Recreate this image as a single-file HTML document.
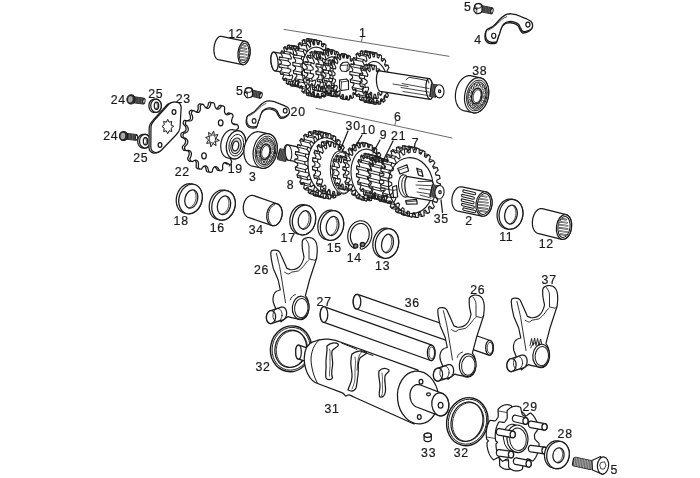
<!DOCTYPE html>
<html><head><meta charset="utf-8"><style>
html,body{margin:0;padding:0;background:#fff;width:700px;height:478px;overflow:hidden}
svg{display:block;filter:grayscale(1)}
text{font-family:"Liberation Sans",sans-serif;font-size:12.3px;letter-spacing:0.8px;fill:#1a1a1a;stroke:#1a1a1a;stroke-width:0.2px}
</style></head><body>
<svg width="700" height="478" viewBox="0 0 700 478" stroke-linejoin="round" stroke-linecap="round">
<rect width="700" height="478" fill="#fff"/>
<line x1="284" y1="29.4" x2="449" y2="56.3" stroke="#444" stroke-width="0.8"/>
<line x1="362.5" y1="36.5" x2="361.5" y2="41.5" stroke="#444" stroke-width="0.8"/>
<line x1="316" y1="108.4" x2="452" y2="138" stroke="#444" stroke-width="0.8"/>
<line x1="396" y1="120.5" x2="395" y2="125" stroke="#444" stroke-width="0.8"/>
<path d="M218.46 59.69 L218 59.55 L217.55 59.35 L217.12 59.07 L216.71 58.73 L216.32 58.32 L215.95 57.85 L215.6 57.32 L215.29 56.73 L215 56.08 L214.74 55.39 L214.52 54.65 L214.32 53.87 L214.17 53.05 L214.05 52.2 L213.96 51.33 L213.92 50.43 L213.91 49.52 L213.94 48.6 L214 47.68 L214.11 46.76 L214.24 45.85 L214.42 44.95 L214.63 44.07 L214.87 43.21 L215.15 42.38 L215.45 41.59 L215.78 40.84 L216.14 40.13 L216.52 39.47 L216.92 38.86 L217.35 38.31 L217.78 37.82 L218.24 37.39 L218.7 37.02 L219.17 36.73 L219.65 36.5 L220.13 36.35 L220.6 36.26 L221.08 36.25 L221.54 36.31 L245.54 41.31 L246 41.45 L246.45 41.65 L246.88 41.93 L247.29 42.27 L247.68 42.68 L248.05 43.15 L248.4 43.68 L248.71 44.27 L249 44.92 L249.26 45.61 L249.48 46.35 L249.68 47.13 L249.83 47.95 L249.95 48.8 L250.04 49.67 L250.08 50.57 L250.09 51.48 L250.06 52.4 L250 53.32 L249.89 54.24 L249.76 55.15 L249.58 56.05 L249.37 56.93 L249.13 57.79 L248.85 58.62 L248.55 59.41 L248.22 60.16 L247.86 60.87 L247.48 61.53 L247.08 62.14 L246.65 62.69 L246.22 63.18 L245.76 63.61 L245.3 63.98 L244.83 64.27 L244.35 64.5 L243.87 64.65 L243.4 64.74 L242.92 64.75 L242.46 64.69 Z" fill="#fff" stroke="#1a1a1a" stroke-width="1.25" />
<ellipse cx="244" cy="53" rx="6" ry="11.8" transform="rotate(6 244 53)" fill="#fff" stroke="#1a1a1a" stroke-width="1.25"/>
<ellipse cx="244" cy="53" rx="4.8" ry="9.91" transform="rotate(6 244 53)" fill="none" stroke="#1a1a1a" stroke-width="1"/>
<path d="M241.3 45.0 L245.8 46.0 M240.2 47.9 L246.5 48.9 M239.7 50.8 L246.8 51.8 M239.7 53.8 L246.8 54.8 M240.2 56.7 L246.5 57.7 M241.3 59.6 L245.8 60.6 " fill="none" stroke="#1a1a1a" stroke-width="1.6" />
<path d="M241.3 45.0 L245.8 46.0 M240.2 47.9 L246.5 48.9 M239.7 50.8 L246.8 51.8 M239.7 53.8 L246.8 54.8 M240.2 56.7 L246.5 57.7 M241.3 59.6 L245.8 60.6 " fill="none" stroke="#fff" stroke-width="0.6" />
<path d="M275.12 70.93 L274.84 70.86 L274.56 70.72 L274.27 70.53 L273.99 70.28 L273.71 69.98 L273.44 69.62 L273.17 69.22 L272.91 68.77 L272.66 68.27 L272.42 67.73 L272.19 67.15 L271.98 66.54 L271.79 65.9 L271.61 65.23 L271.44 64.53 L271.3 63.82 L271.18 63.1 L271.08 62.36 L270.99 61.62 L270.93 60.88 L270.9 60.14 L270.88 59.41 L270.89 58.69 L270.92 57.99 L270.97 57.31 L271.04 56.66 L271.13 56.04 L271.25 55.45 L271.38 54.9 L271.54 54.39 L271.71 53.92 L271.9 53.5 L272.11 53.13 L272.33 52.81 L272.56 52.55 L272.8 52.33 L273.06 52.18 L273.33 52.08 L273.6 52.05 L273.88 52.07 L291.38 55.07 L291.66 55.14 L291.94 55.28 L292.23 55.47 L292.51 55.72 L292.79 56.02 L293.06 56.38 L293.33 56.78 L293.59 57.23 L293.84 57.73 L294.08 58.27 L294.31 58.85 L294.52 59.46 L294.71 60.1 L294.89 60.77 L295.06 61.47 L295.2 62.18 L295.32 62.9 L295.42 63.64 L295.51 64.38 L295.57 65.12 L295.6 65.86 L295.62 66.59 L295.61 67.31 L295.58 68.01 L295.53 68.69 L295.46 69.34 L295.37 69.96 L295.25 70.55 L295.12 71.1 L294.96 71.61 L294.79 72.08 L294.6 72.5 L294.39 72.87 L294.17 73.19 L293.94 73.45 L293.7 73.67 L293.44 73.82 L293.17 73.92 L292.9 73.95 L292.62 73.93 Z" fill="#fff" stroke="#1a1a1a" stroke-width="1.25" />
<ellipse cx="274.5" cy="61.5" rx="3.5" ry="9.5" transform="rotate(-6 274.5 61.5)" fill="#fff" stroke="#1a1a1a" stroke-width="1.25"/>
<path d="M300.55 64.5 L300.68 66.31 L303.13 67.83 L303.03 70.42 L300.52 70.46 L300.26 72.15 L302.32 75 L301.66 77.25 L299.21 75.75 L298.59 77.09 L299.98 80.89 L298.85 82.49 L296.79 79.65 L295.89 80.47 L296.43 84.7 L294.98 85.44 L293.59 81.65 L292.54 81.83 L292.14 85.92 L290.58 85.69 L290.04 81.46 L288.97 80.98 L287.71 84.38 L286.23 83.22 L286.61 79.12 L285.68 78.04 L283.71 80.29 L282.52 78.35 L283.79 74.94 L283.11 73.41 L280.7 74.21 L279.96 71.75 L281.93 69.48 L281.61 67.71 L279.09 66.94 L278.89 64.3 L281.3 63.49 L281.37 61.71 L279.08 59.48 L279.46 57.02 L281.98 57.77 L282.43 56.22 L280.68 52.84 L281.58 50.88 L283.88 53.09 L284.65 51.99 L283.67 47.9 L284.98 46.71 L286.74 50.09 L287.73 49.58 L287.66 45.34 L289.19 45.09 L290.17 49.17 L291.25 49.32 L292.09 45.51 L293.64 46.22 L293.72 50.45 L294.73 51.25 L296.38 48.37 L297.74 49.95 L296.9 53.77 L297.72 55.1 L299.94 53.55 L300.92 55.78 L299.28 58.67 L299.79 60.36 L302.3 60.34 L302.77 62.93 Z" fill="#fff" stroke="#1a1a1a" stroke-width="1.1" />
<path d="M303.13 67.83 L312.13 69.33 M303.03 70.42 L312.03 71.92 M302.32 75 L311.32 76.5 M301.66 77.25 L310.66 78.75 M299.98 80.89 L308.98 82.39 M298.85 82.49 L307.85 83.99 M296.43 84.7 L305.43 86.2 M294.98 85.44 L303.98 86.94 M292.14 85.92 L301.14 87.42 M290.58 85.69 L299.58 87.19 M287.71 84.38 L296.71 85.88 M286.23 83.22 L295.23 84.72 M283.71 80.29 L292.71 81.79 M282.52 78.35 L291.52 79.85 M280.7 74.21 L289.7 75.71 M279.96 71.75 L288.96 73.25 M279.09 66.94 L288.09 68.44 M278.89 64.3 L287.89 65.8 M279.08 59.48 L288.08 60.98 M279.46 57.02 L288.46 58.52 M280.68 52.84 L289.68 54.34 M281.58 50.88 L290.58 52.38 M283.67 47.9 L292.67 49.4 M284.98 46.71 L293.98 48.21 M287.66 45.34 L296.66 46.84 M289.19 45.09 L298.19 46.59 M292.09 45.51 L301.09 47.01 M293.64 46.22 L302.64 47.72 M296.38 48.37 L305.38 49.87 M297.74 49.95 L306.74 51.45 M299.94 53.55 L308.94 55.05 M300.92 55.78 L309.92 57.28 M302.3 60.34 L311.3 61.84 M302.77 62.93 L311.77 64.43 " fill="none" stroke="#222" stroke-width="0.99" />
<path d="M309.55 66 L309.68 67.81 L312.13 69.33 L312.03 71.92 L309.52 71.96 L309.26 73.65 L311.32 76.5 L310.66 78.75 L308.21 77.25 L307.59 78.59 L308.98 82.39 L307.85 83.99 L305.79 81.15 L304.89 81.97 L305.43 86.2 L303.98 86.94 L302.59 83.15 L301.54 83.33 L301.14 87.42 L299.58 87.19 L299.04 82.96 L297.97 82.48 L296.71 85.88 L295.23 84.72 L295.61 80.62 L294.68 79.54 L292.71 81.79 L291.52 79.85 L292.79 76.44 L292.11 74.91 L289.7 75.71 L288.96 73.25 L290.93 70.98 L290.61 69.21 L288.09 68.44 L287.89 65.8 L290.3 64.99 L290.37 63.21 L288.08 60.98 L288.46 58.52 L290.98 59.27 L291.43 57.72 L289.68 54.34 L290.58 52.38 L292.88 54.59 L293.65 53.49 L292.67 49.4 L293.98 48.21 L295.74 51.59 L296.73 51.08 L296.66 46.84 L298.19 46.59 L299.17 50.67 L300.25 50.82 L301.09 47.01 L302.64 47.72 L302.72 51.95 L303.73 52.75 L305.38 49.87 L306.74 51.45 L305.9 55.27 L306.72 56.6 L308.94 55.05 L309.92 57.28 L308.28 60.17 L308.79 61.86 L311.3 61.84 L311.77 64.43 Z" fill="#fff" stroke="#1a1a1a" stroke-width="1.1" />
<path d="M324.37 65.99 L324.54 68.09 L327.16 69.64 L327.15 72.5 L324.51 72.96 L324.33 74.99 L326.67 77.67 L326.17 80.32 L323.48 79.48 L322.95 81.27 L324.82 84.88 L323.89 87.1 L321.36 85.04 L320.53 86.45 L321.78 90.68 L320.47 92.29 L318.31 89.17 L317.26 90.08 L317.78 94.6 L316.21 95.47 L314.6 91.55 L313.39 91.89 L313.15 96.33 L311.45 96.38 L310.51 91.98 L309.25 91.72 L308.27 95.72 L306.57 94.96 L306.37 90.43 L305.18 89.59 L303.52 92.82 L301.97 91.31 L302.54 87.02 L301.49 85.67 L299.3 87.88 L298.02 85.73 L299.3 82.02 L298.49 80.28 L295.95 81.28 L295.03 78.68 L296.94 75.86 L296.43 73.85 L293.74 73.57 L293.27 70.72 L295.63 69.01 L295.46 66.91 L292.84 65.36 L292.85 62.5 L295.49 62.04 L295.67 60.01 L293.33 57.33 L293.83 54.68 L296.52 55.52 L297.05 53.73 L295.18 50.12 L296.11 47.9 L298.64 49.96 L299.47 48.55 L298.22 44.32 L299.53 42.71 L301.69 45.83 L302.74 44.92 L302.22 40.4 L303.79 39.53 L305.4 43.45 L306.61 43.11 L306.85 38.67 L308.55 38.62 L309.49 43.02 L310.75 43.28 L311.73 39.28 L313.43 40.04 L313.63 44.57 L314.82 45.41 L316.48 42.18 L318.03 43.69 L317.46 47.98 L318.51 49.33 L320.7 47.12 L321.98 49.27 L320.7 52.98 L321.51 54.72 L324.05 53.72 L324.97 56.32 L323.06 59.14 L323.57 61.15 L326.26 61.43 L326.73 64.28 Z" fill="#fff" stroke="#1a1a1a" stroke-width="1.1" />
<path d="M327.16 69.64 L335.16 71.14 M327.15 72.5 L335.15 74 M326.67 77.67 L334.67 79.17 M326.17 80.32 L334.17 81.82 M324.82 84.88 L332.82 86.38 M323.89 87.1 L331.89 88.6 M321.78 90.68 L329.78 92.18 M320.47 92.29 L328.47 93.79 M317.78 94.6 L325.78 96.1 M316.21 95.47 L324.21 96.97 M313.15 96.33 L321.15 97.83 M311.45 96.38 L319.45 97.88 M308.27 95.72 L316.27 97.22 M306.57 94.96 L314.57 96.46 M303.52 92.82 L311.52 94.32 M301.97 91.31 L309.97 92.81 M299.3 87.88 L307.3 89.38 M298.02 85.73 L306.02 87.23 M295.95 81.28 L303.95 82.78 M295.03 78.68 L303.03 80.18 M293.74 73.57 L301.74 75.07 M293.27 70.72 L301.27 72.22 M292.84 65.36 L300.84 66.86 M292.85 62.5 L300.85 64 M293.33 57.33 L301.33 58.83 M293.83 54.68 L301.83 56.18 M295.18 50.12 L303.18 51.62 M296.11 47.9 L304.11 49.4 M298.22 44.32 L306.22 45.82 M299.53 42.71 L307.53 44.21 M302.22 40.4 L310.22 41.9 M303.79 39.53 L311.79 41.03 M306.85 38.67 L314.85 40.17 M308.55 38.62 L316.55 40.12 M311.73 39.28 L319.73 40.78 M313.43 40.04 L321.43 41.54 M316.48 42.18 L324.48 43.68 M318.03 43.69 L326.03 45.19 M320.7 47.12 L328.7 48.62 M321.98 49.27 L329.98 50.77 M324.05 53.72 L332.05 55.22 M324.97 56.32 L332.97 57.82 M326.26 61.43 L334.26 62.93 M326.73 64.28 L334.73 65.78 " fill="none" stroke="#222" stroke-width="0.99" />
<path d="M332.37 67.49 L332.54 69.59 L335.16 71.14 L335.15 74 L332.51 74.46 L332.33 76.49 L334.67 79.17 L334.17 81.82 L331.48 80.98 L330.95 82.77 L332.82 86.38 L331.89 88.6 L329.36 86.54 L328.53 87.95 L329.78 92.18 L328.47 93.79 L326.31 90.67 L325.26 91.58 L325.78 96.1 L324.21 96.97 L322.6 93.05 L321.39 93.39 L321.15 97.83 L319.45 97.88 L318.51 93.48 L317.25 93.22 L316.27 97.22 L314.57 96.46 L314.37 91.93 L313.18 91.09 L311.52 94.32 L309.97 92.81 L310.54 88.52 L309.49 87.17 L307.3 89.38 L306.02 87.23 L307.3 83.52 L306.49 81.78 L303.95 82.78 L303.03 80.18 L304.94 77.36 L304.43 75.35 L301.74 75.07 L301.27 72.22 L303.63 70.51 L303.46 68.41 L300.84 66.86 L300.85 64 L303.49 63.54 L303.67 61.51 L301.33 58.83 L301.83 56.18 L304.52 57.02 L305.05 55.23 L303.18 51.62 L304.11 49.4 L306.64 51.46 L307.47 50.05 L306.22 45.82 L307.53 44.21 L309.69 47.33 L310.74 46.42 L310.22 41.9 L311.79 41.03 L313.4 44.95 L314.61 44.61 L314.85 40.17 L316.55 40.12 L317.49 44.52 L318.75 44.78 L319.73 40.78 L321.43 41.54 L321.63 46.07 L322.82 46.91 L324.48 43.68 L326.03 45.19 L325.46 49.48 L326.51 50.83 L328.7 48.62 L329.98 50.77 L328.7 54.48 L329.51 56.22 L332.05 55.22 L332.97 57.82 L331.06 60.64 L331.57 62.65 L334.26 62.93 L334.73 65.78 Z" fill="#fff" stroke="#1a1a1a" stroke-width="1.1" />
<ellipse cx="317.5" cy="72" rx="15.3" ry="24.94" transform="rotate(-6 317.5 72)" fill="none" stroke="#1a1a1a" stroke-width="1.1"/>
<path d="M323.7 70.14 L323.84 72.01 L326.64 73.8 L326.5 76.66 L323.63 76.28 L323.33 77.99 L325.63 81.58 L324.84 83.94 L322.16 81.51 L321.47 82.76 L322.87 87.54 L321.57 88.98 L319.53 84.92 L318.58 85.49 L318.83 90.63 L317.25 90.92 L316.2 85.93 L315.15 85.72 L314.22 90.32 L312.62 89.41 L312.76 84.35 L311.79 83.4 L309.83 86.68 L308.49 84.72 L309.78 80.47 L309.07 78.94 L306.42 80.33 L305.58 77.65 L307.8 74.95 L307.46 73.11 L304.58 72.36 L304.38 69.44 L307.15 68.74 L307.24 66.91 L304.63 64.16 L305.1 61.5 L307.94 62.93 L308.45 61.42 L306.56 57.14 L307.62 55.2 L310.04 58.51 L310.88 57.58 L310.03 52.52 L311.51 51.63 L313.08 56.25 L314.1 56.07 L314.45 51.09 L316.08 51.41 L316.54 56.55 L317.57 57.13 L319.05 53.11 L320.55 54.58 L319.82 59.34 L320.69 60.6 L323.04 58.22 L324.15 60.59 L322.36 64.14 L322.9 65.86 L325.72 65.54 L326.26 68.4 Z" fill="#fff" stroke="#1a1a1a" stroke-width="1.1" />
<path d="M326.64 73.8 L332.64 74.8 M326.5 76.66 L332.5 77.66 M325.63 81.58 L331.63 82.58 M324.84 83.94 L330.84 84.94 M322.87 87.54 L328.87 88.54 M321.57 88.98 L327.57 89.98 M318.83 90.63 L324.83 91.63 M317.25 90.92 L323.25 91.92 M314.22 90.32 L320.22 91.32 M312.62 89.41 L318.62 90.41 M309.83 86.68 L315.83 87.68 M308.49 84.72 L314.49 85.72 M306.42 80.33 L312.42 81.33 M305.58 77.65 L311.58 78.65 M304.58 72.36 L310.58 73.36 M304.38 69.44 L310.38 70.44 M304.63 64.16 L310.63 65.16 M305.1 61.5 L311.1 62.5 M306.56 57.14 L312.56 58.14 M307.62 55.2 L313.62 56.2 M310.03 52.52 L316.03 53.52 M311.51 51.63 L317.51 52.63 M314.45 51.09 L320.45 52.09 M316.08 51.41 L322.08 52.41 M319.05 53.11 L325.05 54.11 M320.55 54.58 L326.55 55.58 M323.04 58.22 L329.04 59.22 M324.15 60.59 L330.15 61.59 M325.72 65.54 L331.72 66.54 M326.26 68.4 L332.26 69.4 " fill="none" stroke="#222" stroke-width="0.99" />
<path d="M329.7 71.14 L329.84 73.01 L332.64 74.8 L332.5 77.66 L329.63 77.28 L329.33 78.99 L331.63 82.58 L330.84 84.94 L328.16 82.51 L327.47 83.76 L328.87 88.54 L327.57 89.98 L325.53 85.92 L324.58 86.49 L324.83 91.63 L323.25 91.92 L322.2 86.93 L321.15 86.72 L320.22 91.32 L318.62 90.41 L318.76 85.35 L317.79 84.4 L315.83 87.68 L314.49 85.72 L315.78 81.47 L315.07 79.94 L312.42 81.33 L311.58 78.65 L313.8 75.95 L313.46 74.11 L310.58 73.36 L310.38 70.44 L313.15 69.74 L313.24 67.91 L310.63 65.16 L311.1 62.5 L313.94 63.93 L314.45 62.42 L312.56 58.14 L313.62 56.2 L316.04 59.51 L316.88 58.58 L316.03 53.52 L317.51 52.63 L319.08 57.25 L320.1 57.07 L320.45 52.09 L322.08 52.41 L322.54 57.55 L323.57 58.13 L325.05 54.11 L326.55 55.58 L325.82 60.34 L326.69 61.6 L329.04 59.22 L330.15 61.59 L328.36 65.14 L328.9 66.86 L331.72 66.54 L332.26 69.4 Z" fill="#fff" stroke="#1a1a1a" stroke-width="1.1" />
<path d="M339.67 71.38 L339.81 73.29 L342.15 74.81 L342.11 77.49 L339.75 77.7 L339.54 79.52 L341.57 82.25 L341.04 84.65 L338.66 83.46 L338.12 84.98 L339.63 88.63 L338.66 90.49 L336.53 88.03 L335.72 89.09 L336.53 93.27 L335.24 94.38 L333.58 90.92 L332.59 91.4 L332.62 95.65 L331.14 95.9 L330.14 91.81 L329.06 91.67 L328.32 95.53 L326.8 94.88 L326.57 90.61 L325.54 89.85 L324.09 92.9 L322.71 91.44 L323.27 87.44 L322.38 86.16 L320.39 88.07 L319.3 85.95 L320.58 82.66 L319.95 80.99 L317.62 81.55 L316.94 79 L318.81 76.78 L318.49 74.89 L316.09 74.05 L315.88 71.34 L318.15 70.43 L318.17 68.54 L315.96 66.38 L316.25 63.81 L318.65 64.31 L319.03 62.62 L317.24 59.38 L318 57.23 L320.28 59.07 L320.97 57.76 L319.79 53.79 L320.94 52.29 L322.86 55.29 L323.78 54.51 L323.35 50.24 L324.76 49.55 L326.1 53.38 L327.15 53.2 L327.51 49.09 L329.03 49.29 L329.65 53.53 L330.72 53.99 L331.84 50.48 L333.3 51.55 L333.14 55.75 L334.11 56.78 L335.86 54.26 L337.11 56.08 L336.17 59.77 L336.94 61.27 L339.13 60.02 L340.03 62.39 L338.43 65.18 L338.92 66.99 L341.31 67.12 L341.77 69.79 Z" fill="#fff" stroke="#1a1a1a" stroke-width="1.1" />
<path d="M342.15 74.81 L347.15 75.81 M342.11 77.49 L347.11 78.49 M341.57 82.25 L346.57 83.25 M341.04 84.65 L346.04 85.65 M339.63 88.63 L344.63 89.63 M338.66 90.49 L343.66 91.49 M336.53 93.27 L341.53 94.27 M335.24 94.38 L340.24 95.38 M332.62 95.65 L337.62 96.65 M331.14 95.9 L336.14 96.9 M328.32 95.53 L333.32 96.53 M326.8 94.88 L331.8 95.88 M324.09 92.9 L329.09 93.9 M322.71 91.44 L327.71 92.44 M320.39 88.07 L325.39 89.07 M319.3 85.95 L324.3 86.95 M317.62 81.55 L322.62 82.55 M316.94 79 L321.94 80 M316.09 74.05 L321.09 75.05 M315.88 71.34 L320.88 72.34 M315.96 66.38 L320.96 67.38 M316.25 63.81 L321.25 64.81 M317.24 59.38 L322.24 60.38 M318 57.23 L323 58.23 M319.79 53.79 L324.79 54.79 M320.94 52.29 L325.94 53.29 M323.35 50.24 L328.35 51.24 M324.76 49.55 L329.76 50.55 M327.51 49.09 L332.51 50.09 M329.03 49.29 L334.03 50.29 M331.84 50.48 L336.84 51.48 M333.3 51.55 L338.3 52.55 M335.86 54.26 L340.86 55.26 M337.11 56.08 L342.11 57.08 M339.13 60.02 L344.13 61.02 M340.03 62.39 L345.03 63.39 M341.31 67.12 L346.31 68.12 M341.77 69.79 L346.77 70.79 " fill="none" stroke="#222" stroke-width="0.99" />
<path d="M344.67 72.38 L344.81 74.29 L347.15 75.81 L347.11 78.49 L344.75 78.7 L344.54 80.52 L346.57 83.25 L346.04 85.65 L343.66 84.46 L343.12 85.98 L344.63 89.63 L343.66 91.49 L341.53 89.03 L340.72 90.09 L341.53 94.27 L340.24 95.38 L338.58 91.92 L337.59 92.4 L337.62 96.65 L336.14 96.9 L335.14 92.81 L334.06 92.67 L333.32 96.53 L331.8 95.88 L331.57 91.61 L330.54 90.85 L329.09 93.9 L327.71 92.44 L328.27 88.44 L327.38 87.16 L325.39 89.07 L324.3 86.95 L325.58 83.66 L324.95 81.99 L322.62 82.55 L321.94 80 L323.81 77.78 L323.49 75.89 L321.09 75.05 L320.88 72.34 L323.15 71.43 L323.17 69.54 L320.96 67.38 L321.25 64.81 L323.65 65.31 L324.03 63.62 L322.24 60.38 L323 58.23 L325.28 60.07 L325.97 58.76 L324.79 54.79 L325.94 53.29 L327.86 56.29 L328.78 55.51 L328.35 51.24 L329.76 50.55 L331.1 54.38 L332.15 54.2 L332.51 50.09 L334.03 50.29 L334.65 54.53 L335.72 54.99 L336.84 51.48 L338.3 52.55 L338.14 56.75 L339.11 57.78 L340.86 55.26 L342.11 57.08 L341.17 60.77 L341.94 62.27 L344.13 61.02 L345.03 63.39 L343.43 66.18 L343.92 67.99 L346.31 68.12 L346.77 70.79 Z" fill="#fff" stroke="#1a1a1a" stroke-width="1.1" />
<ellipse cx="333.5" cy="76.5" rx="11.44" ry="19.74" transform="rotate(-6 333.5 76.5)" fill="none" stroke="#1a1a1a" stroke-width="1.1"/>
<path d="M338.13 74.86 L338.24 76.67 L340.61 78.56 L340.38 81.35 L337.91 80.71 L337.53 82.26 L339.22 85.97 L338.24 87.98 L336.11 85.17 L335.33 86.04 L335.9 90.57 L334.44 91.26 L333.21 87.04 L332.24 87 L331.54 91.14 L329.98 90.32 L329.99 85.81 L329.09 84.87 L327.3 87.52 L326.06 85.41 L327.3 81.83 L326.71 80.24 L324.32 80.67 L323.74 77.84 L325.87 76.14 L325.76 74.33 L323.39 72.44 L323.62 69.65 L326.09 70.29 L326.47 68.74 L324.78 65.03 L325.76 63.02 L327.89 65.83 L328.67 64.96 L328.1 60.43 L329.56 59.74 L330.79 63.96 L331.76 64 L332.46 59.86 L334.02 60.68 L334.01 65.19 L334.91 66.13 L336.7 63.48 L337.94 65.59 L336.7 69.17 L337.29 70.76 L339.68 70.33 L340.26 73.16 Z" fill="#fff" stroke="#1a1a1a" stroke-width="1.1" />
<path d="M340.61 78.56 L345.61 79.56 M340.38 81.35 L345.38 82.35 M339.22 85.97 L344.22 86.97 M338.24 87.98 L343.24 88.98 M335.9 90.57 L340.9 91.57 M334.44 91.26 L339.44 92.26 M331.54 91.14 L336.54 92.14 M329.98 90.32 L334.98 91.32 M327.3 87.52 L332.3 88.52 M326.06 85.41 L331.06 86.41 M324.32 80.67 L329.32 81.67 M323.74 77.84 L328.74 78.84 M323.39 72.44 L328.39 73.44 M323.62 69.65 L328.62 70.65 M324.78 65.03 L329.78 66.03 M325.76 63.02 L330.76 64.02 M328.1 60.43 L333.1 61.43 M329.56 59.74 L334.56 60.74 M332.46 59.86 L337.46 60.86 M334.02 60.68 L339.02 61.68 M336.7 63.48 L341.7 64.48 M337.94 65.59 L342.94 66.59 M339.68 70.33 L344.68 71.33 M340.26 73.16 L345.26 74.16 " fill="none" stroke="#222" stroke-width="0.99" />
<path d="M343.13 75.86 L343.24 77.67 L345.61 79.56 L345.38 82.35 L342.91 81.71 L342.53 83.26 L344.22 86.97 L343.24 88.98 L341.11 86.17 L340.33 87.04 L340.9 91.57 L339.44 92.26 L338.21 88.04 L337.24 88 L336.54 92.14 L334.98 91.32 L334.99 86.81 L334.09 85.87 L332.3 88.52 L331.06 86.41 L332.3 82.83 L331.71 81.24 L329.32 81.67 L328.74 78.84 L330.87 77.14 L330.76 75.33 L328.39 73.44 L328.62 70.65 L331.09 71.29 L331.47 69.74 L329.78 66.03 L330.76 64.02 L332.89 66.83 L333.67 65.96 L333.1 61.43 L334.56 60.74 L335.79 64.96 L336.76 65 L337.46 60.86 L339.02 61.68 L339.01 66.19 L339.91 67.13 L341.7 64.48 L342.94 66.59 L341.7 70.17 L342.29 71.76 L344.68 71.33 L345.26 74.16 Z" fill="#fff" stroke="#1a1a1a" stroke-width="1.1" />
<path d="M353.82 75.36 L353.97 77.26 L356.15 78.74 L356.1 81.35 L353.89 81.64 L353.68 83.45 L355.55 86.02 L355.01 88.36 L352.78 87.36 L352.23 88.87 L353.59 92.27 L352.62 94.09 L350.6 91.91 L349.78 92.96 L350.48 96.81 L349.19 97.9 L347.61 94.78 L346.59 95.27 L346.57 99.16 L345.08 99.4 L344.11 95.67 L343.02 95.54 L342.27 99.04 L340.75 98.42 L340.5 94.49 L339.45 93.74 L338.04 96.49 L336.67 95.06 L337.15 91.36 L336.26 90.08 L334.36 91.76 L333.27 89.69 L334.44 86.61 L333.8 84.95 L331.61 85.39 L330.92 82.89 L332.66 80.77 L332.34 78.9 L330.09 78.05 L329.89 75.4 L331.99 74.47 L332.03 72.59 L329.98 70.54 L330.27 68.03 L332.53 68.39 L332.91 66.71 L331.27 63.68 L332.04 61.57 L334.19 63.18 L334.89 61.88 L333.84 58.21 L334.99 56.74 L336.81 59.42 L337.74 58.64 L337.4 54.72 L338.81 54.04 L340.1 57.51 L341.17 57.34 L341.56 53.59 L343.08 53.78 L343.71 57.66 L344.79 58.11 L345.89 54.94 L347.35 55.98 L347.23 59.85 L348.22 60.87 L349.9 58.63 L351.14 60.41 L350.3 63.84 L351.08 65.33 L353.16 64.26 L354.05 66.58 L352.58 69.21 L353.07 71 L355.32 71.21 L355.77 73.82 Z" fill="#fff" stroke="#1a1a1a" stroke-width="1.1" />
<path d="M356.15 78.74 L359.15 79.24 M356.1 81.35 L359.1 81.85 M355.55 86.02 L358.55 86.52 M355.01 88.36 L358.01 88.86 M353.59 92.27 L356.59 92.77 M352.62 94.09 L355.62 94.59 M350.48 96.81 L353.48 97.31 M349.19 97.9 L352.19 98.4 M346.57 99.16 L349.57 99.66 M345.08 99.4 L348.08 99.9 M342.27 99.04 L345.27 99.54 M340.75 98.42 L343.75 98.92 M338.04 96.49 L341.04 96.99 M336.67 95.06 L339.67 95.56 M334.36 91.76 L337.36 92.26 M333.27 89.69 L336.27 90.19 M331.61 85.39 L334.61 85.89 M330.92 82.89 L333.92 83.39 M330.09 78.05 L333.09 78.55 M329.89 75.4 L332.89 75.9 M329.98 70.54 L332.98 71.04 M330.27 68.03 L333.27 68.53 M331.27 63.68 L334.27 64.18 M332.04 61.57 L335.04 62.07 M333.84 58.21 L336.84 58.71 M334.99 56.74 L337.99 57.24 M337.4 54.72 L340.4 55.22 M338.81 54.04 L341.81 54.54 M341.56 53.59 L344.56 54.09 M343.08 53.78 L346.08 54.28 M345.89 54.94 L348.89 55.44 M347.35 55.98 L350.35 56.48 M349.9 58.63 L352.9 59.13 M351.14 60.41 L354.14 60.91 M353.16 64.26 L356.16 64.76 M354.05 66.58 L357.05 67.08 M355.32 71.21 L358.32 71.71 M355.77 73.82 L358.77 74.32 " fill="none" stroke="#222" stroke-width="0.99" />
<path d="M356.82 75.86 L356.97 77.76 L359.15 79.24 L359.1 81.85 L356.89 82.14 L356.68 83.95 L358.55 86.52 L358.01 88.86 L355.78 87.86 L355.23 89.37 L356.59 92.77 L355.62 94.59 L353.6 92.41 L352.78 93.46 L353.48 97.31 L352.19 98.4 L350.61 95.28 L349.59 95.77 L349.57 99.66 L348.08 99.9 L347.11 96.17 L346.02 96.04 L345.27 99.54 L343.75 98.92 L343.5 94.99 L342.45 94.24 L341.04 96.99 L339.67 95.56 L340.15 91.86 L339.26 90.58 L337.36 92.26 L336.27 90.19 L337.44 87.11 L336.8 85.45 L334.61 85.89 L333.92 83.39 L335.66 81.27 L335.34 79.4 L333.09 78.55 L332.89 75.9 L334.99 74.97 L335.03 73.09 L332.98 71.04 L333.27 68.53 L335.53 68.89 L335.91 67.21 L334.27 64.18 L335.04 62.07 L337.19 63.68 L337.89 62.38 L336.84 58.71 L337.99 57.24 L339.81 59.92 L340.74 59.14 L340.4 55.22 L341.81 54.54 L343.1 58.01 L344.17 57.84 L344.56 54.09 L346.08 54.28 L346.71 58.16 L347.79 58.61 L348.89 55.44 L350.35 56.48 L350.23 60.35 L351.22 61.37 L352.9 59.13 L354.14 60.91 L353.3 64.34 L354.08 65.83 L356.16 64.76 L357.05 67.08 L355.58 69.71 L356.07 71.5 L358.32 71.71 L358.77 74.32 Z" fill="#fff" stroke="#1a1a1a" stroke-width="1.1" />
<path d="M340.5 65 L343 62.5 L347.5 62 L349.5 64.5 L349 69.5 L346 71.5 L341.5 71 L340 68 Z" fill="#fff" stroke="#1a1a1a" stroke-width="1.1" />
<path d="M341 65.5 L347.5 65 L349.5 64.5 M347.5 65 L347 71" fill="none" stroke="#1a1a1a" stroke-width="0.8" />
<path d="M339.5 80 L346.5 79 L348.5 81 L348.5 89.5 L341 90.5 L339.5 88.5 Z" fill="#fff" stroke="#1a1a1a" stroke-width="1.1" />
<path d="M339.5 80 L341.5 82 L348.5 81 M341.5 82 L341 90.5" fill="none" stroke="#1a1a1a" stroke-width="0.8" />
<path d="M378.4 75.24 L378.56 77.29 L381.15 78.84 L381.1 81.66 L378.47 82 L378.24 83.95 L380.5 86.71 L379.92 89.27 L377.28 88.22 L376.68 89.9 L378.39 93.59 L377.34 95.63 L374.92 93.31 L374.03 94.54 L375.02 98.8 L373.6 100.13 L371.65 96.76 L370.53 97.43 L370.71 101.84 L369.06 102.33 L367.77 98.24 L366.55 98.27 L365.9 102.41 L364.18 102.01 L363.68 97.6 L362.46 97 L361.04 100.45 L359.42 99.2 L359.76 94.91 L358.67 93.73 L356.62 96.16 L355.26 94.18 L356.4 90.42 L355.55 88.78 L353.07 89.96 L352.1 87.44 L353.93 84.58 L353.4 82.64 L350.74 82.44 L350.26 79.64 L352.6 77.96 L352.44 75.91 L349.85 74.36 L349.9 71.54 L352.53 71.2 L352.76 69.25 L350.5 66.49 L351.08 63.93 L353.72 64.98 L354.32 63.3 L352.61 59.61 L353.66 57.57 L356.08 59.89 L356.97 58.66 L355.98 54.4 L357.4 53.07 L359.35 56.44 L360.47 55.77 L360.29 51.36 L361.94 50.87 L363.23 54.96 L364.45 54.93 L365.1 50.79 L366.82 51.19 L367.32 55.6 L368.54 56.2 L369.96 52.75 L371.58 54 L371.24 58.29 L372.33 59.47 L374.38 57.04 L375.74 59.02 L374.6 62.78 L375.45 64.42 L377.93 63.24 L378.9 65.76 L377.07 68.62 L377.6 70.56 L380.26 70.76 L380.74 73.56 Z" fill="#fff" stroke="#1a1a1a" stroke-width="1.1" />
<path d="M381.15 78.84 L391.15 80.74 M381.1 81.66 L391.1 83.56 M380.5 86.71 L390.5 88.61 M379.92 89.27 L389.92 91.17 M378.39 93.59 L388.39 95.49 M377.34 95.63 L387.34 97.53 M375.02 98.8 L385.02 100.7 M373.6 100.13 L383.6 102.03 M370.71 101.84 L380.71 103.74 M369.06 102.33 L379.06 104.23 M365.9 102.41 L375.9 104.31 M364.18 102.01 L374.18 103.91 M361.04 100.45 L371.04 102.35 M359.42 99.2 L369.42 101.1 M356.62 96.16 L366.62 98.06 M355.26 94.18 L365.26 96.08 M353.07 89.96 L363.07 91.86 M352.1 87.44 L362.1 89.34 M350.74 82.44 L360.74 84.34 M350.26 79.64 L360.26 81.54 M349.85 74.36 L359.85 76.26 M349.9 71.54 L359.9 73.44 M350.5 66.49 L360.5 68.39 M351.08 63.93 L361.08 65.83 M352.61 59.61 L362.61 61.51 M353.66 57.57 L363.66 59.47 M355.98 54.4 L365.98 56.3 M357.4 53.07 L367.4 54.97 M360.29 51.36 L370.29 53.26 M361.94 50.87 L371.94 52.77 M365.1 50.79 L375.1 52.69 M366.82 51.19 L376.82 53.09 M369.96 52.75 L379.96 54.65 M371.58 54 L381.58 55.9 M374.38 57.04 L384.38 58.94 M375.74 59.02 L385.74 60.92 M377.93 63.24 L387.93 65.14 M378.9 65.76 L388.9 67.66 M380.26 70.76 L390.26 72.66 M380.74 73.56 L390.74 75.46 " fill="none" stroke="#222" stroke-width="0.99" />
<path d="M388.4 77.14 L388.56 79.19 L391.15 80.74 L391.1 83.56 L388.47 83.9 L388.24 85.85 L390.5 88.61 L389.92 91.17 L387.28 90.12 L386.68 91.8 L388.39 95.49 L387.34 97.53 L384.92 95.21 L384.03 96.44 L385.02 100.7 L383.6 102.03 L381.65 98.66 L380.53 99.33 L380.71 103.74 L379.06 104.23 L377.77 100.14 L376.55 100.17 L375.9 104.31 L374.18 103.91 L373.68 99.5 L372.46 98.9 L371.04 102.35 L369.42 101.1 L369.76 96.81 L368.67 95.63 L366.62 98.06 L365.26 96.08 L366.4 92.32 L365.55 90.68 L363.07 91.86 L362.1 89.34 L363.93 86.48 L363.4 84.54 L360.74 84.34 L360.26 81.54 L362.6 79.86 L362.44 77.81 L359.85 76.26 L359.9 73.44 L362.53 73.1 L362.76 71.15 L360.5 68.39 L361.08 65.83 L363.72 66.88 L364.32 65.2 L362.61 61.51 L363.66 59.47 L366.08 61.79 L366.97 60.56 L365.98 56.3 L367.4 54.97 L369.35 58.34 L370.47 57.67 L370.29 53.26 L371.94 52.77 L373.23 56.86 L374.45 56.83 L375.1 52.69 L376.82 53.09 L377.32 57.5 L378.54 58.1 L379.96 54.65 L381.58 55.9 L381.24 60.19 L382.33 61.37 L384.38 58.94 L385.74 60.92 L384.6 64.68 L385.45 66.32 L387.93 65.14 L388.9 67.66 L387.07 70.52 L387.6 72.46 L390.26 72.66 L390.74 75.46 Z" fill="#fff" stroke="#1a1a1a" stroke-width="1.1" />
<ellipse cx="375.5" cy="82" rx="12.09" ry="20.54" transform="rotate(-6 375.5 82)" fill="none" stroke="#1a1a1a" stroke-width="1.1"/>
<path d="M375.85 80.28 L375.97 82.21 L378.59 84.2 L378.32 87.18 L375.58 86.51 L375.13 88.15 L377.01 92.09 L375.9 94.23 L373.54 91.26 L372.66 92.19 L373.27 97 L371.63 97.75 L370.29 93.26 L369.2 93.22 L368.4 97.63 L366.66 96.77 L366.69 91.98 L365.69 90.98 L363.68 93.8 L362.31 91.57 L363.71 87.75 L363.07 86.06 L360.39 86.54 L359.75 83.54 L362.15 81.72 L362.03 79.79 L359.41 77.8 L359.68 74.82 L362.42 75.49 L362.87 73.85 L360.99 69.91 L362.1 67.77 L364.46 70.74 L365.34 69.81 L364.73 65 L366.37 64.25 L367.71 68.74 L368.8 68.78 L369.6 64.37 L371.34 65.23 L371.31 70.02 L372.31 71.02 L374.32 68.2 L375.69 70.43 L374.29 74.25 L374.93 75.94 L377.61 75.46 L378.25 78.46 Z" fill="#fff" stroke="#1a1a1a" stroke-width="1.1" />
<path d="M378.59 84.2 L383.59 85.2 M378.32 87.18 L383.32 88.18 M377.01 92.09 L382.01 93.09 M375.9 94.23 L380.9 95.23 M373.27 97 L378.27 98 M371.63 97.75 L376.63 98.75 M368.4 97.63 L373.4 98.63 M366.66 96.77 L371.66 97.77 M363.68 93.8 L368.68 94.8 M362.31 91.57 L367.31 92.57 M360.39 86.54 L365.39 87.54 M359.75 83.54 L364.75 84.54 M359.41 77.8 L364.41 78.8 M359.68 74.82 L364.68 75.82 M360.99 69.91 L365.99 70.91 M362.1 67.77 L367.1 68.77 M364.73 65 L369.73 66 M366.37 64.25 L371.37 65.25 M369.6 64.37 L374.6 65.37 M371.34 65.23 L376.34 66.23 M374.32 68.2 L379.32 69.2 M375.69 70.43 L380.69 71.43 M377.61 75.46 L382.61 76.46 M378.25 78.46 L383.25 79.46 " fill="none" stroke="#222" stroke-width="0.99" />
<path d="M380.85 81.28 L380.97 83.21 L383.59 85.2 L383.32 88.18 L380.58 87.51 L380.13 89.15 L382.01 93.09 L380.9 95.23 L378.54 92.26 L377.66 93.19 L378.27 98 L376.63 98.75 L375.29 94.26 L374.2 94.22 L373.4 98.63 L371.66 97.77 L371.69 92.98 L370.69 91.98 L368.68 94.8 L367.31 92.57 L368.71 88.75 L368.07 87.06 L365.39 87.54 L364.75 84.54 L367.15 82.72 L367.03 80.79 L364.41 78.8 L364.68 75.82 L367.42 76.49 L367.87 74.85 L365.99 70.91 L367.1 68.77 L369.46 71.74 L370.34 70.81 L369.73 66 L371.37 65.25 L372.71 69.74 L373.8 69.78 L374.6 65.37 L376.34 66.23 L376.31 71.02 L377.31 72.02 L379.32 69.2 L380.69 71.43 L379.29 75.25 L379.93 76.94 L382.61 76.46 L383.25 79.46 Z" fill="#fff" stroke="#1a1a1a" stroke-width="1.1" />
<path d="M380.47 91.47 L380.19 91.4 L379.91 91.27 L379.64 91.07 L379.36 90.82 L379.09 90.5 L378.82 90.13 L378.56 89.71 L378.31 89.23 L378.07 88.7 L377.84 88.13 L377.62 87.51 L377.42 86.85 L377.23 86.16 L377.07 85.44 L376.92 84.69 L376.79 83.92 L376.67 83.14 L376.58 82.34 L376.51 81.53 L376.47 80.73 L376.44 79.92 L376.44 79.13 L376.45 78.34 L376.49 77.58 L376.55 76.83 L376.64 76.12 L376.74 75.43 L376.86 74.78 L377.01 74.17 L377.17 73.61 L377.35 73.09 L377.54 72.62 L377.75 72.2 L377.97 71.84 L378.21 71.53 L378.46 71.29 L378.72 71.11 L378.98 70.99 L379.25 70.93 L379.53 70.93 L429.03 78.73 L429.31 78.8 L429.59 78.93 L429.86 79.13 L430.14 79.38 L430.41 79.7 L430.68 80.07 L430.94 80.49 L431.19 80.97 L431.43 81.5 L431.66 82.07 L431.88 82.69 L432.08 83.35 L432.27 84.04 L432.43 84.76 L432.58 85.51 L432.71 86.28 L432.83 87.06 L432.92 87.86 L432.99 88.67 L433.03 89.47 L433.06 90.28 L433.06 91.07 L433.05 91.86 L433.01 92.62 L432.95 93.37 L432.86 94.08 L432.76 94.77 L432.64 95.42 L432.49 96.03 L432.33 96.59 L432.15 97.11 L431.96 97.58 L431.75 98 L431.53 98.36 L431.29 98.67 L431.04 98.91 L430.78 99.09 L430.52 99.21 L430.25 99.27 L429.97 99.27 Z" fill="#fff" stroke="#1a1a1a" stroke-width="1.25" />
<ellipse cx="429.5" cy="89" rx="3.5" ry="10.3" transform="rotate(-4 429.5 89)" fill="#fff" stroke="#1a1a1a" stroke-width="1.25"/>
<path d="M402 83.5 L429 88.5 M401 87.5 L428.5 92 M403 91.5 L428 95.5 M393 84 L408 86.5" fill="none" stroke="#1a1a1a" stroke-width="0.8" />
<path d="M406 79.8 L409 77.3 L418 78.8 L428.5 80.8 L428.8 83" fill="none" stroke="#1a1a1a" stroke-width="0.9" />
<g transform="translate(430.5 90.2) rotate(8)">
<rect x="0" y="-6.2" width="6" height="12.4" fill="#2a2a2a" stroke="#1a1a1a" stroke-width="1"/>
<path d="M1.5 -6 L1.5 6 M3 -6 L3 6 M4.5 -6 L4.5 6" fill="none" stroke="#999" stroke-width="0.5" />
</g>
<ellipse cx="439.3" cy="91.3" rx="4.7" ry="6.6" transform="rotate(-3 439.3 91.3)" fill="#fff" stroke="#1a1a1a" stroke-width="1.1"/>
<ellipse cx="439.6" cy="91.3" rx="1.1" ry="1.4" transform="rotate(0 439.6 91.3)" fill="none" stroke="#1a1a1a" stroke-width="1.25"/>
<path d="M463.6 110.57 L462.71 110.3 L461.85 109.92 L461.03 109.44 L460.24 108.86 L459.5 108.19 L458.81 107.42 L458.18 106.57 L457.6 105.63 L457.08 104.61 L456.63 103.53 L456.24 102.38 L455.92 101.18 L455.68 99.92 L455.5 98.63 L455.4 97.3 L455.38 95.94 L455.43 94.57 L455.56 93.19 L455.75 91.81 L456.02 90.44 L456.37 89.09 L456.78 87.76 L457.25 86.47 L457.79 85.21 L458.39 84.01 L459.05 82.86 L459.75 81.78 L460.51 80.76 L461.31 79.83 L462.14 78.97 L463.01 78.2 L463.91 77.53 L464.83 76.95 L465.77 76.48 L466.71 76.1 L467.66 75.83 L468.61 75.67 L469.56 75.62 L470.49 75.67 L471.4 75.83 L480.5 77.93 L481.39 78.2 L482.25 78.58 L483.07 79.06 L483.86 79.64 L484.6 80.31 L485.29 81.08 L485.92 81.93 L486.5 82.87 L487.02 83.89 L487.47 84.97 L487.86 86.12 L488.18 87.32 L488.42 88.58 L488.6 89.87 L488.7 91.2 L488.72 92.56 L488.67 93.93 L488.54 95.31 L488.35 96.69 L488.08 98.06 L487.73 99.41 L487.32 100.74 L486.85 102.03 L486.31 103.29 L485.71 104.49 L485.05 105.64 L484.35 106.72 L483.59 107.74 L482.79 108.67 L481.96 109.53 L481.09 110.3 L480.19 110.97 L479.27 111.55 L478.33 112.02 L477.39 112.4 L476.44 112.67 L475.49 112.83 L474.54 112.88 L473.61 112.83 L472.7 112.67 Z" fill="#fff" stroke="#1a1a1a" stroke-width="1.2" />
<ellipse cx="476.6" cy="95.3" rx="11.8" ry="17.8" transform="rotate(12 476.6 95.3)" fill="#fff" stroke="#1a1a1a" stroke-width="1.2"/>
<ellipse cx="476.9" cy="95.5" rx="10.15" ry="15.66" transform="rotate(12 476.9 95.5)" fill="none" stroke="#1a1a1a" stroke-width="0.9"/>
<ellipse cx="477" cy="95.6" rx="8.97" ry="13.88" transform="rotate(12 477 95.6)" fill="#d8d8d8" stroke="#1a1a1a" stroke-width="0.9"/>
<ellipse cx="484.16" cy="97.12" rx="1.18" ry="1.33" transform="rotate(0 484.16 97.12)" fill="#fff" stroke="#1a1a1a" stroke-width="0.8"/>
<ellipse cx="482.59" cy="101.45" rx="1.18" ry="1.33" transform="rotate(0 482.59 101.45)" fill="#fff" stroke="#1a1a1a" stroke-width="0.8"/>
<ellipse cx="480.06" cy="104.77" rx="1.18" ry="1.33" transform="rotate(0 480.06 104.77)" fill="#fff" stroke="#1a1a1a" stroke-width="0.8"/>
<ellipse cx="476.99" cy="106.5" rx="1.18" ry="1.33" transform="rotate(0 476.99 106.5)" fill="#fff" stroke="#1a1a1a" stroke-width="0.8"/>
<ellipse cx="473.93" cy="106.35" rx="1.18" ry="1.33" transform="rotate(0 473.93 106.35)" fill="#fff" stroke="#1a1a1a" stroke-width="0.8"/>
<ellipse cx="471.4" cy="104.34" rx="1.18" ry="1.33" transform="rotate(0 471.4 104.34)" fill="#fff" stroke="#1a1a1a" stroke-width="0.8"/>
<ellipse cx="469.84" cy="100.82" rx="1.18" ry="1.33" transform="rotate(0 469.84 100.82)" fill="#fff" stroke="#1a1a1a" stroke-width="0.8"/>
<ellipse cx="469.52" cy="96.39" rx="1.18" ry="1.33" transform="rotate(0 469.52 96.39)" fill="#fff" stroke="#1a1a1a" stroke-width="0.8"/>
<ellipse cx="470.49" cy="91.83" rx="1.18" ry="1.33" transform="rotate(0 470.49 91.83)" fill="#fff" stroke="#1a1a1a" stroke-width="0.8"/>
<ellipse cx="472.58" cy="87.92" rx="1.18" ry="1.33" transform="rotate(0 472.58 87.92)" fill="#fff" stroke="#1a1a1a" stroke-width="0.8"/>
<ellipse cx="475.44" cy="85.34" rx="1.18" ry="1.33" transform="rotate(0 475.44 85.34)" fill="#fff" stroke="#1a1a1a" stroke-width="0.8"/>
<ellipse cx="478.57" cy="84.53" rx="1.18" ry="1.33" transform="rotate(0 478.57 84.53)" fill="#fff" stroke="#1a1a1a" stroke-width="0.8"/>
<ellipse cx="481.43" cy="85.64" rx="1.18" ry="1.33" transform="rotate(0 481.43 85.64)" fill="#fff" stroke="#1a1a1a" stroke-width="0.8"/>
<ellipse cx="483.52" cy="88.47" rx="1.18" ry="1.33" transform="rotate(0 483.52 88.47)" fill="#fff" stroke="#1a1a1a" stroke-width="0.8"/>
<ellipse cx="484.49" cy="92.53" rx="1.18" ry="1.33" transform="rotate(0 484.49 92.53)" fill="#fff" stroke="#1a1a1a" stroke-width="0.8"/>
<ellipse cx="476.8" cy="96.1" rx="5.07" ry="8.01" transform="rotate(12 476.8 96.1)" fill="#fff" stroke="#1a1a1a" stroke-width="1.4"/>
<ellipse cx="477.1" cy="96.2" rx="3.89" ry="6.59" transform="rotate(12 477.1 96.2)" fill="none" stroke="#1a1a1a" stroke-width="0.8"/>
<g transform="translate(478.00 8.10) rotate(11.31)">
<rect x="0" y="-3.10" width="14.79" height="6.21" rx="1" fill="#2a2a2a" stroke="#1a1a1a" stroke-width="1"/>
<path d="M1.2 -2.8 L1.8 2.8 M2.7 -2.8 L3.3 2.8 M4.2 -2.8 L4.8 2.8 M5.7 -2.8 L6.3 2.8 M7.2 -2.8 L7.8 2.8 M8.7 -2.8 L9.3 2.8 M10.2 -2.8 L10.8 2.8 M11.7 -2.8 L12.3 2.8 " fill="none" stroke="#888" stroke-width="0.5" />
<ellipse cx="14.29" cy="0" rx="1.15" ry="2.42" fill="#fff" stroke="#1a1a1a" stroke-width="1"/>
</g>
<path d="M474.5 6.5 C474.5 2.8 482.0 2.3 482.0 6.0 L482.0 10.8 C482.0 13.7 476.4 13.9 476.0 13.4 L474.0 10.8 C473.7 9.2 474.0 7.6 474.5 6.5 Z" fill="#fff" stroke="#1a1a1a" stroke-width="1.2" />
<ellipse cx="478.3" cy="5.98" rx="3.36" ry="2.33" transform="rotate(0 478.3 5.98)" fill="none" stroke="#1a1a1a" stroke-width="1"/>
<path d="M474.5 8.1 L476.8 9.2" fill="none" stroke="#1a1a1a" stroke-width="1.3" />
<path d="M476.8 9.2 L476.8 13.2" fill="none" stroke="#1a1a1a" stroke-width="0.8" />
<g transform="translate(214.2 -97.2) scale(1.1)">
<g transform="translate(-0.6 1.2)">
<path d="M246.7 120.1 C246.5 124 249 126.8 251.8 126.8 C254 127 255.8 126.8 256.9 126.4 C258 123 258.5 121 259.6 118.6 C260.5 115 261.3 112.5 262.8 110.7 C264.5 109 266 108.2 267.5 108 C270 107.6 271.5 107.8 273 108.4 C275 109 276.2 110 276.9 110.7 C277.8 112 278 113 278.5 113.9 C279.3 115.5 280 116.5 280.8 117 C282.5 117.5 284 117 285.6 116.2 C288 115 289.5 113.5 289.5 111.9 C289.5 110 289 108.5 287.9 107.6 C285 105.5 282 104.5 279.3 103.6 C276 102 273 101 269.9 100.9 C267.5 100.8 266 101.2 264.4 102.1 C262 103.5 260.5 105 258.9 106.8 C257 109 255.5 110.8 253.4 112.3 C251.5 113.5 249.5 114.2 247.9 115.4 C247 116.5 246.7 118 246.7 120.1 Z" fill="#fff" stroke="#1a1a1a" stroke-width="1.2" />
</g>
<path d="M246.7 120.1 C246.5 124 249 126.8 251.8 126.8 C254 127 255.8 126.8 256.9 126.4 C258 123 258.5 121 259.6 118.6 C260.5 115 261.3 112.5 262.8 110.7 C264.5 109 266 108.2 267.5 108 C270 107.6 271.5 107.8 273 108.4 C275 109 276.2 110 276.9 110.7 C277.8 112 278 113 278.5 113.9 C279.3 115.5 280 116.5 280.8 117 C282.5 117.5 284 117 285.6 116.2 C288 115 289.5 113.5 289.5 111.9 C289.5 110 289 108.5 287.9 107.6 C285 105.5 282 104.5 279.3 103.6 C276 102 273 101 269.9 100.9 C267.5 100.8 266 101.2 264.4 102.1 C262 103.5 260.5 105 258.9 106.8 C257 109 255.5 110.8 253.4 112.3 C251.5 113.5 249.5 114.2 247.9 115.4 C247 116.5 246.7 118 246.7 120.1 Z" fill="#fff" stroke="#1a1a1a" stroke-width="1.2" />
<path d="M249 116 C252 114.5 255 112.5 257.5 110 C260 107.5 262.5 104.5 266 103.5" fill="none" stroke="#1a1a1a" stroke-width="0.7" />
<ellipse cx="254.1" cy="120.9" rx="1.9" ry="2.3" transform="rotate(0 254.1 120.9)" fill="none" stroke="#1a1a1a" stroke-width="1.1"/>
<ellipse cx="285.2" cy="110.7" rx="1.9" ry="2.3" transform="rotate(0 285.2 110.7)" fill="none" stroke="#1a1a1a" stroke-width="1.1"/>
</g>
<g transform="translate(131.00 99.40) rotate(7.59)">
<rect x="0" y="-2.97" width="13.62" height="5.94" rx="1" fill="#2a2a2a" stroke="#1a1a1a" stroke-width="1"/>
<path d="M1.2 -2.6 L1.8 2.6 M2.7 -2.6 L3.3 2.6 M4.2 -2.6 L4.8 2.6 M5.7 -2.6 L6.3 2.6 M7.2 -2.6 L7.8 2.6 M8.7 -2.6 L9.3 2.6 M10.2 -2.6 L10.8 2.6 M11.7 -2.6 L12.3 2.6 " fill="none" stroke="#888" stroke-width="0.5" />
<ellipse cx="13.12" cy="0" rx="1.10" ry="2.31" fill="#fff" stroke="#1a1a1a" stroke-width="1"/>
<ellipse cx="0" cy="0" rx="4.14" ry="4.60" fill="#2a2a2a" stroke="#1a1a1a" stroke-width="1"/>
<ellipse cx="-0.6" cy="0" rx="2.34" ry="3.22" fill="#a8a8a8" stroke="none"/>
</g>
<g transform="translate(123.50 136.00) rotate(6.34)">
<rect x="0" y="-2.97" width="13.58" height="5.94" rx="1" fill="#2a2a2a" stroke="#1a1a1a" stroke-width="1"/>
<path d="M1.2 -2.6 L1.8 2.6 M2.7 -2.6 L3.3 2.6 M4.2 -2.6 L4.8 2.6 M5.7 -2.6 L6.3 2.6 M7.2 -2.6 L7.8 2.6 M8.7 -2.6 L9.3 2.6 M10.2 -2.6 L10.8 2.6 M11.7 -2.6 L12.3 2.6 " fill="none" stroke="#888" stroke-width="0.5" />
<ellipse cx="13.08" cy="0" rx="1.10" ry="2.31" fill="#fff" stroke="#1a1a1a" stroke-width="1"/>
<ellipse cx="0" cy="0" rx="4.14" ry="4.60" fill="#2a2a2a" stroke="#1a1a1a" stroke-width="1"/>
<ellipse cx="-0.6" cy="0" rx="2.34" ry="3.22" fill="#a8a8a8" stroke="none"/>
</g>
<path d="M154.2 112.4 L153.78 112.38 L153.37 112.32 L152.96 112.22 L152.56 112.08 L152.17 111.9 L151.79 111.68 L151.43 111.43 L151.08 111.14 L150.76 110.82 L150.45 110.47 L150.17 110.09 L149.91 109.68 L149.68 109.25 L149.48 108.8 L149.3 108.33 L149.16 107.84 L149.05 107.34 L148.97 106.83 L148.92 106.32 L148.9 105.8 L148.92 105.28 L148.97 104.77 L149.05 104.26 L149.16 103.76 L149.3 103.27 L149.48 102.8 L149.68 102.35 L149.91 101.92 L150.17 101.51 L150.45 101.13 L150.76 100.78 L151.08 100.46 L151.43 100.17 L151.79 99.92 L152.17 99.7 L152.56 99.52 L152.96 99.38 L153.37 99.28 L153.78 99.22 L154.2 99.2 L156 99.2 L156.42 99.22 L156.83 99.28 L157.24 99.38 L157.64 99.52 L158.03 99.7 L158.41 99.92 L158.77 100.17 L159.12 100.46 L159.44 100.78 L159.75 101.13 L160.03 101.51 L160.29 101.92 L160.52 102.35 L160.72 102.8 L160.9 103.27 L161.04 103.76 L161.15 104.26 L161.23 104.77 L161.28 105.28 L161.3 105.8 L161.28 106.32 L161.23 106.83 L161.15 107.34 L161.04 107.84 L160.9 108.33 L160.72 108.8 L160.52 109.25 L160.29 109.68 L160.03 110.09 L159.75 110.47 L159.44 110.82 L159.12 111.14 L158.77 111.43 L158.41 111.68 L158.03 111.9 L157.64 112.08 L157.24 112.22 L156.83 112.32 L156.42 112.38 L156 112.4 Z" fill="#fff" stroke="#1a1a1a" stroke-width="1.25" />
<ellipse cx="156" cy="105.8" rx="5.3" ry="6.6" transform="rotate(0 156 105.8)" fill="#fff" stroke="#1a1a1a" stroke-width="1.25"/>
<ellipse cx="156.5" cy="105.8" rx="2.2" ry="3.6" transform="rotate(0 156.5 105.8)" fill="none" stroke="#1a1a1a" stroke-width="1.25"/>
<path d="M155.99 102.42 L156.34 102.68 L156.65 103.04 L156.93 103.49 L157.15 104 L157.31 104.57 L157.41 105.17 L157.44 105.8 L157.41 106.43 L157.31 107.03 L157.15 107.6 L156.93 108.11 L156.65 108.56 L156.34 108.92 L155.99 109.18" fill="none" stroke="#1a1a1a" stroke-width="0.8" />
<path d="M143.2 148 L142.77 147.98 L142.34 147.92 L141.92 147.81 L141.5 147.67 L141.1 147.48 L140.7 147.26 L140.33 147 L139.97 146.7 L139.63 146.37 L139.31 146.01 L139.02 145.62 L138.75 145.2 L138.51 144.75 L138.3 144.29 L138.12 143.8 L137.97 143.3 L137.85 142.79 L137.77 142.26 L137.72 141.73 L137.7 141.2 L137.72 140.67 L137.77 140.14 L137.85 139.61 L137.97 139.1 L138.12 138.6 L138.3 138.11 L138.51 137.65 L138.75 137.2 L139.02 136.78 L139.31 136.39 L139.63 136.03 L139.97 135.7 L140.33 135.4 L140.7 135.14 L141.1 134.92 L141.5 134.73 L141.92 134.59 L142.34 134.48 L142.77 134.42 L143.2 134.4 L145 134.4 L145.43 134.42 L145.86 134.48 L146.28 134.59 L146.7 134.73 L147.1 134.92 L147.5 135.14 L147.87 135.4 L148.23 135.7 L148.57 136.03 L148.89 136.39 L149.18 136.78 L149.45 137.2 L149.69 137.65 L149.9 138.11 L150.08 138.6 L150.23 139.1 L150.35 139.61 L150.43 140.14 L150.48 140.67 L150.5 141.2 L150.48 141.73 L150.43 142.26 L150.35 142.79 L150.23 143.3 L150.08 143.8 L149.9 144.29 L149.69 144.75 L149.45 145.2 L149.18 145.62 L148.89 146.01 L148.57 146.37 L148.23 146.7 L147.87 147 L147.5 147.26 L147.1 147.48 L146.7 147.67 L146.28 147.81 L145.86 147.92 L145.43 147.98 L145 148 Z" fill="#fff" stroke="#1a1a1a" stroke-width="1.25" />
<ellipse cx="145" cy="141.2" rx="5.5" ry="6.8" transform="rotate(0 145 141.2)" fill="#fff" stroke="#1a1a1a" stroke-width="1.25"/>
<ellipse cx="145.5" cy="141.2" rx="2.2" ry="3.6" transform="rotate(0 145.5 141.2)" fill="none" stroke="#1a1a1a" stroke-width="1.25"/>
<path d="M144.99 137.82 L145.34 138.08 L145.65 138.44 L145.93 138.89 L146.15 139.4 L146.31 139.97 L146.41 140.57 L146.44 141.2 L146.41 141.83 L146.31 142.43 L146.15 143 L145.93 143.51 L145.65 143.96 L145.34 144.32 L144.99 144.58" fill="none" stroke="#1a1a1a" stroke-width="0.8" />
<g transform="translate(-1.8 0.6)">
<path d="M169 104 C172 102 176 101.5 179 103 C181 104.5 181.5 107 181 110 L180 128 C179.5 131 178 133 176 135 L163 148.5 C161 151 158 152.8 155.5 152.5 C152.5 152 150.8 149.5 150.8 146.5 L151 127 C151.3 124 152.5 122 154.5 120 Z" fill="#fff" stroke="#1a1a1a" stroke-width="1.25" />
</g>
<path d="M169 104 C172 102 176 101.5 179 103 C181 104.5 181.5 107 181 110 L180 128 C179.5 131 178 133 176 135 L163 148.5 C161 151 158 152.8 155.5 152.5 C152.5 152 150.8 149.5 150.8 146.5 L151 127 C151.3 124 152.5 122 154.5 120 Z" fill="#fff" stroke="#1a1a1a" stroke-width="1.25" />
<ellipse cx="174" cy="112" rx="1.9" ry="2.4" transform="rotate(0 174 112)" fill="none" stroke="#1a1a1a" stroke-width="1.25"/>
<ellipse cx="160" cy="145" rx="1.9" ry="2.4" transform="rotate(0 160 145)" fill="none" stroke="#1a1a1a" stroke-width="1.25"/>
<path d="M173.46 126.5 L171.1 128.26 L171.77 131.59 L169.11 130.75 L167.7 133.7 L166.29 130.75 L163.63 131.59 L164.3 128.26 L161.94 126.5 L164.3 124.74 L163.63 121.41 L166.29 122.25 L167.7 119.3 L169.11 122.25 L171.77 121.41 L171.1 124.74 Z" fill="#fff" stroke="#1a1a1a" stroke-width="1" />
<path d="M237.1 136.98 L237.53 137.83 L237.76 138.7 L237.78 139.56 L237.59 140.39 L237.19 141.19 L235.58 141.76 L234.31 142.3 L233.55 142.89 L233.04 143.51 L232.72 144.16 L232.55 144.84 L232.52 145.58 L232.66 146.39 L232.99 147.31 L233.64 148.41 L235.25 150.05 L235.39 151.03 L235.33 151.92 L235.08 152.72 L234.64 153.4 L234.02 153.94 L232.34 153.7 L230.99 153.6 L230.1 153.79 L229.43 154.11 L228.93 154.56 L228.55 155.11 L228.3 155.77 L228.17 156.58 L228.2 157.57 L228.46 158.88 L229.45 161.14 L229.27 162.1 L228.94 162.9 L228.46 163.51 L227.84 163.92 L227.08 164.12 L225.6 163.12 L224.37 162.39 L223.48 162.14 L222.76 162.13 L222.15 162.3 L221.63 162.63 L221.18 163.12 L220.81 163.79 L220.53 164.72 L220.36 166.04 L220.58 168.57 L220.12 169.37 L219.56 169.94 L218.92 170.27 L218.21 170.36 L217.45 170.19 L216.37 168.58 L215.45 167.33 L214.7 166.69 L214.03 166.34 L213.41 166.21 L212.83 166.26 L212.26 166.5 L211.7 166.95 L211.15 167.66 L210.58 168.79 L210 171.21 L209.31 171.73 L208.61 171.99 L207.91 171.99 L207.23 171.73 L206.57 171.22 L206.07 169.24 L205.6 167.67 L205.1 166.73 L204.59 166.09 L204.05 165.68 L203.49 165.46 L202.88 165.41 L202.23 165.56 L201.49 165.94 L200.6 166.72 L199.3 168.66 L198.51 168.81 L197.77 168.72 L197.12 168.39 L196.56 167.84 L196.1 167.06 L196.26 165.01 L196.31 163.36 L196.14 162.26 L195.86 161.43 L195.49 160.8 L195.03 160.33 L194.49 160.01 L193.83 159.83 L193.02 159.84 L191.95 160.14 L190.14 161.3 L189.34 161.07 L188.69 160.64 L188.18 160.03 L187.83 159.26 L187.65 158.34 L188.44 156.53 L189 155.04 L189.19 153.96 L189.18 153.07 L189.03 152.32 L188.75 151.67 L188.34 151.12 L187.78 150.65 L187.02 150.28 L185.94 150.05 L183.88 150.26 L183.22 149.67 L182.74 148.98 L182.46 148.18 L182.37 147.31 L182.49 146.38 L183.79 145.1 L184.78 144 L185.29 143.09 L185.56 142.27 L185.66 141.52 L185.6 140.8 L185.39 140.1 L185.01 139.4 L184.42 138.7 L183.48 137.99 L181.5 137.22 L181.07 136.37 L180.84 135.5 L180.82 134.64 L181.01 133.81 L181.41 133.01 L183.02 132.44 L184.29 131.9 L185.05 131.31 L185.56 130.69 L185.88 130.04 L186.05 129.36 L186.08 128.62 L185.94 127.81 L185.61 126.89 L184.96 125.79 L183.35 124.15 L183.21 123.17 L183.27 122.28 L183.52 121.48 L183.96 120.8 L184.58 120.26 L186.26 120.5 L187.61 120.6 L188.5 120.41 L189.17 120.09 L189.67 119.64 L190.05 119.09 L190.3 118.43 L190.43 117.62 L190.4 116.63 L190.14 115.32 L189.15 113.06 L189.33 112.1 L189.66 111.3 L190.14 110.69 L190.76 110.28 L191.52 110.08 L193 111.08 L194.23 111.81 L195.12 112.06 L195.84 112.07 L196.45 111.9 L196.97 111.57 L197.42 111.08 L197.79 110.41 L198.07 109.48 L198.24 108.16 L198.02 105.63 L198.48 104.83 L199.04 104.26 L199.68 103.93 L200.39 103.84 L201.15 104.01 L202.23 105.62 L203.15 106.87 L203.9 107.51 L204.57 107.86 L205.19 107.99 L205.77 107.94 L206.34 107.7 L206.9 107.25 L207.45 106.54 L208.02 105.41 L208.6 102.99 L209.29 102.47 L209.99 102.21 L210.69 102.21 L211.37 102.47 L212.03 102.98 L212.53 104.96 L213 106.53 L213.5 107.47 L214.01 108.11 L214.55 108.52 L215.11 108.74 L215.72 108.79 L216.37 108.64 L217.11 108.26 L218 107.48 L219.3 105.54 L220.09 105.39 L220.83 105.48 L221.48 105.81 L222.04 106.36 L222.5 107.14 L222.34 109.19 L222.29 110.84 L222.46 111.94 L222.74 112.77 L223.11 113.4 L223.57 113.87 L224.11 114.19 L224.77 114.37 L225.58 114.36 L226.65 114.06 L228.46 112.9 L229.26 113.13 L229.91 113.56 L230.42 114.17 L230.77 114.94 L230.95 115.86 L230.16 117.67 L229.6 119.16 L229.41 120.24 L229.42 121.13 L229.57 121.88 L229.85 122.53 L230.26 123.08 L230.82 123.55 L231.58 123.92 L232.66 124.15 L234.72 123.94 L235.38 124.53 L235.86 125.22 L236.14 126.02 L236.23 126.89 L236.11 127.82 L234.81 129.1 L233.82 130.2 L233.31 131.11 L233.04 131.93 L232.94 132.68 L233 133.4 L233.21 134.1 L233.59 134.8 L234.18 135.5 L235.12 136.21 Z" fill="#fff" stroke="#1a1a1a" stroke-width="1.25" />
<path d="M239.3 137.38 L239.73 138.23 L239.96 139.1 L239.98 139.96 L239.79 140.79 L239.39 141.59 L237.78 142.16 L236.51 142.7 L235.75 143.29 L235.24 143.91 L234.92 144.56 L234.75 145.24 L234.72 145.98 L234.86 146.79 L235.19 147.71 L235.84 148.81 L237.45 150.45 L237.59 151.43 L237.53 152.32 L237.28 153.12 L236.84 153.8 L236.22 154.34 L234.54 154.1 L233.19 154 L232.3 154.19 L231.63 154.51 L231.13 154.96 L230.75 155.51 L230.5 156.17 L230.37 156.98 L230.4 157.97 L230.66 159.28 L231.65 161.54 L231.47 162.5 L231.14 163.3 L230.66 163.91 L230.04 164.32 L229.28 164.52 L227.8 163.52 L226.57 162.79 L225.68 162.54 L224.96 162.53 L224.35 162.7 L223.83 163.03 L223.38 163.52 L223.01 164.19 L222.73 165.12 L222.56 166.44 L222.78 168.97 L222.32 169.77 L221.76 170.34 L221.12 170.67 L220.41 170.76 L219.65 170.59 L218.57 168.98 L217.65 167.73 L216.9 167.09 L216.23 166.74 L215.61 166.61 L215.03 166.66 L214.46 166.9 L213.9 167.35 L213.35 168.06 L212.78 169.19 L212.2 171.61 L211.51 172.13 L210.81 172.39 L210.11 172.39 L209.43 172.13 L208.77 171.62 L208.27 169.64 L207.8 168.07 L207.3 167.13 L206.79 166.49 L206.25 166.08 L205.69 165.86 L205.08 165.81 L204.43 165.96 L203.69 166.34 L202.8 167.12 L201.5 169.06 L200.71 169.21 L199.97 169.12 L199.32 168.79 L198.76 168.24 L198.3 167.46 L198.46 165.41 L198.51 163.76 L198.34 162.66 L198.06 161.83 L197.69 161.2 L197.23 160.73 L196.69 160.41 L196.03 160.23 L195.22 160.24 L194.15 160.54 L192.34 161.7 L191.54 161.47 L190.89 161.04 L190.38 160.43 L190.03 159.66 L189.85 158.74 L190.64 156.93 L191.2 155.44 L191.39 154.36 L191.38 153.47 L191.23 152.72 L190.95 152.07 L190.54 151.52 L189.98 151.05 L189.22 150.68 L188.14 150.45 L186.08 150.66 L185.42 150.07 L184.94 149.38 L184.66 148.58 L184.57 147.71 L184.69 146.78 L185.99 145.5 L186.98 144.4 L187.49 143.49 L187.76 142.67 L187.86 141.92 L187.8 141.2 L187.59 140.5 L187.21 139.8 L186.62 139.1 L185.68 138.39 L183.7 137.62 L183.27 136.77 L183.04 135.9 L183.02 135.04 L183.21 134.21 L183.61 133.41 L185.22 132.84 L186.49 132.3 L187.25 131.71 L187.76 131.09 L188.08 130.44 L188.25 129.76 L188.28 129.02 L188.14 128.21 L187.81 127.29 L187.16 126.19 L185.55 124.55 L185.41 123.57 L185.47 122.68 L185.72 121.88 L186.16 121.2 L186.78 120.66 L188.46 120.9 L189.81 121 L190.7 120.81 L191.37 120.49 L191.87 120.04 L192.25 119.49 L192.5 118.83 L192.63 118.02 L192.6 117.03 L192.34 115.72 L191.35 113.46 L191.53 112.5 L191.86 111.7 L192.34 111.09 L192.96 110.68 L193.72 110.48 L195.2 111.48 L196.43 112.21 L197.32 112.46 L198.04 112.47 L198.65 112.3 L199.17 111.97 L199.62 111.48 L199.99 110.81 L200.27 109.88 L200.44 108.56 L200.22 106.03 L200.68 105.23 L201.24 104.66 L201.88 104.33 L202.59 104.24 L203.35 104.41 L204.43 106.02 L205.35 107.27 L206.1 107.91 L206.77 108.26 L207.39 108.39 L207.97 108.34 L208.54 108.1 L209.1 107.65 L209.65 106.94 L210.22 105.81 L210.8 103.39 L211.49 102.87 L212.19 102.61 L212.89 102.61 L213.57 102.87 L214.23 103.38 L214.73 105.36 L215.2 106.93 L215.7 107.87 L216.21 108.51 L216.75 108.92 L217.31 109.14 L217.92 109.19 L218.57 109.04 L219.31 108.66 L220.2 107.88 L221.5 105.94 L222.29 105.79 L223.03 105.88 L223.68 106.21 L224.24 106.76 L224.7 107.54 L224.54 109.59 L224.49 111.24 L224.66 112.34 L224.94 113.17 L225.31 113.8 L225.77 114.27 L226.31 114.59 L226.97 114.77 L227.78 114.76 L228.85 114.46 L230.66 113.3 L231.46 113.53 L232.11 113.96 L232.62 114.57 L232.97 115.34 L233.15 116.26 L232.36 118.07 L231.8 119.56 L231.61 120.64 L231.62 121.53 L231.77 122.28 L232.05 122.93 L232.46 123.48 L233.02 123.95 L233.78 124.32 L234.86 124.55 L236.92 124.34 L237.58 124.93 L238.06 125.62 L238.34 126.42 L238.43 127.29 L238.31 128.22 L237.01 129.5 L236.02 130.6 L235.51 131.51 L235.24 132.33 L235.14 133.08 L235.2 133.8 L235.41 134.5 L235.79 135.2 L236.38 135.9 L237.32 136.61 Z" fill="#fff" stroke="#1a1a1a" stroke-width="1.25" />
<ellipse cx="220.7" cy="122.8" rx="2.3" ry="3" transform="rotate(0 220.7 122.8)" fill="none" stroke="#1a1a1a" stroke-width="1.25"/>
<ellipse cx="204" cy="155.8" rx="2.3" ry="3" transform="rotate(0 204 155.8)" fill="none" stroke="#1a1a1a" stroke-width="1.25"/>
<path d="M218.96 140.59 L215.47 141.51 L216.06 145.67 L213.03 143.42 L210.95 146.84 L210.16 142.73 L206.63 143.42 L208.55 139.86 L205.64 137.41 L209.13 136.49 L208.54 132.33 L211.57 134.58 L213.65 131.16 L214.44 135.27 L217.97 134.58 L216.05 138.14 Z" fill="#fff" stroke="#1a1a1a" stroke-width="1" />
<ellipse cx="212.3" cy="139" rx="3.2" ry="4" transform="rotate(0 212.3 139)" fill="none" stroke="#1a1a1a" stroke-width="0.8"/>
<g transform="translate(248.50 92.20) rotate(14.24)">
<rect x="0" y="-3.10" width="13.41" height="6.21" rx="1" fill="#2a2a2a" stroke="#1a1a1a" stroke-width="1"/>
<path d="M1.2 -2.8 L1.8 2.8 M2.7 -2.8 L3.3 2.8 M4.2 -2.8 L4.8 2.8 M5.7 -2.8 L6.3 2.8 M7.2 -2.8 L7.8 2.8 M8.7 -2.8 L9.3 2.8 M10.2 -2.8 L10.8 2.8 " fill="none" stroke="#888" stroke-width="0.5" />
<ellipse cx="12.91" cy="0" rx="1.15" ry="2.42" fill="#fff" stroke="#1a1a1a" stroke-width="1"/>
</g>
<path d="M245.0 90.6 C245.0 86.9 252.5 86.4 252.5 90.1 L252.5 94.9 C252.5 97.8 246.9 98.0 246.5 97.5 L244.5 94.9 C244.2 93.3 244.5 91.7 245.0 90.6 Z" fill="#fff" stroke="#1a1a1a" stroke-width="1.2" />
<ellipse cx="248.8" cy="90.08" rx="3.36" ry="2.33" transform="rotate(0 248.8 90.08)" fill="none" stroke="#1a1a1a" stroke-width="1"/>
<path d="M245.0 92.2 L247.3 93.3" fill="none" stroke="#1a1a1a" stroke-width="1.3" />
<path d="M247.3 93.3 L247.3 97.3" fill="none" stroke="#1a1a1a" stroke-width="0.8" />
<g transform="translate(-0.6 1.2)">
<path d="M246.7 120.1 C246.5 124 249 126.8 251.8 126.8 C254 127 255.8 126.8 256.9 126.4 C258 123 258.5 121 259.6 118.6 C260.5 115 261.3 112.5 262.8 110.7 C264.5 109 266 108.2 267.5 108 C270 107.6 271.5 107.8 273 108.4 C275 109 276.2 110 276.9 110.7 C277.8 112 278 113 278.5 113.9 C279.3 115.5 280 116.5 280.8 117 C282.5 117.5 284 117 285.6 116.2 C288 115 289.5 113.5 289.5 111.9 C289.5 110 289 108.5 287.9 107.6 C285 105.5 282 104.5 279.3 103.6 C276 102 273 101 269.9 100.9 C267.5 100.8 266 101.2 264.4 102.1 C262 103.5 260.5 105 258.9 106.8 C257 109 255.5 110.8 253.4 112.3 C251.5 113.5 249.5 114.2 247.9 115.4 C247 116.5 246.7 118 246.7 120.1 Z" fill="#fff" stroke="#1a1a1a" stroke-width="1.2" />
</g>
<path d="M246.7 120.1 C246.5 124 249 126.8 251.8 126.8 C254 127 255.8 126.8 256.9 126.4 C258 123 258.5 121 259.6 118.6 C260.5 115 261.3 112.5 262.8 110.7 C264.5 109 266 108.2 267.5 108 C270 107.6 271.5 107.8 273 108.4 C275 109 276.2 110 276.9 110.7 C277.8 112 278 113 278.5 113.9 C279.3 115.5 280 116.5 280.8 117 C282.5 117.5 284 117 285.6 116.2 C288 115 289.5 113.5 289.5 111.9 C289.5 110 289 108.5 287.9 107.6 C285 105.5 282 104.5 279.3 103.6 C276 102 273 101 269.9 100.9 C267.5 100.8 266 101.2 264.4 102.1 C262 103.5 260.5 105 258.9 106.8 C257 109 255.5 110.8 253.4 112.3 C251.5 113.5 249.5 114.2 247.9 115.4 C247 116.5 246.7 118 246.7 120.1 Z" fill="#fff" stroke="#1a1a1a" stroke-width="1.2" />
<path d="M249 116 C252 114.5 255 112.5 257.5 110 C260 107.5 262.5 104.5 266 103.5" fill="none" stroke="#1a1a1a" stroke-width="0.7" />
<ellipse cx="254.1" cy="120.9" rx="1.9" ry="2.3" transform="rotate(0 254.1 120.9)" fill="none" stroke="#1a1a1a" stroke-width="1.1"/>
<ellipse cx="285.2" cy="110.7" rx="1.9" ry="2.3" transform="rotate(0 285.2 110.7)" fill="none" stroke="#1a1a1a" stroke-width="1.1"/>
<path d="M227.69 157.82 L226.97 157.64 L226.26 157.38 L225.59 157.03 L224.94 156.6 L224.33 156.09 L223.75 155.51 L223.22 154.85 L222.73 154.12 L222.3 153.34 L221.91 152.49 L221.57 151.59 L221.29 150.64 L221.07 149.65 L220.9 148.62 L220.79 147.57 L220.75 146.49 L220.76 145.39 L220.83 144.28 L220.97 143.17 L221.16 142.07 L221.41 140.97 L221.71 139.9 L222.07 138.84 L222.48 137.82 L222.94 136.84 L223.45 135.89 L224 135 L224.59 134.16 L225.22 133.38 L225.88 132.66 L226.57 132.02 L227.28 131.44 L228.01 130.94 L228.76 130.52 L229.52 130.19 L230.29 129.93 L231.05 129.76 L231.81 129.68 L232.57 129.69 L233.31 129.78 L238.81 130.78 L239.53 130.96 L240.24 131.22 L240.91 131.57 L241.56 132 L242.17 132.51 L242.75 133.09 L243.28 133.75 L243.77 134.48 L244.2 135.26 L244.59 136.11 L244.93 137.01 L245.21 137.96 L245.43 138.95 L245.6 139.98 L245.71 141.03 L245.75 142.11 L245.74 143.21 L245.67 144.32 L245.53 145.43 L245.34 146.53 L245.09 147.63 L244.79 148.7 L244.43 149.76 L244.02 150.78 L243.56 151.76 L243.05 152.71 L242.5 153.6 L241.91 154.44 L241.28 155.22 L240.62 155.94 L239.93 156.58 L239.22 157.16 L238.49 157.66 L237.74 158.08 L236.98 158.41 L236.21 158.67 L235.45 158.84 L234.69 158.92 L233.93 158.91 L233.19 158.82 Z" fill="#fff" stroke="#1a1a1a" stroke-width="1.2" />
<ellipse cx="236" cy="144.8" rx="9.5" ry="14.3" transform="rotate(12 236 144.8)" fill="#fff" stroke="#1a1a1a" stroke-width="1.2"/>
<ellipse cx="236.3" cy="145.2" rx="7.2" ry="11" transform="rotate(12 236.3 145.2)" fill="none" stroke="#1a1a1a" stroke-width="0.9"/>
<ellipse cx="236" cy="145.8" rx="5" ry="8" transform="rotate(12 236 145.8)" fill="#e0e0e0" stroke="#1a1a1a" stroke-width="1"/>
<ellipse cx="235.6" cy="146" rx="3" ry="5" transform="rotate(12 235.6 146)" fill="#fff" stroke="#1a1a1a" stroke-width="1.3"/>
<path d="M252.36 166.12 L251.47 165.87 L250.6 165.52 L249.77 165.07 L248.97 164.52 L248.22 163.88 L247.52 163.14 L246.87 162.31 L246.27 161.41 L245.74 160.42 L245.27 159.37 L244.86 158.25 L244.52 157.08 L244.26 155.85 L244.06 154.59 L243.94 153.28 L243.9 151.96 L243.93 150.61 L244.03 149.25 L244.21 147.9 L244.46 146.55 L244.78 145.21 L245.17 143.9 L245.63 142.62 L246.15 141.38 L246.73 140.18 L247.37 139.04 L248.06 137.96 L248.8 136.95 L249.59 136.02 L250.41 135.16 L251.27 134.39 L252.16 133.71 L253.07 133.12 L254 132.63 L254.94 132.25 L255.89 131.96 L256.84 131.78 L257.79 131.71 L258.72 131.74 L259.64 131.88 L268.84 133.88 L269.73 134.13 L270.6 134.48 L271.43 134.93 L272.23 135.48 L272.98 136.12 L273.68 136.86 L274.33 137.69 L274.93 138.59 L275.46 139.58 L275.93 140.63 L276.34 141.75 L276.68 142.92 L276.94 144.15 L277.14 145.41 L277.26 146.72 L277.3 148.04 L277.27 149.39 L277.17 150.75 L276.99 152.1 L276.74 153.45 L276.42 154.79 L276.03 156.1 L275.57 157.38 L275.05 158.62 L274.47 159.82 L273.83 160.96 L273.14 162.04 L272.4 163.05 L271.61 163.98 L270.79 164.84 L269.93 165.61 L269.04 166.29 L268.13 166.88 L267.2 167.37 L266.26 167.75 L265.31 168.04 L264.36 168.22 L263.41 168.29 L262.48 168.26 L261.56 168.12 Z" fill="#fff" stroke="#1a1a1a" stroke-width="1.2" />
<ellipse cx="265.2" cy="151" rx="11.8" ry="17.5" transform="rotate(12 265.2 151)" fill="#fff" stroke="#1a1a1a" stroke-width="1.2"/>
<ellipse cx="265.5" cy="151.2" rx="10.15" ry="15.4" transform="rotate(12 265.5 151.2)" fill="none" stroke="#1a1a1a" stroke-width="0.9"/>
<ellipse cx="265.6" cy="151.3" rx="8.97" ry="13.65" transform="rotate(12 265.6 151.3)" fill="#d8d8d8" stroke="#1a1a1a" stroke-width="0.9"/>
<ellipse cx="272.76" cy="152.82" rx="1.18" ry="1.31" transform="rotate(0 272.76 152.82)" fill="#fff" stroke="#1a1a1a" stroke-width="0.8"/>
<ellipse cx="271.21" cy="157.08" rx="1.18" ry="1.31" transform="rotate(0 271.21 157.08)" fill="#fff" stroke="#1a1a1a" stroke-width="0.8"/>
<ellipse cx="268.68" cy="160.33" rx="1.18" ry="1.31" transform="rotate(0 268.68 160.33)" fill="#fff" stroke="#1a1a1a" stroke-width="0.8"/>
<ellipse cx="265.63" cy="162.03" rx="1.18" ry="1.31" transform="rotate(0 265.63 162.03)" fill="#fff" stroke="#1a1a1a" stroke-width="0.8"/>
<ellipse cx="262.57" cy="161.87" rx="1.18" ry="1.31" transform="rotate(0 262.57 161.87)" fill="#fff" stroke="#1a1a1a" stroke-width="0.8"/>
<ellipse cx="260.04" cy="159.88" rx="1.18" ry="1.31" transform="rotate(0 260.04 159.88)" fill="#fff" stroke="#1a1a1a" stroke-width="0.8"/>
<ellipse cx="258.46" cy="156.41" rx="1.18" ry="1.31" transform="rotate(0 258.46 156.41)" fill="#fff" stroke="#1a1a1a" stroke-width="0.8"/>
<ellipse cx="258.12" cy="152.05" rx="1.18" ry="1.31" transform="rotate(0 258.12 152.05)" fill="#fff" stroke="#1a1a1a" stroke-width="0.8"/>
<ellipse cx="259.08" cy="147.57" rx="1.18" ry="1.31" transform="rotate(0 259.08 147.57)" fill="#fff" stroke="#1a1a1a" stroke-width="0.8"/>
<ellipse cx="261.16" cy="143.73" rx="1.18" ry="1.31" transform="rotate(0 261.16 143.73)" fill="#fff" stroke="#1a1a1a" stroke-width="0.8"/>
<ellipse cx="264.01" cy="141.2" rx="1.18" ry="1.31" transform="rotate(0 264.01 141.2)" fill="#fff" stroke="#1a1a1a" stroke-width="0.8"/>
<ellipse cx="267.13" cy="140.42" rx="1.18" ry="1.31" transform="rotate(0 267.13 140.42)" fill="#fff" stroke="#1a1a1a" stroke-width="0.8"/>
<ellipse cx="269.99" cy="141.51" rx="1.18" ry="1.31" transform="rotate(0 269.99 141.51)" fill="#fff" stroke="#1a1a1a" stroke-width="0.8"/>
<ellipse cx="272.09" cy="144.3" rx="1.18" ry="1.31" transform="rotate(0 272.09 144.3)" fill="#fff" stroke="#1a1a1a" stroke-width="0.8"/>
<ellipse cx="273.07" cy="148.3" rx="1.18" ry="1.31" transform="rotate(0 273.07 148.3)" fill="#fff" stroke="#1a1a1a" stroke-width="0.8"/>
<ellipse cx="265.4" cy="151.8" rx="5.07" ry="7.88" transform="rotate(12 265.4 151.8)" fill="#fff" stroke="#1a1a1a" stroke-width="1.4"/>
<ellipse cx="265.7" cy="151.9" rx="3.89" ry="6.47" transform="rotate(12 265.7 151.9)" fill="none" stroke="#1a1a1a" stroke-width="0.8"/>
<path d="M288.18 160.23 L287.86 160.14 L287.55 160.01 L287.23 159.83 L286.92 159.6 L286.62 159.33 L286.32 159.02 L286.04 158.67 L285.76 158.28 L285.5 157.86 L285.26 157.4 L285.03 156.91 L284.83 156.39 L284.64 155.85 L284.47 155.29 L284.32 154.72 L284.2 154.13 L284.1 153.53 L284.02 152.92 L283.97 152.31 L283.94 151.7 L283.94 151.1 L283.96 150.5 L284.01 149.92 L284.09 149.35 L284.18 148.8 L284.3 148.28 L284.45 147.78 L284.61 147.31 L284.8 146.87 L285 146.47 L285.23 146.1 L285.47 145.78 L285.72 145.49 L286 145.25 L286.28 145.05 L286.57 144.9 L286.88 144.8 L287.18 144.74 L287.5 144.73 L287.82 144.77 L302.82 147.77 L303.14 147.86 L303.45 147.99 L303.77 148.17 L304.08 148.4 L304.38 148.67 L304.68 148.98 L304.96 149.33 L305.24 149.72 L305.5 150.14 L305.74 150.6 L305.97 151.09 L306.17 151.61 L306.36 152.15 L306.53 152.71 L306.68 153.28 L306.8 153.87 L306.9 154.47 L306.98 155.08 L307.03 155.69 L307.06 156.3 L307.06 156.9 L307.04 157.5 L306.99 158.08 L306.91 158.65 L306.82 159.2 L306.7 159.72 L306.55 160.22 L306.39 160.69 L306.2 161.13 L306 161.53 L305.77 161.9 L305.53 162.22 L305.28 162.51 L305 162.75 L304.72 162.95 L304.43 163.1 L304.12 163.2 L303.82 163.26 L303.5 163.27 L303.18 163.23 Z" fill="#fff" stroke="#1a1a1a" stroke-width="1.25" />
<g transform="translate(278.5 154) rotate(14)">
<rect x="0" y="-5.6" width="9" height="11.2" rx="1.5" fill="#2a2a2a" stroke="#1a1a1a" stroke-width="1"/>
<path d="M1.5 -5.5 L1.5 5.5 M3 -5.5 L3 5.5 M4.5 -5.5 L4.5 5.5 M6 -5.5 L6 5.5 M7.5 -5.5 L7.5 5.5" fill="none" stroke="#999" stroke-width="0.5" />
</g>
<ellipse cx="288.5" cy="152.8" rx="3.2" ry="7.8" transform="rotate(-6 288.5 152.8)" fill="#fff" stroke="#1a1a1a" stroke-width="1"/>
<path d="M336.14 161.49 L336.31 163.57 L339.13 164.97 L339.13 167.75 L336.31 168.42 L336.14 170.46 L338.71 172.8 L338.26 175.43 L335.35 175.06 L334.86 176.94 L337.02 180.08 L336.15 182.42 L333.33 181.04 L332.53 182.64 L334.18 186.4 L332.93 188.31 L330.36 185.99 L329.31 187.23 L330.33 191.39 L328.79 192.76 L326.61 189.64 L325.37 190.44 L325.71 194.75 L323.96 195.51 L322.3 191.76 L320.94 192.09 L320.58 196.3 L318.72 196.4 L317.69 192.25 L316.28 192.07 L315.25 195.95 L313.39 195.37 L313.03 191.06 L311.67 190.39 L310.01 193.71 L308.26 192.5 L308.61 188.28 L307.37 187.15 L305.19 189.71 L303.65 187.94 L304.67 184.05 L303.62 182.53 L301.05 184.19 L299.8 181.96 L301.45 178.63 L300.65 176.81 L297.83 177.47 L296.96 174.9 L299.13 172.33 L298.64 170.32 L295.73 169.93 L295.29 167.19 L297.86 165.51 L297.69 163.43 L294.87 162.03 L294.87 159.25 L297.69 158.58 L297.86 156.54 L295.29 154.2 L295.74 151.57 L298.65 151.94 L299.14 150.06 L296.98 146.92 L297.85 144.58 L300.67 145.96 L301.47 144.36 L299.82 140.6 L301.07 138.69 L303.64 141.01 L304.69 139.77 L303.67 135.61 L305.21 134.24 L307.39 137.36 L308.63 136.56 L308.29 132.25 L310.04 131.49 L311.7 135.24 L313.06 134.91 L313.42 130.7 L315.28 130.6 L316.31 134.75 L317.72 134.93 L318.75 131.05 L320.61 131.63 L320.97 135.94 L322.33 136.61 L323.99 133.29 L325.74 134.5 L325.39 138.72 L326.63 139.85 L328.81 137.29 L330.35 139.06 L329.33 142.95 L330.38 144.47 L332.95 142.81 L334.2 145.04 L332.55 148.37 L333.35 150.19 L336.17 149.53 L337.04 152.1 L334.87 154.67 L335.36 156.68 L338.27 157.07 L338.71 159.81 Z" fill="#fff" stroke="#1a1a1a" stroke-width="1.1" />
<path d="M339.13 164.97 L349.13 167.47 M339.13 167.75 L349.13 170.25 M338.71 172.8 L348.71 175.3 M338.26 175.43 L348.26 177.93 M337.02 180.08 L347.02 182.58 M336.15 182.42 L346.15 184.92 M334.18 186.4 L344.18 188.9 M332.93 188.31 L342.93 190.81 M330.33 191.39 L340.33 193.89 M328.79 192.76 L338.79 195.26 M325.71 194.75 L335.71 197.25 M323.96 195.51 L333.96 198.01 M320.58 196.3 L330.58 198.8 M318.72 196.4 L328.72 198.9 M315.25 195.95 L325.25 198.45 M313.39 195.37 L323.39 197.87 M310.01 193.71 L320.01 196.21 M308.26 192.5 L318.26 195 M305.19 189.71 L315.19 192.21 M303.65 187.94 L313.65 190.44 M301.05 184.19 L311.05 186.69 M299.8 181.96 L309.8 184.46 M297.83 177.47 L307.83 179.97 M296.96 174.9 L306.96 177.4 M295.73 169.93 L305.73 172.43 M295.29 167.19 L305.29 169.69 M294.87 162.03 L304.87 164.53 M294.87 159.25 L304.87 161.75 M295.29 154.2 L305.29 156.7 M295.74 151.57 L305.74 154.07 M296.98 146.92 L306.98 149.42 M297.85 144.58 L307.85 147.08 M299.82 140.6 L309.82 143.1 M301.07 138.69 L311.07 141.19 M303.67 135.61 L313.67 138.11 M305.21 134.24 L315.21 136.74 M308.29 132.25 L318.29 134.75 M310.04 131.49 L320.04 133.99 M313.42 130.7 L323.42 133.2 M315.28 130.6 L325.28 133.1 M318.75 131.05 L328.75 133.55 M320.61 131.63 L330.61 134.13 M323.99 133.29 L333.99 135.79 M325.74 134.5 L335.74 137 M328.81 137.29 L338.81 139.79 M330.35 139.06 L340.35 141.56 M332.95 142.81 L342.95 145.31 M334.2 145.04 L344.2 147.54 M336.17 149.53 L346.17 152.03 M337.04 152.1 L347.04 154.6 M338.27 157.07 L348.27 159.57 M338.71 159.81 L348.71 162.31 " fill="none" stroke="#222" stroke-width="0.99" />
<path d="M346.14 163.99 L346.31 166.07 L349.13 167.47 L349.13 170.25 L346.31 170.92 L346.14 172.96 L348.71 175.3 L348.26 177.93 L345.35 177.56 L344.86 179.44 L347.02 182.58 L346.15 184.92 L343.33 183.54 L342.53 185.14 L344.18 188.9 L342.93 190.81 L340.36 188.49 L339.31 189.73 L340.33 193.89 L338.79 195.26 L336.61 192.14 L335.37 192.94 L335.71 197.25 L333.96 198.01 L332.3 194.26 L330.94 194.59 L330.58 198.8 L328.72 198.9 L327.69 194.75 L326.28 194.57 L325.25 198.45 L323.39 197.87 L323.03 193.56 L321.67 192.89 L320.01 196.21 L318.26 195 L318.61 190.78 L317.37 189.65 L315.19 192.21 L313.65 190.44 L314.67 186.55 L313.62 185.03 L311.05 186.69 L309.8 184.46 L311.45 181.13 L310.65 179.31 L307.83 179.97 L306.96 177.4 L309.13 174.83 L308.64 172.82 L305.73 172.43 L305.29 169.69 L307.86 168.01 L307.69 165.93 L304.87 164.53 L304.87 161.75 L307.69 161.08 L307.86 159.04 L305.29 156.7 L305.74 154.07 L308.65 154.44 L309.14 152.56 L306.98 149.42 L307.85 147.08 L310.67 148.46 L311.47 146.86 L309.82 143.1 L311.07 141.19 L313.64 143.51 L314.69 142.27 L313.67 138.11 L315.21 136.74 L317.39 139.86 L318.63 139.06 L318.29 134.75 L320.04 133.99 L321.7 137.74 L323.06 137.41 L323.42 133.2 L325.28 133.1 L326.31 137.25 L327.72 137.43 L328.75 133.55 L330.61 134.13 L330.97 138.44 L332.33 139.11 L333.99 135.79 L335.74 137 L335.39 141.22 L336.63 142.35 L338.81 139.79 L340.35 141.56 L339.33 145.45 L340.38 146.97 L342.95 145.31 L344.2 147.54 L342.55 150.87 L343.35 152.69 L346.17 152.03 L347.04 154.6 L344.87 157.17 L345.36 159.18 L348.27 159.57 L348.71 162.31 Z" fill="#fff" stroke="#1a1a1a" stroke-width="1.1" />
<ellipse cx="327" cy="166" rx="18.92" ry="28.38" transform="rotate(-6 327 166)" fill="none" stroke="#1a1a1a" stroke-width="1.1"/>
<path d="M340.9 166.44 L341.07 168.68 L343.67 170.4 L343.61 173.48 L340.97 173.82 L340.71 175.93 L342.94 178.95 L342.29 181.71 L339.63 180.53 L338.98 182.31 L340.59 186.3 L339.43 188.43 L337.03 185.87 L336.05 187.11 L336.88 191.64 L335.33 192.92 L333.46 189.25 L332.25 189.83 L332.21 194.39 L330.44 194.68 L329.29 190.31 L327.99 190.15 L327.08 194.27 L325.28 193.54 L324.98 188.93 L323.73 188.05 L322.05 191.28 L320.42 189.6 L321 185.25 L319.94 183.76 L317.67 185.74 L316.37 183.3 L317.78 179.69 L317.01 177.74 L314.4 178.26 L313.59 175.32 L315.66 172.84 L315.28 170.64 L312.61 169.64 L312.37 166.53 L314.88 165.44 L314.93 163.23 L312.48 160.83 L312.84 157.87 L315.53 158.3 L315.99 156.32 L314.04 152.77 L314.96 150.29 L317.52 152.18 L318.36 150.65 L317.11 146.34 L318.49 144.61 L320.65 147.76 L321.77 146.84 L321.36 142.24 L323.05 141.44 L324.58 145.51 L325.85 145.31 L326.33 140.9 L328.14 141.13 L328.88 145.68 L330.17 146.2 L331.48 142.48 L333.22 143.7 L333.08 148.24 L334.25 149.44 L336.25 146.81 L337.74 148.89 L336.73 152.93 L337.66 154.67 L340.13 153.41 L341.2 156.13 L339.44 159.22 L340.02 161.32 L342.7 161.57 L343.23 164.63 Z" fill="#fff" stroke="#1a1a1a" stroke-width="1.1" />
<path d="M343.67 170.4 L348.67 171.6 M343.61 173.48 L348.61 174.68 M342.94 178.95 L347.94 180.15 M342.29 181.71 L347.29 182.91 M340.59 186.3 L345.59 187.5 M339.43 188.43 L344.43 189.63 M336.88 191.64 L341.88 192.84 M335.33 192.92 L340.33 194.12 M332.21 194.39 L337.21 195.59 M330.44 194.68 L335.44 195.88 M327.08 194.27 L332.08 195.47 M325.28 193.54 L330.28 194.74 M322.05 191.28 L327.05 192.48 M320.42 189.6 L325.42 190.8 M317.67 185.74 L322.67 186.94 M316.37 183.3 L321.37 184.5 M314.4 178.26 L319.4 179.46 M313.59 175.32 L318.59 176.52 M312.61 169.64 L317.61 170.84 M312.37 166.53 L317.37 167.73 M312.48 160.83 L317.48 162.03 M312.84 157.87 L317.84 159.07 M314.04 152.77 L319.04 153.97 M314.96 150.29 L319.96 151.49 M317.11 146.34 L322.11 147.54 M318.49 144.61 L323.49 145.81 M321.36 142.24 L326.36 143.44 M323.05 141.44 L328.05 142.64 M326.33 140.9 L331.33 142.1 M328.14 141.13 L333.14 142.33 M331.48 142.48 L336.48 143.68 M333.22 143.7 L338.22 144.9 M336.25 146.81 L341.25 148.01 M337.74 148.89 L342.74 150.09 M340.13 153.41 L345.13 154.61 M341.2 156.13 L346.2 157.33 M342.7 161.57 L347.7 162.77 M343.23 164.63 L348.23 165.83 " fill="none" stroke="#222" stroke-width="0.99" />
<path d="M345.9 167.64 L346.07 169.88 L348.67 171.6 L348.61 174.68 L345.97 175.02 L345.71 177.13 L347.94 180.15 L347.29 182.91 L344.63 181.73 L343.98 183.51 L345.59 187.5 L344.43 189.63 L342.03 187.07 L341.05 188.31 L341.88 192.84 L340.33 194.12 L338.46 190.45 L337.25 191.03 L337.21 195.59 L335.44 195.88 L334.29 191.51 L332.99 191.35 L332.08 195.47 L330.28 194.74 L329.98 190.13 L328.73 189.25 L327.05 192.48 L325.42 190.8 L326 186.45 L324.94 184.96 L322.67 186.94 L321.37 184.5 L322.78 180.89 L322.01 178.94 L319.4 179.46 L318.59 176.52 L320.66 174.04 L320.28 171.84 L317.61 170.84 L317.37 167.73 L319.88 166.64 L319.93 164.43 L317.48 162.03 L317.84 159.07 L320.53 159.5 L320.99 157.52 L319.04 153.97 L319.96 151.49 L322.52 153.38 L323.36 151.85 L322.11 147.54 L323.49 145.81 L325.65 148.96 L326.77 148.04 L326.36 143.44 L328.05 142.64 L329.58 146.71 L330.85 146.51 L331.33 142.1 L333.14 142.33 L333.88 146.88 L335.17 147.4 L336.48 143.68 L338.22 144.9 L338.08 149.44 L339.25 150.64 L341.25 148.01 L342.74 150.09 L341.73 154.13 L342.66 155.87 L345.13 154.61 L346.2 157.33 L344.44 160.42 L345.02 162.52 L347.7 162.77 L348.23 165.83 Z" fill="#fff" stroke="#1a1a1a" stroke-width="1.1" />
<ellipse cx="341.5" cy="172.5" rx="11" ry="21.5" transform="rotate(-6 341.5 172.5)" fill="#fff" stroke="#1a1a1a" stroke-width="1"/>
<ellipse cx="342.5" cy="172.8" rx="10" ry="20.5" transform="rotate(-6 342.5 172.8)" fill="none" stroke="#1a1a1a" stroke-width="0.8"/>
<path d="M345.97 171.67 L346.1 173.66 L348.15 175.65 L347.97 178.62 L345.83 178.1 L345.48 179.79 L346.94 183.5 L346.04 185.62 L344.14 182.97 L343.38 183.91 L343.87 188.35 L342.5 189.06 L341.33 184.98 L340.38 184.92 L339.76 188.89 L338.28 188 L338.17 183.59 L337.28 182.55 L335.72 184.99 L334.53 182.74 L335.5 179.18 L334.91 177.43 L332.82 177.69 L332.24 174.68 L334.03 172.93 L333.9 170.94 L331.85 168.95 L332.03 165.98 L334.17 166.5 L334.52 164.81 L333.06 161.1 L333.96 158.98 L335.86 161.63 L336.62 160.69 L336.13 156.25 L337.5 155.54 L338.67 159.62 L339.62 159.68 L340.24 155.71 L341.72 156.6 L341.83 161.01 L342.72 162.05 L344.28 159.61 L345.47 161.86 L344.5 165.42 L345.09 167.17 L347.18 166.91 L347.76 169.92 Z" fill="#fff" stroke="#1a1a1a" stroke-width="1.1" />
<path d="M348.15 175.65 L353.15 176.85 M347.97 178.62 L352.97 179.82 M346.94 183.5 L351.94 184.7 M346.04 185.62 L351.04 186.82 M343.87 188.35 L348.87 189.55 M342.5 189.06 L347.5 190.26 M339.76 188.89 L344.76 190.09 M338.28 188 L343.28 189.2 M335.72 184.99 L340.72 186.19 M334.53 182.74 L339.53 183.94 M332.82 177.69 L337.82 178.89 M332.24 174.68 L337.24 175.88 M331.85 168.95 L336.85 170.15 M332.03 165.98 L337.03 167.18 M333.06 161.1 L338.06 162.3 M333.96 158.98 L338.96 160.18 M336.13 156.25 L341.13 157.45 M337.5 155.54 L342.5 156.74 M340.24 155.71 L345.24 156.91 M341.72 156.6 L346.72 157.8 M344.28 159.61 L349.28 160.81 M345.47 161.86 L350.47 163.06 M347.18 166.91 L352.18 168.11 M347.76 169.92 L352.76 171.12 " fill="none" stroke="#222" stroke-width="0.99" />
<path d="M350.97 172.87 L351.1 174.86 L353.15 176.85 L352.97 179.82 L350.83 179.3 L350.48 180.99 L351.94 184.7 L351.04 186.82 L349.14 184.17 L348.38 185.11 L348.87 189.55 L347.5 190.26 L346.33 186.18 L345.38 186.12 L344.76 190.09 L343.28 189.2 L343.17 184.79 L342.28 183.75 L340.72 186.19 L339.53 183.94 L340.5 180.38 L339.91 178.63 L337.82 178.89 L337.24 175.88 L339.03 174.13 L338.9 172.14 L336.85 170.15 L337.03 167.18 L339.17 167.7 L339.52 166.01 L338.06 162.3 L338.96 160.18 L340.86 162.83 L341.62 161.89 L341.13 157.45 L342.5 156.74 L343.67 160.82 L344.62 160.88 L345.24 156.91 L346.72 157.8 L346.83 162.21 L347.72 163.25 L349.28 160.81 L350.47 163.06 L349.5 166.62 L350.09 168.37 L352.18 168.11 L352.76 171.12 Z" fill="#fff" stroke="#1a1a1a" stroke-width="1.1" />
<path d="M379.47 169.42 L379.62 171.4 L382.12 172.75 L382.09 175.39 L379.58 176.01 L379.38 177.94 L381.61 180.17 L381.12 182.65 L378.52 182.27 L377.99 184.02 L379.79 186.98 L378.87 189.13 L376.37 187.78 L375.54 189.23 L376.8 192.71 L375.51 194.39 L373.28 192.16 L372.2 193.21 L372.83 196.98 L371.26 198.07 L369.45 195.11 L368.2 195.69 L368.16 199.49 L366.42 199.92 L365.15 196.44 L363.81 196.5 L363.1 200.07 L361.3 199.81 L360.67 196.04 L359.34 195.58 L358 198.69 L356.27 197.75 L356.31 193.95 L355.07 193.01 L353.21 195.43 L351.67 193.88 L352.38 190.31 L351.32 188.95 L349.05 190.52 L347.8 188.47 L349.13 185.36 L348.33 183.67 L345.81 184.29 L344.94 181.88 L346.8 179.45 L346.3 177.55 L343.71 177.17 L343.27 174.56 L345.53 172.98 L345.38 171 L342.88 169.65 L342.91 167.01 L345.42 166.39 L345.62 164.46 L343.39 162.23 L343.88 159.75 L346.48 160.13 L347.01 158.38 L345.21 155.42 L346.13 153.27 L348.63 154.62 L349.46 153.17 L348.2 149.69 L349.49 148.01 L351.72 150.24 L352.8 149.19 L352.17 145.42 L353.74 144.33 L355.55 147.29 L356.8 146.71 L356.84 142.91 L358.58 142.48 L359.85 145.96 L361.19 145.9 L361.9 142.33 L363.7 142.59 L364.33 146.36 L365.66 146.82 L367 143.71 L368.73 144.65 L368.69 148.45 L369.93 149.39 L371.79 146.97 L373.33 148.52 L372.62 152.09 L373.68 153.45 L375.95 151.88 L377.2 153.93 L375.87 157.04 L376.67 158.73 L379.19 158.11 L380.06 160.52 L378.2 162.95 L378.7 164.85 L381.29 165.23 L381.73 167.84 Z" fill="#fff" stroke="#1a1a1a" stroke-width="1.1" />
<path d="M382.12 172.75 L385.62 173.55 M382.09 175.39 L385.59 176.19 M381.61 180.17 L385.11 180.97 M381.12 182.65 L384.62 183.45 M379.79 186.98 L383.29 187.78 M378.87 189.13 L382.37 189.93 M376.8 192.71 L380.3 193.51 M375.51 194.39 L379.01 195.19 M372.83 196.98 L376.33 197.78 M371.26 198.07 L374.76 198.87 M368.16 199.49 L371.66 200.29 M366.42 199.92 L369.92 200.72 M363.1 200.07 L366.6 200.87 M361.3 199.81 L364.8 200.61 M358 198.69 L361.5 199.49 M356.27 197.75 L359.77 198.55 M353.21 195.43 L356.71 196.23 M351.67 193.88 L355.17 194.68 M349.05 190.52 L352.55 191.32 M347.8 188.47 L351.3 189.27 M345.81 184.29 L349.31 185.09 M344.94 181.88 L348.44 182.68 M343.71 177.17 L347.21 177.97 M343.27 174.56 L346.77 175.36 M342.88 169.65 L346.38 170.45 M342.91 167.01 L346.41 167.81 M343.39 162.23 L346.89 163.03 M343.88 159.75 L347.38 160.55 M345.21 155.42 L348.71 156.22 M346.13 153.27 L349.63 154.07 M348.2 149.69 L351.7 150.49 M349.49 148.01 L352.99 148.81 M352.17 145.42 L355.67 146.22 M353.74 144.33 L357.24 145.13 M356.84 142.91 L360.34 143.71 M358.58 142.48 L362.08 143.28 M361.9 142.33 L365.4 143.13 M363.7 142.59 L367.2 143.39 M367 143.71 L370.5 144.51 M368.73 144.65 L372.23 145.45 M371.79 146.97 L375.29 147.77 M373.33 148.52 L376.83 149.32 M375.95 151.88 L379.45 152.68 M377.2 153.93 L380.7 154.73 M379.19 158.11 L382.69 158.91 M380.06 160.52 L383.56 161.32 M381.29 165.23 L384.79 166.03 M381.73 167.84 L385.23 168.64 " fill="none" stroke="#222" stroke-width="0.99" />
<path d="M382.97 170.22 L383.12 172.2 L385.62 173.55 L385.59 176.19 L383.08 176.81 L382.88 178.74 L385.11 180.97 L384.62 183.45 L382.02 183.07 L381.49 184.82 L383.29 187.78 L382.37 189.93 L379.87 188.58 L379.04 190.03 L380.3 193.51 L379.01 195.19 L376.78 192.96 L375.7 194.01 L376.33 197.78 L374.76 198.87 L372.95 195.91 L371.7 196.49 L371.66 200.29 L369.92 200.72 L368.65 197.24 L367.31 197.3 L366.6 200.87 L364.8 200.61 L364.17 196.84 L362.84 196.38 L361.5 199.49 L359.77 198.55 L359.81 194.75 L358.57 193.81 L356.71 196.23 L355.17 194.68 L355.88 191.11 L354.82 189.75 L352.55 191.32 L351.3 189.27 L352.63 186.16 L351.83 184.47 L349.31 185.09 L348.44 182.68 L350.3 180.25 L349.8 178.35 L347.21 177.97 L346.77 175.36 L349.03 173.78 L348.88 171.8 L346.38 170.45 L346.41 167.81 L348.92 167.19 L349.12 165.26 L346.89 163.03 L347.38 160.55 L349.98 160.93 L350.51 159.18 L348.71 156.22 L349.63 154.07 L352.13 155.42 L352.96 153.97 L351.7 150.49 L352.99 148.81 L355.22 151.04 L356.3 149.99 L355.67 146.22 L357.24 145.13 L359.05 148.09 L360.3 147.51 L360.34 143.71 L362.08 143.28 L363.35 146.76 L364.69 146.7 L365.4 143.13 L367.2 143.39 L367.83 147.16 L369.16 147.62 L370.5 144.51 L372.23 145.45 L372.19 149.25 L373.43 150.19 L375.29 147.77 L376.83 149.32 L376.12 152.89 L377.18 154.25 L379.45 152.68 L380.7 154.73 L379.37 157.84 L380.17 159.53 L382.69 158.91 L383.56 161.32 L381.7 163.75 L382.2 165.65 L384.79 166.03 L385.23 168.64 Z" fill="#fff" stroke="#1a1a1a" stroke-width="1.1" />
<ellipse cx="367.5" cy="174" rx="16.38" ry="24.94" transform="rotate(-6 367.5 174)" fill="none" stroke="#1a1a1a" stroke-width="1.1"/>
<path d="M376.11 174.4 L376.26 176.31 L378.67 177.99 L378.63 180.77 L376.18 180.68 L375.97 182.46 L378.05 185.66 L377.48 188.07 L375.08 186.23 L374.54 187.64 L376 191.94 L374.99 193.64 L372.96 190.31 L372.16 191.16 L372.8 195.96 L371.48 196.73 L370.1 192.36 L369.15 192.53 L368.88 197.2 L367.44 196.93 L366.88 192.11 L365.92 191.58 L364.78 195.48 L363.41 194.21 L363.76 189.59 L362.9 188.43 L361.05 191.03 L359.92 188.93 L361.13 185.13 L360.5 183.51 L358.19 184.46 L357.47 181.82 L359.37 179.35 L359.05 177.47 L356.58 176.65 L356.36 173.82 L358.7 173.03 L358.74 171.15 L356.45 168.66 L356.76 166.02 L359.23 167 L359.61 165.38 L357.81 161.57 L358.62 159.48 L360.87 162.1 L361.55 160.96 L360.48 156.33 L361.67 155.07 L363.4 158.99 L364.29 158.47 L364.1 153.65 L365.5 153.4 L366.49 158.07 L367.47 158.25 L368.18 153.9 L369.61 154.68 L369.72 159.48 L370.65 160.34 L372.16 157.03 L373.44 158.75 L372.64 163.03 L373.4 164.45 L375.52 162.64 L376.46 165.05 L374.87 168.24 L375.36 170.02 L377.79 169.95 L378.27 172.74 Z" fill="#fff" stroke="#1a1a1a" stroke-width="1.1" />
<path d="M378.67 177.99 L389.67 180.69 M378.63 180.77 L389.63 183.47 M378.05 185.66 L389.05 188.36 M377.48 188.07 L388.48 190.77 M376 191.94 L387 194.64 M374.99 193.64 L385.99 196.34 M372.8 195.96 L383.8 198.66 M371.48 196.73 L382.48 199.43 M368.88 197.2 L379.88 199.9 M367.44 196.93 L378.44 199.63 M364.78 195.48 L375.78 198.18 M363.41 194.21 L374.41 196.91 M361.05 191.03 L372.05 193.73 M359.92 188.93 L370.92 191.63 M358.19 184.46 L369.19 187.16 M357.47 181.82 L368.47 184.52 M356.58 176.65 L367.58 179.35 M356.36 173.82 L367.36 176.52 M356.45 168.66 L367.45 171.36 M356.76 166.02 L367.76 168.72 M357.81 161.57 L368.81 164.27 M358.62 159.48 L369.62 162.18 M360.48 156.33 L371.48 159.03 M361.67 155.07 L372.67 157.77 M364.1 153.65 L375.1 156.35 M365.5 153.4 L376.5 156.1 M368.18 153.9 L379.18 156.6 M369.61 154.68 L380.61 157.38 M372.16 157.03 L383.16 159.73 M373.44 158.75 L384.44 161.45 M375.52 162.64 L386.52 165.34 M376.46 165.05 L387.46 167.75 M377.79 169.95 L388.79 172.65 M378.27 172.74 L389.27 175.44 " fill="none" stroke="#222" stroke-width="0.99" />
<path d="M387.11 177.1 L387.26 179.01 L389.67 180.69 L389.63 183.47 L387.18 183.38 L386.97 185.16 L389.05 188.36 L388.48 190.77 L386.08 188.93 L385.54 190.34 L387 194.64 L385.99 196.34 L383.96 193.01 L383.16 193.86 L383.8 198.66 L382.48 199.43 L381.1 195.06 L380.15 195.23 L379.88 199.9 L378.44 199.63 L377.88 194.81 L376.92 194.28 L375.78 198.18 L374.41 196.91 L374.76 192.29 L373.9 191.13 L372.05 193.73 L370.92 191.63 L372.13 187.83 L371.5 186.21 L369.19 187.16 L368.47 184.52 L370.37 182.05 L370.05 180.17 L367.58 179.35 L367.36 176.52 L369.7 175.73 L369.74 173.85 L367.45 171.36 L367.76 168.72 L370.23 169.7 L370.61 168.08 L368.81 164.27 L369.62 162.18 L371.87 164.8 L372.55 163.66 L371.48 159.03 L372.67 157.77 L374.4 161.69 L375.29 161.17 L375.1 156.35 L376.5 156.1 L377.49 160.77 L378.47 160.95 L379.18 156.6 L380.61 157.38 L380.72 162.18 L381.65 163.04 L383.16 159.73 L384.44 161.45 L383.64 165.73 L384.4 167.15 L386.52 165.34 L387.46 167.75 L385.87 170.94 L386.36 172.72 L388.79 172.65 L389.27 175.44 Z" fill="#fff" stroke="#1a1a1a" stroke-width="1.1" />
<path d="M388.11 178.4 L388.26 180.31 L390.67 181.99 L390.63 184.77 L388.18 184.68 L387.97 186.46 L390.05 189.66 L389.48 192.07 L387.08 190.23 L386.54 191.64 L388 195.94 L386.99 197.64 L384.96 194.31 L384.16 195.16 L384.8 199.96 L383.48 200.73 L382.1 196.36 L381.15 196.53 L380.88 201.2 L379.44 200.93 L378.88 196.11 L377.92 195.58 L376.78 199.48 L375.41 198.21 L375.76 193.59 L374.9 192.43 L373.05 195.03 L371.92 192.93 L373.13 189.13 L372.5 187.51 L370.19 188.46 L369.47 185.82 L371.37 183.35 L371.05 181.47 L368.58 180.65 L368.36 177.82 L370.7 177.03 L370.74 175.15 L368.45 172.66 L368.76 170.02 L371.23 171 L371.61 169.38 L369.81 165.57 L370.62 163.48 L372.87 166.1 L373.55 164.96 L372.48 160.33 L373.67 159.07 L375.4 162.99 L376.29 162.47 L376.1 157.65 L377.5 157.4 L378.49 162.07 L379.47 162.25 L380.18 157.9 L381.61 158.68 L381.72 163.48 L382.65 164.34 L384.16 161.03 L385.44 162.75 L384.64 167.03 L385.4 168.45 L387.52 166.64 L388.46 169.05 L386.87 172.24 L387.36 174.02 L389.79 173.95 L390.27 176.74 Z" fill="#fff" stroke="#1a1a1a" stroke-width="1.1" />
<path d="M390.67 181.99 L401.67 184.69 M390.63 184.77 L401.63 187.47 M390.05 189.66 L401.05 192.36 M389.48 192.07 L400.48 194.77 M388 195.94 L399 198.64 M386.99 197.64 L397.99 200.34 M384.8 199.96 L395.8 202.66 M383.48 200.73 L394.48 203.43 M380.88 201.2 L391.88 203.9 M379.44 200.93 L390.44 203.63 M376.78 199.48 L387.78 202.18 M375.41 198.21 L386.41 200.91 M373.05 195.03 L384.05 197.73 M371.92 192.93 L382.92 195.63 M370.19 188.46 L381.19 191.16 M369.47 185.82 L380.47 188.52 M368.58 180.65 L379.58 183.35 M368.36 177.82 L379.36 180.52 M368.45 172.66 L379.45 175.36 M368.76 170.02 L379.76 172.72 M369.81 165.57 L380.81 168.27 M370.62 163.48 L381.62 166.18 M372.48 160.33 L383.48 163.03 M373.67 159.07 L384.67 161.77 M376.1 157.65 L387.1 160.35 M377.5 157.4 L388.5 160.1 M380.18 157.9 L391.18 160.6 M381.61 158.68 L392.61 161.38 M384.16 161.03 L395.16 163.73 M385.44 162.75 L396.44 165.45 M387.52 166.64 L398.52 169.34 M388.46 169.05 L399.46 171.75 M389.79 173.95 L400.79 176.65 M390.27 176.74 L401.27 179.44 " fill="none" stroke="#222" stroke-width="0.99" />
<path d="M399.11 181.1 L399.26 183.01 L401.67 184.69 L401.63 187.47 L399.18 187.38 L398.97 189.16 L401.05 192.36 L400.48 194.77 L398.08 192.93 L397.54 194.34 L399 198.64 L397.99 200.34 L395.96 197.01 L395.16 197.86 L395.8 202.66 L394.48 203.43 L393.1 199.06 L392.15 199.23 L391.88 203.9 L390.44 203.63 L389.88 198.81 L388.92 198.28 L387.78 202.18 L386.41 200.91 L386.76 196.29 L385.9 195.13 L384.05 197.73 L382.92 195.63 L384.13 191.83 L383.5 190.21 L381.19 191.16 L380.47 188.52 L382.37 186.05 L382.05 184.17 L379.58 183.35 L379.36 180.52 L381.7 179.73 L381.74 177.85 L379.45 175.36 L379.76 172.72 L382.23 173.7 L382.61 172.08 L380.81 168.27 L381.62 166.18 L383.87 168.8 L384.55 167.66 L383.48 163.03 L384.67 161.77 L386.4 165.69 L387.29 165.17 L387.1 160.35 L388.5 160.1 L389.49 164.77 L390.47 164.95 L391.18 160.6 L392.61 161.38 L392.72 166.18 L393.65 167.04 L395.16 163.73 L396.44 165.45 L395.64 169.73 L396.4 171.15 L398.52 169.34 L399.46 171.75 L397.87 174.94 L398.36 176.72 L400.79 176.65 L401.27 179.44 Z" fill="#fff" stroke="#1a1a1a" stroke-width="1.1" />
<path d="M428.77 178.24 L428.94 180.44 L432.41 181.89 L432.37 184.83 L428.88 185.55 L428.65 187.7 L431.81 190.2 L431.25 193 L427.67 192.57 L427.07 194.55 L429.73 197.95 L428.67 200.45 L425.23 198.89 L424.27 200.6 L426.29 204.7 L424.8 206.75 L421.68 204.15 L420.43 205.48 L421.68 210.05 L419.85 211.53 L417.24 208.05 L415.77 208.91 L416.19 213.68 L414.11 214.5 L412.16 210.34 L410.56 210.7 L410.11 215.39 L407.92 215.51 L406.75 210.91 L405.1 210.74 L403.82 215.08 L401.63 214.49 L401.3 209.72 L399.71 209.03 L397.67 212.77 L395.62 211.5 L396.15 206.84 L394.71 205.66 L392.02 208.58 L390.23 206.72 L391.59 202.43 L390.38 200.84 L387.21 202.77 L385.77 200.42 L387.88 196.75 L386.97 194.85 L383.5 195.67 L382.5 192.96 L385.24 190.13 L384.69 188.02 L381.11 187.7 L380.62 184.79 L383.83 182.96 L383.66 180.76 L380.19 179.31 L380.23 176.37 L383.72 175.65 L383.95 173.5 L380.79 171 L381.35 168.2 L384.93 168.63 L385.53 166.65 L382.87 163.25 L383.93 160.75 L387.37 162.31 L388.33 160.6 L386.31 156.5 L387.8 154.45 L390.92 157.05 L392.17 155.72 L390.92 151.15 L392.75 149.67 L395.36 153.15 L396.83 152.29 L396.41 147.52 L398.49 146.7 L400.44 150.86 L402.04 150.5 L402.49 145.81 L404.68 145.69 L405.85 150.29 L407.5 150.46 L408.78 146.12 L410.97 146.71 L411.3 151.48 L412.89 152.17 L414.93 148.43 L416.98 149.7 L416.45 154.36 L417.89 155.54 L420.58 152.62 L422.37 154.48 L421.01 158.77 L422.22 160.36 L425.39 158.43 L426.83 160.78 L424.72 164.45 L425.63 166.35 L429.1 165.53 L430.1 168.24 L427.36 171.07 L427.91 173.18 L431.49 173.5 L431.98 176.41 Z" fill="#fff" stroke="#1a1a1a" stroke-width="1.1" />
<path d="M432.41 181.89 L440.41 183.89 M432.37 184.83 L440.37 186.83 M431.81 190.2 L439.81 192.2 M431.25 193 L439.25 195 M429.73 197.95 L437.73 199.95 M428.67 200.45 L436.67 202.45 M426.29 204.7 L434.29 206.7 M424.8 206.75 L432.8 208.75 M421.68 210.05 L429.68 212.05 M419.85 211.53 L427.85 213.53 M416.19 213.68 L424.19 215.68 M414.11 214.5 L422.11 216.5 M410.11 215.39 L418.11 217.39 M407.92 215.51 L415.92 217.51 M403.82 215.08 L411.82 217.08 M401.63 214.49 L409.63 216.49 M397.67 212.77 L405.67 214.77 M395.62 211.5 L403.62 213.5 M392.02 208.58 L400.02 210.58 M390.23 206.72 L398.23 208.72 M387.21 202.77 L395.21 204.77 M385.77 200.42 L393.77 202.42 M383.5 195.67 L391.5 197.67 M382.5 192.96 L390.5 194.96 M381.11 187.7 L389.11 189.7 M380.62 184.79 L388.62 186.79 M380.19 179.31 L388.19 181.31 M380.23 176.37 L388.23 178.37 M380.79 171 L388.79 173 M381.35 168.2 L389.35 170.2 M382.87 163.25 L390.87 165.25 M383.93 160.75 L391.93 162.75 M386.31 156.5 L394.31 158.5 M387.8 154.45 L395.8 156.45 M390.92 151.15 L398.92 153.15 M392.75 149.67 L400.75 151.67 M396.41 147.52 L404.41 149.52 M398.49 146.7 L406.49 148.7 M402.49 145.81 L410.49 147.81 M404.68 145.69 L412.68 147.69 M408.78 146.12 L416.78 148.12 M410.97 146.71 L418.97 148.71 M414.93 148.43 L422.93 150.43 M416.98 149.7 L424.98 151.7 M420.58 152.62 L428.58 154.62 M422.37 154.48 L430.37 156.48 M425.39 158.43 L433.39 160.43 M426.83 160.78 L434.83 162.78 M429.1 165.53 L437.1 167.53 M430.1 168.24 L438.1 170.24 M431.49 173.5 L439.49 175.5 M431.98 176.41 L439.98 178.41 " fill="none" stroke="#222" stroke-width="0.99" />
<path d="M436.77 180.24 L436.94 182.44 L440.41 183.89 L440.37 186.83 L436.88 187.55 L436.65 189.7 L439.81 192.2 L439.25 195 L435.67 194.57 L435.07 196.55 L437.73 199.95 L436.67 202.45 L433.23 200.89 L432.27 202.6 L434.29 206.7 L432.8 208.75 L429.68 206.15 L428.43 207.48 L429.68 212.05 L427.85 213.53 L425.24 210.05 L423.77 210.91 L424.19 215.68 L422.11 216.5 L420.16 212.34 L418.56 212.7 L418.11 217.39 L415.92 217.51 L414.75 212.91 L413.1 212.74 L411.82 217.08 L409.63 216.49 L409.3 211.72 L407.71 211.03 L405.67 214.77 L403.62 213.5 L404.15 208.84 L402.71 207.66 L400.02 210.58 L398.23 208.72 L399.59 204.43 L398.38 202.84 L395.21 204.77 L393.77 202.42 L395.88 198.75 L394.97 196.85 L391.5 197.67 L390.5 194.96 L393.24 192.13 L392.69 190.02 L389.11 189.7 L388.62 186.79 L391.83 184.96 L391.66 182.76 L388.19 181.31 L388.23 178.37 L391.72 177.65 L391.95 175.5 L388.79 173 L389.35 170.2 L392.93 170.63 L393.53 168.65 L390.87 165.25 L391.93 162.75 L395.37 164.31 L396.33 162.6 L394.31 158.5 L395.8 156.45 L398.92 159.05 L400.17 157.72 L398.92 153.15 L400.75 151.67 L403.36 155.15 L404.83 154.29 L404.41 149.52 L406.49 148.7 L408.44 152.86 L410.04 152.5 L410.49 147.81 L412.68 147.69 L413.85 152.29 L415.5 152.46 L416.78 148.12 L418.97 148.71 L419.3 153.48 L420.89 154.17 L422.93 150.43 L424.98 151.7 L424.45 156.36 L425.89 157.54 L428.58 154.62 L430.37 156.48 L429.01 160.77 L430.22 162.36 L433.39 160.43 L434.83 162.78 L432.72 166.45 L433.63 168.35 L437.1 167.53 L438.1 170.24 L435.36 173.07 L435.91 175.18 L439.49 175.5 L439.98 178.41 Z" fill="#fff" stroke="#1a1a1a" stroke-width="1.1" />
<ellipse cx="410.8" cy="185.6" rx="22.36" ry="28" transform="rotate(-6 410.8 185.6)" fill="none" stroke="#1a1a1a" stroke-width="1.1"/>
<path d="M397.7 168.5 L407 164.8 L408.6 171 L400 174 Z" fill="#fff" stroke="#1a1a1a" stroke-width="1.2" />
<path d="M398.5 170.4 L407.6 167.0" fill="none" stroke="#1a1a1a" stroke-width="0.8" />
<path d="M416.7 168.2 L421.5 170 L423 176.3 L418.5 175 Z" fill="#fff" stroke="#1a1a1a" stroke-width="1.2" />
<path d="M417.3 170.6 L422.0 172.2" fill="none" stroke="#1a1a1a" stroke-width="0.8" />
<path d="M392.5 187 L396.5 185.5 L397.7 197 L393.5 197.6 Z" fill="#fff" stroke="#1a1a1a" stroke-width="1.2" />
<path d="M392.9 190.7 L396.9 189.5" fill="none" stroke="#1a1a1a" stroke-width="0.8" />
<path d="M405.7 200.5 L416.5 199.4 L417.3 204 L406.5 204.2 Z" fill="#fff" stroke="#1a1a1a" stroke-width="1.2" />
<path d="M406.0 201.8 L416.8 201.0" fill="none" stroke="#1a1a1a" stroke-width="0.8" />
<ellipse cx="404.5" cy="186" rx="6" ry="11.2" transform="rotate(-6 404.5 186)" fill="#fff" stroke="#1a1a1a" stroke-width="1"/>
<ellipse cx="406.8" cy="186.4" rx="5" ry="10.5" transform="rotate(-6 406.8 186.4)" fill="#fff" stroke="#1a1a1a" stroke-width="0.9"/>
<path d="M408.9 196.96 L408.61 196.88 L408.32 196.73 L408.04 196.53 L407.75 196.26 L407.47 195.94 L407.2 195.56 L406.94 195.13 L406.68 194.64 L406.44 194.11 L406.21 193.53 L405.99 192.91 L405.79 192.26 L405.6 191.56 L405.44 190.84 L405.29 190.1 L405.16 189.33 L405.05 188.55 L404.97 187.76 L404.9 186.96 L404.86 186.16 L404.84 185.37 L404.84 184.58 L404.87 183.81 L404.92 183.06 L404.99 182.32 L405.08 181.62 L405.19 180.95 L405.32 180.31 L405.48 179.72 L405.65 179.17 L405.84 178.66 L406.04 178.21 L406.26 177.81 L406.49 177.46 L406.74 177.17 L407 176.94 L407.27 176.77 L407.54 176.67 L407.82 176.62 L408.1 176.64 L430.6 180.34 L430.89 180.42 L431.18 180.57 L431.46 180.77 L431.75 181.04 L432.03 181.36 L432.3 181.74 L432.56 182.17 L432.82 182.66 L433.06 183.19 L433.29 183.77 L433.51 184.39 L433.71 185.04 L433.9 185.74 L434.06 186.46 L434.21 187.2 L434.34 187.97 L434.45 188.75 L434.53 189.54 L434.6 190.34 L434.64 191.14 L434.66 191.93 L434.66 192.72 L434.63 193.49 L434.58 194.24 L434.51 194.98 L434.42 195.68 L434.31 196.35 L434.18 196.99 L434.02 197.58 L433.85 198.13 L433.66 198.64 L433.46 199.09 L433.24 199.49 L433.01 199.84 L432.76 200.13 L432.5 200.36 L432.23 200.53 L431.96 200.63 L431.68 200.68 L431.4 200.66 Z" fill="#fff" stroke="#1a1a1a" stroke-width="1.25" />
<path d="M418.0 181.5 L431.0 181.4 M416.0 185.0 L431.0 185.7 M419.0 188.5 L431.0 190.0 M417.0 192.0 L431.0 194.3 M420.0 195.0 L431.0 198.1 " fill="none" stroke="#1a1a1a" stroke-width="0.8" />
<g transform="translate(431 190.5) rotate(12)">
<rect x="0" y="-6" width="8" height="12" fill="#2a2a2a" stroke="#1a1a1a" stroke-width="1"/>
<path d="M1.5 -6 L1.5 6 M3 -6 L3 6 M4.5 -6 L4.5 6 M6 -6 L6 6" fill="none" stroke="#999" stroke-width="0.5" />
</g>
<ellipse cx="439.5" cy="192.2" rx="4.6" ry="6.8" transform="rotate(5 439.5 192.2)" fill="#fff" stroke="#1a1a1a" stroke-width="1.1"/>
<ellipse cx="440" cy="192.2" rx="1.2" ry="1.5" transform="rotate(0 440 192.2)" fill="none" stroke="#1a1a1a" stroke-width="1.25"/>
<line x1="348" y1="131" x2="341" y2="148" stroke="#1a1a1a" stroke-width="1.25"/>
<line x1="362" y1="135" x2="352" y2="152" stroke="#1a1a1a" stroke-width="1.25"/>
<line x1="380" y1="140" x2="373" y2="153" stroke="#1a1a1a" stroke-width="1.25"/>
<line x1="393" y1="141" x2="384" y2="159" stroke="#1a1a1a" stroke-width="1.25"/>
<line x1="411" y1="147.5" x2="407" y2="152" stroke="#1a1a1a" stroke-width="1.25"/>
<line x1="441" y1="200" x2="442.5" y2="212.5" stroke="#1a1a1a" stroke-width="1.25"/>
<path d="M458.01 211.13 L457.4 210.98 L456.81 210.74 L456.23 210.44 L455.68 210.06 L455.16 209.62 L454.66 209.11 L454.2 208.54 L453.77 207.91 L453.39 207.23 L453.04 206.49 L452.73 205.71 L452.48 204.89 L452.26 204.03 L452.1 203.14 L451.98 202.22 L451.91 201.29 L451.9 200.34 L451.93 199.38 L452.01 198.42 L452.14 197.46 L452.32 196.51 L452.55 195.58 L452.82 194.67 L453.14 193.79 L453.5 192.94 L453.9 192.12 L454.34 191.35 L454.81 190.62 L455.32 189.95 L455.85 189.33 L456.41 188.77 L456.99 188.28 L457.59 187.85 L458.2 187.49 L458.83 187.2 L459.46 186.98 L460.1 186.84 L460.73 186.77 L461.36 186.78 L461.99 186.87 L485.99 191.87 L486.6 192.02 L487.19 192.26 L487.77 192.56 L488.32 192.94 L488.84 193.38 L489.34 193.89 L489.8 194.46 L490.23 195.09 L490.61 195.77 L490.96 196.51 L491.27 197.29 L491.52 198.11 L491.74 198.97 L491.9 199.86 L492.02 200.78 L492.09 201.71 L492.1 202.66 L492.07 203.62 L491.99 204.58 L491.86 205.54 L491.68 206.49 L491.45 207.42 L491.18 208.33 L490.86 209.21 L490.5 210.06 L490.1 210.88 L489.66 211.65 L489.19 212.38 L488.68 213.05 L488.15 213.67 L487.59 214.23 L487.01 214.72 L486.41 215.15 L485.8 215.51 L485.17 215.8 L484.54 216.02 L483.9 216.16 L483.27 216.23 L482.64 216.22 L482.01 216.13 Z" fill="#fff" stroke="#1a1a1a" stroke-width="1.2" />
<ellipse cx="484" cy="204" rx="8" ry="12.3" transform="rotate(8 484 204)" fill="#fff" stroke="#1a1a1a" stroke-width="1.2"/>
<path d="M464.0 191.1 L474.5 193.6" fill="none" stroke="#1a1a1a" stroke-width="3.4" />
<path d="M464.0 191.1 L474.5 193.6" fill="none" stroke="#fff" stroke-width="1.3" />
<path d="M462.7 195.6 L473.2 198.1" fill="none" stroke="#1a1a1a" stroke-width="3.4" />
<path d="M462.7 195.6 L473.2 198.1" fill="none" stroke="#fff" stroke-width="1.3" />
<path d="M462.4 200.1 L472.9 202.6" fill="none" stroke="#1a1a1a" stroke-width="3.4" />
<path d="M462.4 200.1 L472.9 202.6" fill="none" stroke="#fff" stroke-width="1.3" />
<path d="M462.7 204.6 L473.2 207.1" fill="none" stroke="#1a1a1a" stroke-width="3.4" />
<path d="M462.7 204.6 L473.2 207.1" fill="none" stroke="#fff" stroke-width="1.3" />
<path d="M464.0 209.1 L474.5 211.6" fill="none" stroke="#1a1a1a" stroke-width="3.4" />
<path d="M464.0 209.1 L474.5 211.6" fill="none" stroke="#fff" stroke-width="1.3" />
<ellipse cx="484" cy="204" rx="6.56" ry="10.58" transform="rotate(8 484 204)" fill="none" stroke="#1a1a1a" stroke-width="1"/>
<path d="M480.0 195.7 L486.7 196.7 M478.7 198.7 L487.5 199.7 M478.2 201.8 L487.9 202.8 M478.2 204.8 L487.9 205.8 M478.7 207.9 L487.5 208.9 M480.0 210.9 L486.7 211.9 " fill="none" stroke="#1a1a1a" stroke-width="1.6" />
<path d="M480.0 195.7 L486.7 196.7 M478.7 198.7 L487.5 199.7 M478.2 201.8 L487.9 202.8 M478.2 204.8 L487.9 205.8 M478.7 207.9 L487.5 208.9 M480.0 210.9 L486.7 211.9 " fill="none" stroke="#fff" stroke-width="0.6" />
<path d="M506.6 228.81 L505.69 228.62 L504.8 228.34 L503.94 227.98 L503.11 227.53 L502.32 226.99 L501.56 226.38 L500.86 225.69 L500.2 224.93 L499.6 224.1 L499.05 223.2 L498.57 222.25 L498.15 221.25 L497.8 220.21 L497.52 219.13 L497.3 218.01 L497.16 216.87 L497.1 215.71 L497.1 214.55 L497.18 213.38 L497.34 212.21 L497.56 211.05 L497.85 209.92 L498.22 208.8 L498.65 207.72 L499.14 206.68 L499.7 205.68 L500.31 204.74 L500.97 203.85 L501.69 203.02 L502.45 202.26 L503.25 201.58 L504.09 200.97 L504.95 200.44 L505.84 200 L506.75 199.64 L507.68 199.37 L508.61 199.19 L509.55 199.1 L510.48 199.1 L511.4 199.19 L513.4 199.49 L514.31 199.68 L515.2 199.96 L516.06 200.32 L516.89 200.77 L517.68 201.31 L518.44 201.92 L519.14 202.61 L519.8 203.37 L520.4 204.2 L520.95 205.1 L521.43 206.05 L521.85 207.05 L522.2 208.09 L522.48 209.17 L522.7 210.29 L522.84 211.43 L522.9 212.59 L522.9 213.75 L522.82 214.92 L522.66 216.09 L522.44 217.25 L522.15 218.38 L521.78 219.5 L521.35 220.58 L520.86 221.62 L520.3 222.62 L519.69 223.56 L519.03 224.45 L518.31 225.28 L517.55 226.04 L516.75 226.72 L515.91 227.33 L515.05 227.86 L514.16 228.3 L513.25 228.66 L512.32 228.93 L511.39 229.11 L510.45 229.2 L509.52 229.2 L508.6 229.11 Z" fill="#fff" stroke="#1a1a1a" stroke-width="1.25" />
<ellipse cx="511" cy="214.3" rx="11.8" ry="15" transform="rotate(10 511 214.3)" fill="#fff" stroke="#1a1a1a" stroke-width="1.25"/>
<ellipse cx="511" cy="214.6" rx="6.2" ry="9.6" transform="rotate(10 511 214.6)" fill="none" stroke="#1a1a1a" stroke-width="1.25"/>
<path d="M513.25 205.87 L514.1 206.74 L514.8 207.84 L515.35 209.14 L515.72 210.6 L515.91 212.17 L515.9 213.81 L515.71 215.47 L515.32 217.09 L514.77 218.64 L514.05 220.05 L513.21 221.29 L512.25 222.32 L511.21 223.12 L510.12 223.64" fill="none" stroke="#1a1a1a" stroke-width="0.8" />
<path d="M537.75 233.28 L537.18 233.09 L536.63 232.83 L536.11 232.49 L535.6 232.09 L535.13 231.61 L534.68 231.07 L534.27 230.47 L533.89 229.81 L533.55 229.1 L533.25 228.33 L532.99 227.52 L532.78 226.67 L532.61 225.79 L532.48 224.88 L532.4 223.94 L532.37 222.98 L532.39 222.01 L532.45 221.04 L532.56 220.06 L532.71 219.1 L532.91 218.14 L533.15 217.2 L533.44 216.28 L533.77 215.4 L534.13 214.54 L534.53 213.73 L534.96 212.96 L535.43 212.24 L535.92 211.58 L536.44 210.97 L536.98 210.43 L537.54 209.95 L538.11 209.54 L538.7 209.2 L539.29 208.93 L539.89 208.74 L540.49 208.62 L541.09 208.58 L541.67 208.61 L542.25 208.72 L566.25 214.72 L566.82 214.91 L567.37 215.17 L567.89 215.51 L568.4 215.91 L568.87 216.39 L569.32 216.93 L569.73 217.53 L570.11 218.19 L570.45 218.9 L570.75 219.67 L571.01 220.48 L571.22 221.33 L571.39 222.21 L571.52 223.12 L571.6 224.06 L571.63 225.02 L571.61 225.99 L571.55 226.96 L571.44 227.94 L571.29 228.9 L571.09 229.86 L570.85 230.8 L570.56 231.72 L570.23 232.6 L569.87 233.46 L569.47 234.27 L569.04 235.04 L568.57 235.76 L568.08 236.42 L567.56 237.03 L567.02 237.57 L566.46 238.05 L565.89 238.46 L565.3 238.8 L564.71 239.07 L564.11 239.26 L563.51 239.38 L562.91 239.42 L562.33 239.39 L561.75 239.28 Z" fill="#fff" stroke="#1a1a1a" stroke-width="1.25" />
<ellipse cx="564" cy="227" rx="7.5" ry="12.5" transform="rotate(8 564 227)" fill="#fff" stroke="#1a1a1a" stroke-width="1.25"/>
<ellipse cx="564" cy="227" rx="6" ry="10.5" transform="rotate(8 564 227)" fill="none" stroke="#1a1a1a" stroke-width="1"/>
<path d="M560.6 218.6 L566.3 219.6 M559.2 221.7 L567.2 222.7 M558.7 224.8 L567.6 225.8 M558.7 227.9 L567.6 228.9 M559.2 231.0 L567.2 232.0 M560.6 234.1 L566.3 235.1 " fill="none" stroke="#1a1a1a" stroke-width="1.6" />
<path d="M560.6 218.6 L566.3 219.6 M559.2 221.7 L567.2 222.7 M558.7 224.8 L567.6 225.8 M558.7 227.9 L567.6 228.9 M559.2 231.0 L567.2 232.0 M560.6 234.1 L566.3 235.1 " fill="none" stroke="#fff" stroke-width="0.6" />
<path d="M184.7 213.12 L183.83 212.91 L182.98 212.6 L182.16 212.2 L181.38 211.72 L180.63 211.16 L179.94 210.53 L179.29 209.81 L178.69 209.03 L178.16 208.18 L177.68 207.28 L177.27 206.31 L176.92 205.31 L176.65 204.25 L176.44 203.17 L176.3 202.05 L176.24 200.91 L176.25 199.76 L176.33 198.6 L176.48 197.44 L176.7 196.29 L177 195.15 L177.36 194.03 L177.79 192.93 L178.28 191.88 L178.82 190.86 L179.43 189.89 L180.09 188.97 L180.8 188.11 L181.55 187.32 L182.34 186.59 L183.17 185.94 L184.03 185.37 L184.91 184.87 L185.81 184.46 L186.72 184.14 L187.64 183.91 L188.57 183.76 L189.49 183.71 L190.4 183.75 L191.3 183.88 L193.8 184.38 L194.67 184.59 L195.52 184.9 L196.34 185.3 L197.12 185.78 L197.87 186.34 L198.56 186.97 L199.21 187.69 L199.81 188.47 L200.34 189.32 L200.82 190.22 L201.23 191.19 L201.58 192.19 L201.85 193.25 L202.06 194.33 L202.2 195.45 L202.26 196.59 L202.25 197.74 L202.17 198.9 L202.02 200.06 L201.8 201.21 L201.5 202.35 L201.14 203.47 L200.71 204.57 L200.22 205.62 L199.68 206.64 L199.07 207.61 L198.41 208.53 L197.7 209.39 L196.95 210.18 L196.16 210.91 L195.33 211.56 L194.47 212.13 L193.59 212.63 L192.69 213.04 L191.78 213.36 L190.86 213.59 L189.93 213.74 L189.01 213.79 L188.1 213.75 L187.2 213.62 Z" fill="#fff" stroke="#1a1a1a" stroke-width="1.25" />
<ellipse cx="190.5" cy="199" rx="11.5" ry="15" transform="rotate(15 190.5 199)" fill="#fff" stroke="#1a1a1a" stroke-width="1.25"/>
<ellipse cx="191.3" cy="199" rx="6.3" ry="9.4" transform="rotate(15 191.3 199)" fill="none" stroke="#1a1a1a" stroke-width="1.25"/>
<path d="M193.92 190.68 L194.7 191.6 L195.33 192.74 L195.78 194.06 L196.04 195.52 L196.1 197.08 L195.97 198.68 L195.64 200.28 L195.12 201.83 L194.44 203.29 L193.6 204.6 L192.65 205.74 L191.6 206.65 L190.49 207.33 L189.35 207.74" fill="none" stroke="#1a1a1a" stroke-width="0.8" />
<path d="M217.7 219.42 L216.83 219.21 L215.98 218.9 L215.16 218.5 L214.38 218.02 L213.63 217.46 L212.94 216.83 L212.29 216.11 L211.69 215.33 L211.16 214.48 L210.68 213.58 L210.27 212.61 L209.92 211.61 L209.65 210.55 L209.44 209.47 L209.3 208.35 L209.24 207.21 L209.25 206.06 L209.33 204.9 L209.48 203.74 L209.7 202.59 L210 201.45 L210.36 200.33 L210.79 199.23 L211.28 198.18 L211.82 197.16 L212.43 196.19 L213.09 195.27 L213.8 194.41 L214.55 193.62 L215.34 192.89 L216.17 192.24 L217.03 191.67 L217.91 191.17 L218.81 190.76 L219.72 190.44 L220.64 190.21 L221.57 190.06 L222.49 190.01 L223.4 190.05 L224.3 190.18 L226.8 190.68 L227.67 190.89 L228.52 191.2 L229.34 191.6 L230.12 192.08 L230.87 192.64 L231.56 193.27 L232.21 193.99 L232.81 194.77 L233.34 195.62 L233.82 196.52 L234.23 197.49 L234.58 198.49 L234.85 199.55 L235.06 200.63 L235.2 201.75 L235.26 202.89 L235.25 204.04 L235.17 205.2 L235.02 206.36 L234.8 207.51 L234.5 208.65 L234.14 209.77 L233.71 210.87 L233.22 211.93 L232.68 212.94 L232.07 213.91 L231.41 214.83 L230.7 215.69 L229.95 216.48 L229.16 217.21 L228.33 217.86 L227.47 218.43 L226.59 218.93 L225.69 219.34 L224.78 219.66 L223.86 219.89 L222.93 220.04 L222.01 220.09 L221.1 220.05 L220.2 219.92 Z" fill="#fff" stroke="#1a1a1a" stroke-width="1.25" />
<ellipse cx="223.5" cy="205.3" rx="11.5" ry="15" transform="rotate(15 223.5 205.3)" fill="#fff" stroke="#1a1a1a" stroke-width="1.25"/>
<ellipse cx="224" cy="205.3" rx="6.5" ry="9.5" transform="rotate(15 224 205.3)" fill="none" stroke="#1a1a1a" stroke-width="1.25"/>
<path d="M226.71 196.9 L227.52 197.84 L228.17 199 L228.64 200.34 L228.92 201.82 L228.99 203.39 L228.86 205.01 L228.53 206.63 L228.01 208.2 L227.31 209.67 L226.46 211 L225.48 212.14 L224.4 213.06 L223.26 213.74 L222.09 214.15" fill="none" stroke="#1a1a1a" stroke-width="0.8" />
<path d="M248.28 217.33 L247.72 217.1 L247.18 216.81 L246.67 216.46 L246.18 216.04 L245.72 215.56 L245.29 215.03 L244.9 214.45 L244.55 213.81 L244.23 213.14 L243.96 212.42 L243.73 211.66 L243.55 210.87 L243.41 210.06 L243.32 209.22 L243.27 208.37 L243.27 207.5 L243.33 206.63 L243.42 205.76 L243.57 204.89 L243.76 204.03 L244 203.19 L244.27 202.37 L244.59 201.57 L244.95 200.81 L245.35 200.08 L245.78 199.39 L246.25 198.74 L246.74 198.14 L247.26 197.59 L247.8 197.1 L248.36 196.66 L248.94 196.29 L249.53 195.98 L250.13 195.73 L250.74 195.55 L251.35 195.44 L251.95 195.39 L252.55 195.42 L253.14 195.51 L253.72 195.67 L277.12 203.77 L277.68 204 L278.22 204.29 L278.73 204.64 L279.22 205.06 L279.68 205.54 L280.11 206.07 L280.5 206.65 L280.85 207.29 L281.17 207.96 L281.44 208.68 L281.67 209.44 L281.85 210.23 L281.99 211.04 L282.08 211.88 L282.13 212.73 L282.13 213.6 L282.07 214.47 L281.98 215.34 L281.83 216.21 L281.64 217.07 L281.4 217.91 L281.13 218.73 L280.81 219.53 L280.45 220.29 L280.05 221.02 L279.62 221.71 L279.15 222.36 L278.66 222.96 L278.14 223.51 L277.6 224 L277.04 224.44 L276.46 224.81 L275.87 225.12 L275.27 225.37 L274.66 225.55 L274.05 225.66 L273.45 225.71 L272.85 225.68 L272.26 225.59 L271.68 225.43 Z" fill="#fff" stroke="#1a1a1a" stroke-width="1.25" />
<ellipse cx="274.4" cy="214.6" rx="7.6" ry="11.2" transform="rotate(10 274.4 214.6)" fill="#fff" stroke="#1a1a1a" stroke-width="1.25"/>
<path d="M271.45 224.18 L270.46 223.22 L269.63 221.99 L268.99 220.55 L268.54 218.94 L268.31 217.2 L268.3 215.38 L268.51 213.55 L268.94 211.76 L269.57 210.05 L270.38 208.5 L271.35 207.13 L272.45 206 L273.65 205.13 L274.9 204.56" fill="none" stroke="#1a1a1a" stroke-width="0.9" />
<path d="M298.58 234.21 L297.7 234 L296.85 233.7 L296.02 233.31 L295.23 232.83 L294.48 232.27 L293.77 231.64 L293.1 230.93 L292.49 230.15 L291.94 229.3 L291.44 228.39 L291.01 227.43 L290.64 226.42 L290.34 225.37 L290.1 224.28 L289.94 223.16 L289.85 222.02 L289.83 220.86 L289.88 219.69 L290 218.53 L290.2 217.37 L290.46 216.22 L290.79 215.09 L291.19 213.99 L291.65 212.92 L292.18 211.9 L292.76 210.92 L293.39 209.99 L294.07 209.13 L294.8 208.32 L295.57 207.59 L296.38 206.93 L297.22 206.34 L298.09 205.84 L298.97 205.42 L299.87 205.09 L300.79 204.85 L301.7 204.7 L302.62 204.64 L303.53 204.67 L304.42 204.79 L306.92 205.29 L307.8 205.5 L308.65 205.8 L309.48 206.19 L310.27 206.67 L311.02 207.23 L311.73 207.86 L312.4 208.57 L313.01 209.35 L313.56 210.2 L314.06 211.11 L314.49 212.07 L314.86 213.08 L315.16 214.13 L315.4 215.22 L315.56 216.34 L315.65 217.48 L315.67 218.64 L315.62 219.81 L315.5 220.97 L315.3 222.13 L315.04 223.28 L314.71 224.41 L314.31 225.51 L313.85 226.58 L313.32 227.6 L312.74 228.58 L312.11 229.51 L311.43 230.37 L310.7 231.18 L309.93 231.91 L309.12 232.57 L308.28 233.16 L307.41 233.66 L306.53 234.08 L305.63 234.41 L304.71 234.65 L303.8 234.8 L302.88 234.86 L301.97 234.83 L301.08 234.71 Z" fill="#fff" stroke="#1a1a1a" stroke-width="1.25" />
<ellipse cx="304" cy="220" rx="11.5" ry="15" transform="rotate(12 304 220)" fill="#fff" stroke="#1a1a1a" stroke-width="1.25"/>
<ellipse cx="304.5" cy="220" rx="6.2" ry="9.4" transform="rotate(12 304.5 220)" fill="none" stroke="#1a1a1a" stroke-width="1.25"/>
<path d="M306.66 211.45 L307.47 212.33 L308.15 213.44 L308.65 214.73 L308.98 216.17 L309.12 217.72 L309.06 219.32 L308.81 220.94 L308.38 222.52 L307.78 224.01 L307.02 225.36 L306.14 226.55 L305.15 227.52 L304.09 228.26 L302.99 228.73" fill="none" stroke="#1a1a1a" stroke-width="0.8" />
<path d="M326.58 239.71 L325.7 239.5 L324.85 239.2 L324.02 238.81 L323.23 238.33 L322.48 237.77 L321.77 237.14 L321.1 236.43 L320.49 235.65 L319.94 234.8 L319.44 233.89 L319.01 232.93 L318.64 231.92 L318.34 230.87 L318.1 229.78 L317.94 228.66 L317.85 227.52 L317.83 226.36 L317.88 225.19 L318 224.03 L318.2 222.87 L318.46 221.72 L318.79 220.59 L319.19 219.49 L319.65 218.42 L320.18 217.4 L320.76 216.42 L321.39 215.49 L322.07 214.63 L322.8 213.82 L323.57 213.09 L324.38 212.43 L325.22 211.84 L326.09 211.34 L326.97 210.92 L327.87 210.59 L328.79 210.35 L329.7 210.2 L330.62 210.14 L331.53 210.17 L332.42 210.29 L334.92 210.79 L335.8 211 L336.65 211.3 L337.48 211.69 L338.27 212.17 L339.02 212.73 L339.73 213.36 L340.4 214.07 L341.01 214.85 L341.56 215.7 L342.06 216.61 L342.49 217.57 L342.86 218.58 L343.16 219.63 L343.4 220.72 L343.56 221.84 L343.65 222.98 L343.67 224.14 L343.62 225.31 L343.5 226.47 L343.3 227.63 L343.04 228.78 L342.71 229.91 L342.31 231.01 L341.85 232.08 L341.32 233.1 L340.74 234.08 L340.11 235.01 L339.43 235.87 L338.7 236.68 L337.93 237.41 L337.12 238.07 L336.28 238.66 L335.41 239.16 L334.53 239.58 L333.63 239.91 L332.71 240.15 L331.8 240.3 L330.88 240.36 L329.97 240.33 L329.08 240.21 Z" fill="#fff" stroke="#1a1a1a" stroke-width="1.25" />
<ellipse cx="332" cy="225.5" rx="11.5" ry="15" transform="rotate(12 332 225.5)" fill="#fff" stroke="#1a1a1a" stroke-width="1.25"/>
<ellipse cx="332.5" cy="226" rx="6.2" ry="9.7" transform="rotate(12 332.5 226)" fill="none" stroke="#1a1a1a" stroke-width="1.25"/>
<path d="M334.72 217.18 L335.53 218.08 L336.19 219.21 L336.69 220.54 L337.01 222.02 L337.14 223.62 L337.07 225.27 L336.81 226.94 L336.37 228.57 L335.76 230.11 L334.99 231.51 L334.1 232.74 L333.1 233.75 L332.04 234.51 L330.93 235.01" fill="none" stroke="#1a1a1a" stroke-width="0.8" />
<path d="M353.99 246.8 L353.08 246.1 L352.24 245.28 L351.49 244.35 L350.82 243.32 L350.26 242.2 L349.8 241.01 L349.45 239.75 L349.21 238.44 L349.09 237.09 L349.09 235.73 L349.2 234.36 L349.43 233 L349.78 231.66 L350.23 230.36 L350.79 229.11 L351.44 227.94 L352.19 226.84 L353.02 225.83 L353.93 224.92 L354.9 224.13 L355.93 223.46 L356.99 222.92 L358.09 222.51 L359.21 222.24 L360.33 222.11 L361.45 222.13 L362.54 222.29 L363.61 222.59 L364.64 223.03 L365.61 223.6 L366.52 224.3 L367.36 225.12 L368.11 226.05 L368.78 227.08 L369.34 228.2 L369.8 229.39 L370.15 230.65 L370.39 231.96 L370.51 233.31 L370.51 234.67 L370.4 236.04 L370.17 237.4 L369.82 238.74 L369.37 240.04 L368.81 241.29 L368.16 242.46 L367.41 243.56 L366.58 244.57 L365.67 245.48 L364.7 246.27 L363.67 246.94 L362.61 247.48 L361.51 247.89" fill="none" stroke="#1a1a1a" stroke-width="3.8" />
<path d="M353.99 246.8 L353.08 246.1 L352.24 245.28 L351.49 244.35 L350.82 243.32 L350.26 242.2 L349.8 241.01 L349.45 239.75 L349.21 238.44 L349.09 237.09 L349.09 235.73 L349.2 234.36 L349.43 233 L349.78 231.66 L350.23 230.36 L350.79 229.11 L351.44 227.94 L352.19 226.84 L353.02 225.83 L353.93 224.92 L354.9 224.13 L355.93 223.46 L356.99 222.92 L358.09 222.51 L359.21 222.24 L360.33 222.11 L361.45 222.13 L362.54 222.29 L363.61 222.59 L364.64 223.03 L365.61 223.6 L366.52 224.3 L367.36 225.12 L368.11 226.05 L368.78 227.08 L369.34 228.2 L369.8 229.39 L370.15 230.65 L370.39 231.96 L370.51 233.31 L370.51 234.67 L370.4 236.04 L370.17 237.4 L369.82 238.74 L369.37 240.04 L368.81 241.29 L368.16 242.46 L367.41 243.56 L366.58 244.57 L365.67 245.48 L364.7 246.27 L363.67 246.94 L362.61 247.48 L361.51 247.89" fill="none" stroke="#fff" stroke-width="1.5" />
<ellipse cx="355.6" cy="246" rx="2.3" ry="2.2" transform="rotate(0 355.6 246)" fill="#555" stroke="#1a1a1a" stroke-width="1.1"/>
<ellipse cx="355.9" cy="245.8" rx="0.9" ry="0.9" transform="rotate(0 355.9 245.8)" fill="#999" stroke="#1a1a1a" stroke-width="0"/>
<ellipse cx="362.5" cy="244.6" rx="2.3" ry="2.2" transform="rotate(0 362.5 244.6)" fill="#555" stroke="#1a1a1a" stroke-width="1.1"/>
<ellipse cx="362.8" cy="244.4" rx="0.9" ry="0.9" transform="rotate(0 362.8 244.4)" fill="#999" stroke="#1a1a1a" stroke-width="0"/>
<path d="M381.58 257.71 L380.7 257.5 L379.85 257.2 L379.02 256.81 L378.23 256.33 L377.48 255.77 L376.77 255.14 L376.1 254.43 L375.49 253.65 L374.94 252.8 L374.44 251.89 L374.01 250.93 L373.64 249.92 L373.34 248.87 L373.1 247.78 L372.94 246.66 L372.85 245.52 L372.83 244.36 L372.88 243.19 L373 242.03 L373.2 240.87 L373.46 239.72 L373.79 238.59 L374.19 237.49 L374.65 236.42 L375.18 235.4 L375.76 234.42 L376.39 233.49 L377.07 232.63 L377.8 231.82 L378.57 231.09 L379.38 230.43 L380.22 229.84 L381.09 229.34 L381.97 228.92 L382.87 228.59 L383.79 228.35 L384.7 228.2 L385.62 228.14 L386.53 228.17 L387.42 228.29 L389.92 228.79 L390.8 229 L391.65 229.3 L392.48 229.69 L393.27 230.17 L394.02 230.73 L394.73 231.36 L395.4 232.07 L396.01 232.85 L396.56 233.7 L397.06 234.61 L397.49 235.57 L397.86 236.58 L398.16 237.63 L398.4 238.72 L398.56 239.84 L398.65 240.98 L398.67 242.14 L398.62 243.31 L398.5 244.47 L398.3 245.63 L398.04 246.78 L397.71 247.91 L397.31 249.01 L396.85 250.08 L396.32 251.1 L395.74 252.08 L395.11 253.01 L394.43 253.87 L393.7 254.68 L392.93 255.41 L392.12 256.07 L391.28 256.66 L390.41 257.16 L389.53 257.58 L388.63 257.91 L387.71 258.15 L386.8 258.3 L385.88 258.36 L384.97 258.33 L384.08 258.21 Z" fill="#fff" stroke="#1a1a1a" stroke-width="1.25" />
<ellipse cx="387" cy="243.5" rx="11.5" ry="15" transform="rotate(12 387 243.5)" fill="#fff" stroke="#1a1a1a" stroke-width="1.25"/>
<ellipse cx="387.5" cy="243.5" rx="5.8" ry="9.4" transform="rotate(12 387.5 243.5)" fill="none" stroke="#1a1a1a" stroke-width="1.25"/>
<path d="M389.53 234.92 L390.28 235.79 L390.89 236.88 L391.35 238.16 L391.64 239.6 L391.75 241.14 L391.68 242.74 L391.42 244.36 L391 245.93 L390.41 247.43 L389.69 248.79 L388.84 249.98 L387.9 250.97 L386.89 251.72 L385.85 252.2" fill="none" stroke="#1a1a1a" stroke-width="0.8" />
<path d="M356.34 308.99 L356.05 308.86 L355.76 308.7 L355.48 308.49 L355.22 308.23 L354.96 307.94 L354.71 307.61 L354.48 307.24 L354.27 306.84 L354.07 306.41 L353.89 305.94 L353.73 305.46 L353.58 304.94 L353.46 304.41 L353.37 303.86 L353.29 303.3 L353.24 302.73 L353.21 302.15 L353.2 301.57 L353.22 300.99 L353.26 300.42 L353.32 299.85 L353.41 299.29 L353.52 298.75 L353.64 298.23 L353.8 297.72 L353.97 297.25 L354.15 296.8 L354.36 296.38 L354.58 295.99 L354.82 295.64 L355.07 295.32 L355.33 295.05 L355.61 294.81 L355.89 294.62 L356.18 294.48 L356.47 294.37 L356.77 294.31 L357.07 294.3 L357.36 294.33 L357.66 294.41 L490.16 340.51 L490.45 340.64 L490.74 340.8 L491.02 341.01 L491.28 341.27 L491.54 341.56 L491.79 341.89 L492.02 342.26 L492.23 342.66 L492.43 343.09 L492.61 343.56 L492.77 344.04 L492.92 344.56 L493.04 345.09 L493.13 345.64 L493.21 346.2 L493.26 346.77 L493.29 347.35 L493.3 347.93 L493.28 348.51 L493.24 349.08 L493.18 349.65 L493.09 350.21 L492.98 350.75 L492.86 351.27 L492.7 351.78 L492.53 352.25 L492.35 352.7 L492.14 353.12 L491.92 353.51 L491.68 353.86 L491.43 354.18 L491.17 354.45 L490.89 354.69 L490.61 354.88 L490.32 355.02 L490.03 355.13 L489.73 355.19 L489.43 355.2 L489.14 355.17 L488.84 355.09 Z" fill="#fff" stroke="#1a1a1a" stroke-width="1.25" />
<ellipse cx="489.5" cy="347.8" rx="3.8" ry="7.4" transform="rotate(0 489.5 347.8)" fill="#fff" stroke="#1a1a1a" stroke-width="1.25"/>
<ellipse cx="357" cy="301.7" rx="3.8" ry="7.4" transform="rotate(0 357 301.7)" fill="#fff" stroke="#1a1a1a" stroke-width="1.25"/>
<ellipse cx="490" cy="347.9" rx="2.8" ry="5.6" transform="rotate(0 490 347.9)" fill="none" stroke="#1a1a1a" stroke-width="0.8"/>
<path d="M323.34 322.18 L323.05 322.05 L322.76 321.88 L322.48 321.65 L322.22 321.39 L321.96 321.08 L321.71 320.73 L321.48 320.34 L321.27 319.92 L321.07 319.46 L320.89 318.97 L320.73 318.46 L320.58 317.92 L320.46 317.36 L320.37 316.78 L320.29 316.19 L320.24 315.59 L320.21 314.98 L320.2 314.36 L320.22 313.75 L320.26 313.15 L320.32 312.55 L320.41 311.96 L320.52 311.39 L320.64 310.84 L320.8 310.31 L320.97 309.81 L321.15 309.33 L321.36 308.89 L321.58 308.48 L321.82 308.11 L322.07 307.78 L322.33 307.49 L322.61 307.24 L322.89 307.04 L323.18 306.88 L323.47 306.78 L323.77 306.71 L324.07 306.7 L324.36 306.74 L324.66 306.82 L431.86 345.12 L432.15 345.25 L432.44 345.42 L432.72 345.65 L432.98 345.91 L433.24 346.22 L433.49 346.57 L433.72 346.96 L433.93 347.38 L434.13 347.84 L434.31 348.33 L434.47 348.84 L434.62 349.38 L434.74 349.94 L434.83 350.52 L434.91 351.11 L434.96 351.71 L434.99 352.32 L435 352.94 L434.98 353.55 L434.94 354.15 L434.88 354.75 L434.79 355.34 L434.68 355.91 L434.56 356.46 L434.4 356.99 L434.23 357.49 L434.05 357.97 L433.84 358.41 L433.62 358.82 L433.38 359.19 L433.13 359.52 L432.87 359.81 L432.59 360.06 L432.31 360.26 L432.02 360.42 L431.73 360.52 L431.43 360.59 L431.13 360.6 L430.84 360.56 L430.54 360.48 Z" fill="#fff" stroke="#1a1a1a" stroke-width="1.25" />
<ellipse cx="431.2" cy="352.8" rx="3.8" ry="7.8" transform="rotate(0 431.2 352.8)" fill="#fff" stroke="#1a1a1a" stroke-width="1.25"/>
<ellipse cx="324" cy="314.5" rx="3.8" ry="7.8" transform="rotate(0 324 314.5)" fill="#fff" stroke="#1a1a1a" stroke-width="1.25"/>
<ellipse cx="431.7" cy="352.9" rx="2.8" ry="5.9" transform="rotate(0 431.7 352.9)" fill="none" stroke="#1a1a1a" stroke-width="0.8"/>
<g transform="translate(0 0)">
<path d="M270.8 252.7 C271 250.5 273 250 274.5 250.2 C276.5 250 278.5 250.5 279.6 252 C281.5 256 283.5 261 287 268.4 L290.2 269.6 C293 270 296 269.5 298.5 267.5 C301 265.5 303 262 304 257 C303.5 254 302.2 250 302.2 246 L302.2 242 C302.3 239.5 304 238.3 307.2 237.6 C310 237.2 313 237.8 315 240.5 C316.8 243 317.4 248 317.2 252 L316.6 258.3 L309.5 280 L305.4 295.7 C309.5 300 310 312 306 317 C303 320 299 320 296.5 318.7 C293 318 290.5 317.5 288 316.6 L281 321.8 L273.5 303 C272.5 299 273 295 275 292.5 C276.5 291 278.5 290.3 280.3 290 L278.2 280 L273.3 268.4 C272 263 270.6 257 270.8 252.7 Z" fill="#fff" stroke="#1a1a1a" stroke-width="1.2" />
<path d="M276.4 253.3 C278 260 279.5 266 280.2 269.6 L285.5 302.5 M284.6 272.2 C286.5 273.5 288 274 289 274 C290 273.5 290.8 272.5 291.5 272.2 C294 271.8 296.5 271.3 298.4 270.9 C301 269 303 267 304.7 264.6 C306 262.5 307.5 261 308.4 260.2 M305.9 239.5 C307.5 241.5 309 244 309 247 L309 259 L314.7 260.2 L316.6 258.3 M290.2 299.9 C291 297 293 295.2 295.4 294.6" fill="none" stroke="#1a1a1a" stroke-width="0.9" />
</g>
<ellipse cx="300.7" cy="307.7" rx="8.4" ry="11.5" transform="rotate(5 300.7 307.7)" fill="#fff" stroke="#1a1a1a" stroke-width="1.2"/>
<ellipse cx="301.3" cy="308.1" rx="6.7" ry="9.7" transform="rotate(5 301.3 308.1)" fill="none" stroke="#1a1a1a" stroke-width="1"/>
<path d="M271.8 323.41 L271.44 323.51 L271.08 323.57 L270.71 323.59 L270.35 323.57 L270 323.51 L269.65 323.41 L269.3 323.27 L268.97 323.09 L268.65 322.88 L268.35 322.63 L268.06 322.35 L267.79 322.03 L267.54 321.68 L267.31 321.31 L267.1 320.91 L266.92 320.49 L266.76 320.04 L266.63 319.58 L266.53 319.1 L266.45 318.61 L266.4 318.11 L266.38 317.6 L266.39 317.1 L266.43 316.59 L266.49 316.08 L266.59 315.58 L266.71 315.09 L266.85 314.61 L267.02 314.15 L267.22 313.71 L267.44 313.28 L267.68 312.88 L267.94 312.51 L268.22 312.16 L268.52 311.85 L268.84 311.57 L269.16 311.32 L269.5 311.1 L269.85 310.93 L270.2 310.79 L281.2 307.19 L281.56 307.09 L281.92 307.03 L282.29 307.01 L282.65 307.03 L283 307.09 L283.35 307.19 L283.7 307.33 L284.03 307.51 L284.35 307.72 L284.65 307.97 L284.94 308.25 L285.21 308.57 L285.46 308.92 L285.69 309.29 L285.9 309.69 L286.08 310.11 L286.24 310.56 L286.37 311.02 L286.47 311.5 L286.55 311.99 L286.6 312.49 L286.62 313 L286.61 313.5 L286.57 314.01 L286.51 314.52 L286.41 315.02 L286.29 315.51 L286.15 315.99 L285.98 316.45 L285.78 316.89 L285.56 317.32 L285.32 317.72 L285.06 318.09 L284.78 318.44 L284.48 318.75 L284.16 319.03 L283.84 319.28 L283.5 319.5 L283.15 319.67 L282.8 319.81 Z" fill="#fff" stroke="#1a1a1a" stroke-width="1.25" />
<ellipse cx="271" cy="317.1" rx="4.6" ry="6.5" transform="rotate(5 271 317.1)" fill="#fff" stroke="#1a1a1a" stroke-width="1.25"/>
<ellipse cx="277.5" cy="315" rx="4.6" ry="6.5" transform="rotate(5 277.5 315)" fill="none" stroke="#1a1a1a" stroke-width="0.8"/>
<ellipse cx="291" cy="348.8" rx="20.5" ry="23" transform="rotate(12 291 348.8)" fill="none" stroke="#1a1a1a" stroke-width="1.4"/>
<ellipse cx="291.2" cy="348.8" rx="19" ry="21.5" transform="rotate(12 291.2 348.8)" fill="none" stroke="#1a1a1a" stroke-width="0.9"/>
<ellipse cx="290.7" cy="348.8" rx="15.7" ry="18.8" transform="rotate(12 290.7 348.8)" fill="none" stroke="#1a1a1a" stroke-width="1.2"/>
<ellipse cx="291.9" cy="349.1" rx="15.5" ry="18.4" transform="rotate(12 291.9 349.1)" fill="none" stroke="#1a1a1a" stroke-width="0.8"/>
<path d="M298.11 358.93 L297.89 358.83 L297.68 358.69 L297.47 358.51 L297.27 358.29 L297.08 358.03 L296.89 357.73 L296.72 357.4 L296.55 357.04 L296.4 356.64 L296.26 356.21 L296.14 355.76 L296.03 355.29 L295.93 354.79 L295.85 354.28 L295.79 353.75 L295.74 353.22 L295.71 352.67 L295.7 352.12 L295.71 351.57 L295.73 351.03 L295.77 350.48 L295.82 349.95 L295.89 349.43 L295.98 348.93 L296.09 348.45 L296.21 347.98 L296.34 347.55 L296.49 347.14 L296.64 346.76 L296.81 346.41 L297 346.1 L297.19 345.82 L297.38 345.58 L297.59 345.38 L297.8 345.22 L298.01 345.11 L298.23 345.03 L298.45 345 L298.67 345.01 L298.89 345.07 L309.39 348.57 L309.61 348.67 L309.82 348.81 L310.03 348.99 L310.23 349.21 L310.42 349.47 L310.61 349.77 L310.78 350.1 L310.95 350.46 L311.1 350.86 L311.24 351.29 L311.36 351.74 L311.47 352.21 L311.57 352.71 L311.65 353.22 L311.71 353.75 L311.76 354.28 L311.79 354.83 L311.8 355.38 L311.79 355.93 L311.77 356.47 L311.73 357.02 L311.68 357.55 L311.61 358.07 L311.52 358.57 L311.41 359.05 L311.29 359.52 L311.16 359.95 L311.01 360.36 L310.86 360.74 L310.69 361.09 L310.5 361.4 L310.31 361.68 L310.12 361.92 L309.91 362.12 L309.7 362.28 L309.49 362.39 L309.27 362.47 L309.05 362.5 L308.83 362.49 L308.61 362.43 Z" fill="#fff" stroke="#1a1a1a" stroke-width="1.25" />
<ellipse cx="298.5" cy="352" rx="2.8" ry="7" transform="rotate(0 298.5 352)" fill="#fff" stroke="#1a1a1a" stroke-width="1.25"/>
<path d="M313.4 341.7 C318 339.5 323 338.8 328.4 339.2 C333 339.6 338 340.8 341.8 342.5 L418 370.2 L414 424 L353.8 397 C351.5 396 350 394.5 348.5 394.8 C347 395 346.5 396.5 345.5 396 C344.5 394.5 343.5 393 341.8 392.7 L317.6 383.5 C310 381 304.5 371 304.2 358.4 C304.5 349 308 343.5 313.4 341.7 Z" fill="#fff" stroke="#1a1a1a" stroke-width="1.25" />
<path d="M319.5 339.8 C314 344 311 352 311 360 C311.5 368 313.5 376 317.6 383.5" fill="none" stroke="#1a1a1a" stroke-width="1" />
<path d="M327 346 C330 343 335 342 338 344 C340 346 334 348 332 351 C331 356 333.5 361 332.5 366 C331.5 371 331 374 332.5 378 C331 380.5 327 380 326 378 C325 374 326.5 369 326 364 C325.5 358 327.5 353 327 346 Z" fill="#fff" stroke="#1a1a1a" stroke-width="1.25" />
<path d="M352 354 C356 351 362 350 366 352 C368 354 363 355 360 358 C357 363 359 369 358 375 C357 381 357 385 356 388 C354 392 350 391 348 390 C349 386 352 382 352 377 C352.5 371 350 365 351 360 C351 357 351.5 355.5 352 354 Z" fill="#fff" stroke="#1a1a1a" stroke-width="1.25" />
<path d="M379 371 C382 368 386 368 389 370 C390 372 386 373 385 376 C384 381 386 386 385.5 391 C385 395 383 398 380 397 C378 395 380 391 380 386 C380 381 378 376 379 371 Z" fill="#fff" stroke="#1a1a1a" stroke-width="1.25" />
<path d="M341.5 343 C346 345 352 347 357 349.5 M361 351.5 C365 352.5 369 354 373 355.5" fill="none" stroke="#1a1a1a" stroke-width="1" />
<path d="M329.5 349 C331 352 329.5 356 330 361 C330.5 367 329 372 329.5 376" fill="none" stroke="#1a1a1a" stroke-width="0.7" />
<path d="M355 357 C356.5 362 354.5 368 355 374 C355.5 380 354 385 352 389" fill="none" stroke="#1a1a1a" stroke-width="0.7" />
<path d="M382 373 C383 378 382 383 382.5 388 C383 392 382 395 381.5 396" fill="none" stroke="#1a1a1a" stroke-width="0.7" />
<path d="M361.5 352 C357 357 358 364 357 370" fill="none" stroke="#1a1a1a" stroke-width="0.8" />
<ellipse cx="418" cy="397.5" rx="20.5" ry="26.5" transform="rotate(-6 418 397.5)" fill="#fff" stroke="#1a1a1a" stroke-width="1.25"/>
<path d="M416.59 407 L415.95 406.71 L415.31 406.35 L414.7 405.93 L414.11 405.45 L413.55 404.91 L413.02 404.31 L412.53 403.67 L412.07 402.97 L411.64 402.24 L411.27 401.46 L410.93 400.66 L410.65 399.82 L410.41 398.96 L410.22 398.08 L410.08 397.19 L410 396.29 L409.96 395.39 L409.98 394.49 L410.05 393.6 L410.18 392.73 L410.35 391.88 L410.58 391.05 L410.85 390.25 L411.17 389.49 L411.54 388.77 L411.95 388.1 L412.4 387.47 L412.89 386.89 L413.41 386.37 L413.96 385.91 L414.55 385.52 L415.15 385.18 L415.78 384.92 L416.42 384.72 L417.08 384.59 L417.74 384.53 L418.41 384.54 L419.08 384.63 L419.75 384.78 L420.41 385 L442.21 393.4 L442.85 393.69 L443.49 394.05 L444.1 394.47 L444.69 394.95 L445.25 395.49 L445.78 396.09 L446.27 396.73 L446.73 397.43 L447.16 398.16 L447.53 398.94 L447.87 399.74 L448.15 400.58 L448.39 401.44 L448.58 402.32 L448.72 403.21 L448.8 404.11 L448.84 405.01 L448.82 405.91 L448.75 406.8 L448.62 407.67 L448.45 408.52 L448.22 409.35 L447.95 410.15 L447.63 410.91 L447.26 411.63 L446.85 412.3 L446.4 412.93 L445.91 413.51 L445.39 414.03 L444.84 414.49 L444.25 414.88 L443.65 415.22 L443.02 415.48 L442.38 415.68 L441.72 415.81 L441.06 415.87 L440.39 415.86 L439.72 415.77 L439.05 415.62 L438.39 415.4 Z" fill="#fff" stroke="#1a1a1a" stroke-width="1.25" />
<ellipse cx="440.3" cy="404.4" rx="8.5" ry="11.5" transform="rotate(-6 440.3 404.4)" fill="#fff" stroke="#1a1a1a" stroke-width="1.25"/>
<ellipse cx="440.6" cy="405.2" rx="2.4" ry="2.9" transform="rotate(0 440.6 405.2)" fill="none" stroke="#1a1a1a" stroke-width="1.25"/>
<ellipse cx="421" cy="381.8" rx="1.9" ry="2.4" transform="rotate(0 421 381.8)" fill="none" stroke="#1a1a1a" stroke-width="1.25"/>
<ellipse cx="428.5" cy="394.3" rx="1.9" ry="1.5" transform="rotate(0 428.5 394.3)" fill="none" stroke="#1a1a1a" stroke-width="1.25"/>
<ellipse cx="419.3" cy="416.9" rx="1.9" ry="2.4" transform="rotate(0 419.3 416.9)" fill="none" stroke="#1a1a1a" stroke-width="1.25"/>
<g transform="translate(167 57.5)">
<path d="M270.8 252.7 C271 250.5 273 250 274.5 250.2 C276.5 250 278.5 250.5 279.6 252 C281.5 256 283.5 261 287 268.4 L290.2 269.6 C293 270 296 269.5 298.5 267.5 C301 265.5 303 262 304 257 C303.5 254 302.2 250 302.2 246 L302.2 242 C302.3 239.5 304 238.3 307.2 237.6 C310 237.2 313 237.8 315 240.5 C316.8 243 317.4 248 317.2 252 L316.6 258.3 L309.5 280 L305.4 295.7 C309.5 300 310 312 306 317 C303 320 299 320 296.5 318.7 C293 318 290.5 317.5 288 316.6 L281 321.8 L273.5 303 C272.5 299 273 295 275 292.5 C276.5 291 278.5 290.3 280.3 290 L278.2 280 L273.3 268.4 C272 263 270.6 257 270.8 252.7 Z" fill="#fff" stroke="#1a1a1a" stroke-width="1.2" />
<path d="M276.4 253.3 C278 260 279.5 266 280.2 269.6 L285.5 302.5 M284.6 272.2 C286.5 273.5 288 274 289 274 C290 273.5 290.8 272.5 291.5 272.2 C294 271.8 296.5 271.3 298.4 270.9 C301 269 303 267 304.7 264.6 C306 262.5 307.5 261 308.4 260.2 M305.9 239.5 C307.5 241.5 309 244 309 247 L309 259 L314.7 260.2 L316.6 258.3 M290.2 299.9 C291 297 293 295.2 295.4 294.6" fill="none" stroke="#1a1a1a" stroke-width="0.9" />
</g>
<ellipse cx="467.7" cy="365.2" rx="8.4" ry="11.5" transform="rotate(5 467.7 365.2)" fill="#fff" stroke="#1a1a1a" stroke-width="1.2"/>
<ellipse cx="468.3" cy="365.6" rx="6.7" ry="9.7" transform="rotate(5 468.3 365.6)" fill="none" stroke="#1a1a1a" stroke-width="1"/>
<path d="M438.8 380.91 L438.44 381.01 L438.08 381.07 L437.71 381.09 L437.35 381.07 L437 381.01 L436.65 380.91 L436.3 380.77 L435.97 380.59 L435.65 380.38 L435.35 380.13 L435.06 379.85 L434.79 379.53 L434.54 379.18 L434.31 378.81 L434.1 378.41 L433.92 377.99 L433.76 377.54 L433.63 377.08 L433.53 376.6 L433.45 376.11 L433.4 375.61 L433.38 375.1 L433.39 374.6 L433.43 374.09 L433.49 373.58 L433.59 373.08 L433.71 372.59 L433.85 372.11 L434.02 371.65 L434.22 371.21 L434.44 370.78 L434.68 370.38 L434.94 370.01 L435.22 369.66 L435.52 369.35 L435.84 369.07 L436.16 368.82 L436.5 368.6 L436.85 368.43 L437.2 368.29 L448.2 364.69 L448.56 364.59 L448.92 364.53 L449.29 364.51 L449.65 364.53 L450 364.59 L450.35 364.69 L450.7 364.83 L451.03 365.01 L451.35 365.22 L451.65 365.47 L451.94 365.75 L452.21 366.07 L452.46 366.42 L452.69 366.79 L452.9 367.19 L453.08 367.61 L453.24 368.06 L453.37 368.52 L453.47 369 L453.55 369.49 L453.6 369.99 L453.62 370.5 L453.61 371 L453.57 371.51 L453.51 372.02 L453.41 372.52 L453.29 373.01 L453.15 373.49 L452.98 373.95 L452.78 374.39 L452.56 374.82 L452.32 375.22 L452.06 375.59 L451.78 375.94 L451.48 376.25 L451.16 376.53 L450.84 376.78 L450.5 377 L450.15 377.17 L449.8 377.31 Z" fill="#fff" stroke="#1a1a1a" stroke-width="1.25" />
<ellipse cx="438" cy="374.6" rx="4.6" ry="6.5" transform="rotate(5 438 374.6)" fill="#fff" stroke="#1a1a1a" stroke-width="1.25"/>
<ellipse cx="444.5" cy="372.5" rx="4.6" ry="6.5" transform="rotate(5 444.5 372.5)" fill="none" stroke="#1a1a1a" stroke-width="0.8"/>
<g transform="translate(240.5 48)">
<path d="M270.8 252.7 C271 250.5 273 250 274.5 250.2 C276.5 250 278.5 250.5 279.6 252 C281.5 256 283.5 261 287 268.4 L290.2 269.6 C293 270 296 269.5 298.5 267.5 C301 265.5 303 262 304 257 C303.5 254 302.2 250 302.2 246 L302.2 242 C302.3 239.5 304 238.3 307.2 237.6 C310 237.2 313 237.8 315 240.5 C316.8 243 317.4 248 317.2 252 L316.6 258.3 L309.5 280 L305.4 295.7 C309.5 300 310 312 306 317 C303 320 299 320 296.5 318.7 C293 318 290.5 317.5 288 316.6 L281 321.8 L273.5 303 C272.5 299 273 295 275 292.5 C276.5 291 278.5 290.3 280.3 290 L278.2 280 L273.3 268.4 C272 263 270.6 257 270.8 252.7 Z" fill="#fff" stroke="#1a1a1a" stroke-width="1.2" />
<path d="M276.4 253.3 C278 260 279.5 266 280.2 269.6 L285.5 302.5 M284.6 272.2 C286.5 273.5 288 274 289 274 C290 273.5 290.8 272.5 291.5 272.2 C294 271.8 296.5 271.3 298.4 270.9 C301 269 303 267 304.7 264.6 C306 262.5 307.5 261 308.4 260.2 M305.9 239.5 C307.5 241.5 309 244 309 247 L309 259 L314.7 260.2 L316.6 258.3 M290.2 299.9 C291 297 293 295.2 295.4 294.6" fill="none" stroke="#1a1a1a" stroke-width="0.9" />
</g>
<ellipse cx="541.2" cy="355.7" rx="8.4" ry="11.5" transform="rotate(5 541.2 355.7)" fill="#fff" stroke="#1a1a1a" stroke-width="1.2"/>
<ellipse cx="541.8" cy="356.1" rx="6.7" ry="9.7" transform="rotate(5 541.8 356.1)" fill="none" stroke="#1a1a1a" stroke-width="1"/>
<path d="M512.3 371.41 L511.94 371.51 L511.58 371.57 L511.21 371.59 L510.85 371.57 L510.5 371.51 L510.15 371.41 L509.8 371.27 L509.47 371.09 L509.15 370.88 L508.85 370.63 L508.56 370.35 L508.29 370.03 L508.04 369.68 L507.81 369.31 L507.6 368.91 L507.42 368.49 L507.26 368.04 L507.13 367.58 L507.03 367.1 L506.95 366.61 L506.9 366.11 L506.88 365.6 L506.89 365.1 L506.93 364.59 L506.99 364.08 L507.09 363.58 L507.21 363.09 L507.35 362.61 L507.52 362.15 L507.72 361.71 L507.94 361.28 L508.18 360.88 L508.44 360.51 L508.72 360.16 L509.02 359.85 L509.34 359.57 L509.66 359.32 L510 359.1 L510.35 358.93 L510.7 358.79 L521.7 355.19 L522.06 355.09 L522.42 355.03 L522.79 355.01 L523.15 355.03 L523.5 355.09 L523.85 355.19 L524.2 355.33 L524.53 355.51 L524.85 355.72 L525.15 355.97 L525.44 356.25 L525.71 356.57 L525.96 356.92 L526.19 357.29 L526.4 357.69 L526.58 358.11 L526.74 358.56 L526.87 359.02 L526.97 359.5 L527.05 359.99 L527.1 360.49 L527.12 361 L527.11 361.5 L527.07 362.01 L527.01 362.52 L526.91 363.02 L526.79 363.51 L526.65 363.99 L526.48 364.45 L526.28 364.89 L526.06 365.32 L525.82 365.72 L525.56 366.09 L525.28 366.44 L524.98 366.75 L524.66 367.03 L524.34 367.28 L524 367.5 L523.65 367.67 L523.3 367.81 Z" fill="#fff" stroke="#1a1a1a" stroke-width="1.25" />
<ellipse cx="511.5" cy="365.1" rx="4.6" ry="6.5" transform="rotate(5 511.5 365.1)" fill="#fff" stroke="#1a1a1a" stroke-width="1.25"/>
<ellipse cx="518" cy="363" rx="4.6" ry="6.5" transform="rotate(5 518 363)" fill="none" stroke="#1a1a1a" stroke-width="0.8"/>
<path d="M530.0 345.5 l1.6 -7 l1.4 7 l1.6 -7.5 l1.4 7.5 l1.6 -7 l1.4 7 l1.6 -6.5 l1.2 5" fill="none" stroke="#1a1a1a" stroke-width="0.9" />
<ellipse cx="467.3" cy="421.7" rx="20.5" ry="24.2" transform="rotate(14 467.3 421.7)" fill="none" stroke="#1a1a1a" stroke-width="1.4"/>
<ellipse cx="467.5" cy="421.7" rx="19" ry="22.7" transform="rotate(14 467.5 421.7)" fill="none" stroke="#1a1a1a" stroke-width="0.9"/>
<ellipse cx="467" cy="421.7" rx="15.7" ry="20" transform="rotate(14 467 421.7)" fill="none" stroke="#1a1a1a" stroke-width="1.2"/>
<ellipse cx="468.2" cy="422" rx="15.5" ry="19.6" transform="rotate(14 468.2 422)" fill="none" stroke="#1a1a1a" stroke-width="0.8"/>
<path d="M424.1 435.3 L424.11 435.14 L424.14 434.97 L424.2 434.81 L424.28 434.65 L424.37 434.5 L424.49 434.35 L424.63 434.2 L424.79 434.07 L424.96 433.94 L425.15 433.82 L425.36 433.7 L425.58 433.6 L425.82 433.51 L426.07 433.43 L426.32 433.36 L426.59 433.3 L426.86 433.26 L427.14 433.23 L427.42 433.21 L427.7 433.2 L427.98 433.21 L428.26 433.23 L428.54 433.26 L428.81 433.3 L429.08 433.36 L429.33 433.43 L429.58 433.51 L429.82 433.6 L430.04 433.7 L430.25 433.82 L430.44 433.94 L430.61 434.07 L430.77 434.2 L430.91 434.35 L431.03 434.5 L431.12 434.65 L431.2 434.81 L431.26 434.97 L431.29 435.14 L431.3 435.3 L431.3 439.5 L431.29 439.66 L431.26 439.83 L431.2 439.99 L431.12 440.15 L431.03 440.3 L430.91 440.45 L430.77 440.6 L430.61 440.73 L430.44 440.86 L430.25 440.98 L430.04 441.1 L429.82 441.2 L429.58 441.29 L429.33 441.37 L429.08 441.44 L428.81 441.5 L428.54 441.54 L428.26 441.57 L427.98 441.59 L427.7 441.6 L427.42 441.59 L427.14 441.57 L426.86 441.54 L426.59 441.5 L426.32 441.44 L426.07 441.37 L425.82 441.29 L425.58 441.2 L425.36 441.1 L425.15 440.98 L424.96 440.86 L424.79 440.73 L424.63 440.6 L424.49 440.45 L424.37 440.3 L424.28 440.15 L424.2 439.99 L424.14 439.83 L424.11 439.66 L424.1 439.5 Z" fill="#fff" stroke="#1a1a1a" stroke-width="1.25" />
<ellipse cx="427.7" cy="435.3" rx="3.6" ry="2.1" transform="rotate(0 427.7 435.3)" fill="#fff" stroke="#1a1a1a" stroke-width="1.25"/>
<path d="M525.69 437 L526.01 437.66 L526.54 438.37 L527.25 439.13 L528.1 439.98 L529.04 440.91 L530.02 441.92 L530.06 442.77 L530.04 443.61 L530 444.46 L529.94 445.3 L529.85 446.13 L529.73 446.96 L529.59 447.79 L529.43 448.6 L529.24 449.41 L529.03 450.21 L528.8 450.99 L528.55 451.75 L528.27 452.51 L527.97 453.24 L527.66 453.96 L527.32 454.65 L526.96 455.32 L526.58 455.98 L526.19 456.6 L525.78 457.21 L525.35 457.78 L524.9 458.33 L524.44 458.85 L523.97 459.34 L523.14 459.28 L522.03 458.7 L521 458.14 L520.09 457.68 L519.32 457.36 L518.68 457.24 L518.19 457.37 L517.81 457.72 L517.43 458.06 L517.05 458.39 L516.66 458.71 L516.26 459.01 L515.86 459.29 L515.46 459.56 L515.05 459.86 L514.72 460.41 L514.45 461.28 L514.22 462.42 L514 463.8 L513.76 465.36 L513.49 467.03 L513.05 467.93 L512.51 468.23 L511.95 468.5 L511.39 468.74 L510.82 468.94 L510.25 469.11 L509.67 469.25 L509.09 469.35 L508.5 469.41 L507.91 469.44 L507.32 469.44 L506.73 469.4 L506.15 469.32 L505.56 469.21 L504.98 469.06 L504.41 468.88 L503.84 468.67 L503.28 468.42 L502.72 468.14 L502.18 467.82 L501.64 467.48 L501.12 467.1 L500.61 466.69 L500.11 466.25 L499.69 465.6 L499.63 463.86 L499.6 462.23 L499.57 460.76 L499.5 459.51 L499.37 458.51 L499.15 457.8 L498.76 457.47 L498.2 457.48 L497.49 457.72 L496.65 458.13 L495.68 458.67 L494.62 459.27 L493.48 459.86 L492.99 459.4 L492.52 458.9 L492.07 458.37 L491.62 457.82 L491.2 457.24 L490.79 456.63 L490.4 456 L490.02 455.34 L489.67 454.66 L489.33 453.96 L489.02 453.25 L488.73 452.51 L488.45 451.75 L488.2 450.98 L487.98 450.2 L487.77 449.4 L487.59 448.59 L487.43 447.78 L487.3 446.95 L487.19 446.12 L487.1 445.28 L487.04 444.44 L487 443.6 L486.99 442.76 L487.52 441.8 L488.48 440.81 L487.89 440.13 L486.77 439.47 L486.6 438.66 L486.48 437.83 L486.39 437 L486.32 436.16 L486.27 435.32 L486.25 434.47 L486.25 433.62 L486.27 432.77 L486.32 431.93 L486.4 431.08 L486.5 430.24 L486.62 429.41 L486.77 428.59 L486.94 427.78 L487.13 426.97 L487.35 426.18 L487.59 425.41 L487.85 424.65 L488.13 423.9 L488.44 423.18 L488.76 422.47 L489.1 421.79 L489.47 421.13 L489.85 420.49 L490.67 420.28 L491.85 420.47 L492.93 420.66 L493.89 420.81 L494.7 420.85 L495.33 420.75 L495.78 420.46 L496.1 420 L496.41 419.53 L496.73 419.08 L497.06 418.64 L497.39 418.22 L497.74 417.8 L498.03 417.28 L498.19 416.49 L498.24 415.44 L498.22 414.14 L498.16 412.63 L498.1 410.98 L498.08 409.29 L498.54 408.77 L499.01 408.28 L499.5 407.81 L500.01 407.38 L500.52 406.97 L501.05 406.6 L501.58 406.26 L502.13 405.95 L502.69 405.67 L503.25 405.43 L503.82 405.22 L504.4 405.04 L504.98 404.9 L505.57 404.8 L506.15 404.73 L506.74 404.7 L507.33 404.7 L507.92 404.73 L508.5 404.8 L509.08 404.91 L509.66 405.05 L510.23 405.23 L510.8 405.44 L511.35 405.68 L511.81 406.78 L512.17 408.4 L512.49 409.9 L512.79 411.21 L513.09 412.27 L513.41 413.04 L513.79 413.5 L514.21 413.72 L514.63 413.94 L515.04 414.18 L515.46 414.44 L515.86 414.7 L516.34 414.79 L516.92 414.59 L517.63 414.15 L518.46 413.53 L519.39 412.77 L520.41 411.96 L521.35 411.46 L521.87 411.84 L522.38 412.25 L522.88 412.69 L523.36 413.15 L523.84 413.65 L524.3 414.18 L524.74 414.74 L525.17 415.32 L525.58 415.93 L525.97 416.56 L526.35 417.22 L526.7 417.9 L527.04 418.6 L527.35 419.31 L527.65 420.05 L527.92 420.8 L528.17 421.57 L528.4 422.35 L528.61 423.15 L528.79 423.95 L528.95 424.77 L529.08 425.59 L529.19 426.42 L529.28 427.25 L528.58 428.41 L527.74 429.55 L526.96 430.6 L526.31 431.53 L525.82 432.36 L525.52 433.11 L525.45 433.78 L525.51 434.42 L525.55 435.06 L525.58 435.71 L525.59 436.35 Z" fill="#fff" stroke="#1a1a1a" stroke-width="1.2" />
<path d="M499.5 459.5 L508.5 461.0 M486.4 437.0 L495.4 438.5 M498.1 411.0 L507.1 412.5 " fill="none" stroke="#1a1a1a" stroke-width="0.8" />
<path d="M534.69 438.5 L535.01 439.16 L535.54 439.87 L536.25 440.63 L537.1 441.48 L538.04 442.41 L539.02 443.42 L539.06 444.27 L539.04 445.11 L539 445.96 L538.94 446.8 L538.85 447.63 L538.73 448.46 L538.59 449.29 L538.43 450.1 L538.24 450.91 L538.03 451.71 L537.8 452.49 L537.55 453.25 L537.27 454.01 L536.97 454.74 L536.66 455.46 L536.32 456.15 L535.96 456.82 L535.58 457.48 L535.19 458.1 L534.78 458.71 L534.35 459.28 L533.9 459.83 L533.44 460.35 L532.97 460.84 L532.14 460.78 L531.03 460.2 L530 459.64 L529.09 459.18 L528.32 458.86 L527.68 458.74 L527.19 458.87 L526.81 459.22 L526.43 459.56 L526.05 459.89 L525.66 460.21 L525.26 460.51 L524.86 460.79 L524.46 461.06 L524.05 461.36 L523.72 461.91 L523.45 462.78 L523.22 463.92 L523 465.3 L522.76 466.86 L522.49 468.53 L522.05 469.43 L521.51 469.73 L520.95 470 L520.39 470.24 L519.82 470.44 L519.25 470.61 L518.67 470.75 L518.09 470.85 L517.5 470.91 L516.91 470.94 L516.32 470.94 L515.73 470.9 L515.15 470.82 L514.56 470.71 L513.98 470.56 L513.41 470.38 L512.84 470.17 L512.28 469.92 L511.72 469.64 L511.18 469.32 L510.64 468.98 L510.12 468.6 L509.61 468.19 L509.11 467.75 L508.69 467.1 L508.63 465.36 L508.6 463.73 L508.57 462.26 L508.5 461.01 L508.37 460.01 L508.15 459.3 L507.76 458.97 L507.2 458.98 L506.49 459.22 L505.65 459.63 L504.68 460.17 L503.62 460.77 L502.48 461.36 L501.99 460.9 L501.52 460.4 L501.07 459.87 L500.62 459.32 L500.2 458.74 L499.79 458.13 L499.4 457.5 L499.02 456.84 L498.67 456.16 L498.33 455.46 L498.02 454.75 L497.73 454.01 L497.45 453.25 L497.2 452.48 L496.98 451.7 L496.77 450.9 L496.59 450.09 L496.43 449.28 L496.3 448.45 L496.19 447.62 L496.1 446.78 L496.04 445.94 L496 445.1 L495.99 444.26 L496.52 443.3 L497.48 442.31 L496.89 441.63 L495.77 440.97 L495.6 440.16 L495.48 439.33 L495.39 438.5 L495.32 437.66 L495.27 436.82 L495.25 435.97 L495.25 435.12 L495.27 434.27 L495.32 433.43 L495.4 432.58 L495.5 431.74 L495.62 430.91 L495.77 430.09 L495.94 429.28 L496.13 428.47 L496.35 427.68 L496.59 426.91 L496.85 426.15 L497.13 425.4 L497.44 424.68 L497.76 423.97 L498.1 423.29 L498.47 422.63 L498.85 421.99 L499.67 421.78 L500.85 421.97 L501.93 422.16 L502.89 422.31 L503.7 422.35 L504.33 422.25 L504.78 421.96 L505.1 421.5 L505.41 421.03 L505.73 420.58 L506.06 420.14 L506.39 419.72 L506.74 419.3 L507.03 418.78 L507.19 417.99 L507.24 416.94 L507.22 415.64 L507.16 414.13 L507.1 412.48 L507.08 410.79 L507.54 410.27 L508.01 409.78 L508.5 409.31 L509.01 408.88 L509.52 408.47 L510.05 408.1 L510.58 407.76 L511.13 407.45 L511.69 407.17 L512.25 406.93 L512.82 406.72 L513.4 406.54 L513.98 406.4 L514.57 406.3 L515.15 406.23 L515.74 406.2 L516.33 406.2 L516.92 406.23 L517.5 406.3 L518.08 406.41 L518.66 406.55 L519.23 406.73 L519.8 406.94 L520.35 407.18 L520.81 408.28 L521.17 409.9 L521.49 411.4 L521.79 412.71 L522.09 413.77 L522.41 414.54 L522.79 415 L523.21 415.22 L523.63 415.44 L524.04 415.68 L524.46 415.94 L524.86 416.2 L525.34 416.29 L525.92 416.09 L526.63 415.65 L527.46 415.03 L528.39 414.27 L529.41 413.46 L530.35 412.96 L530.87 413.34 L531.38 413.75 L531.88 414.19 L532.36 414.65 L532.84 415.15 L533.3 415.68 L533.74 416.24 L534.17 416.82 L534.58 417.43 L534.97 418.06 L535.35 418.72 L535.7 419.4 L536.04 420.1 L536.35 420.81 L536.65 421.55 L536.92 422.3 L537.17 423.07 L537.4 423.85 L537.61 424.65 L537.79 425.45 L537.95 426.27 L538.08 427.09 L538.19 427.92 L538.28 428.75 L537.58 429.91 L536.74 431.05 L535.96 432.1 L535.31 433.03 L534.82 433.86 L534.52 434.61 L534.45 435.28 L534.51 435.92 L534.55 436.56 L534.58 437.21 L534.59 437.85 Z" fill="#fff" stroke="#1a1a1a" stroke-width="1.2" />
<ellipse cx="513" cy="438" rx="9.5" ry="13.8" transform="rotate(-5 513 438)" fill="#fff" stroke="#1a1a1a" stroke-width="1"/>
<ellipse cx="517.5" cy="438.8" rx="10.5" ry="13.8" transform="rotate(-5 517.5 438.8)" fill="#fff" stroke="#1a1a1a" stroke-width="1.2"/>
<ellipse cx="518" cy="439.3" rx="8.3" ry="11.3" transform="rotate(-5 518 439.3)" fill="none" stroke="#1a1a1a" stroke-width="1"/>
<path d="M514.5 421.74 L514.31 421.68 L514.11 421.6 L513.92 421.5 L513.74 421.39 L513.56 421.25 L513.4 421.1 L513.24 420.93 L513.1 420.75 L512.97 420.55 L512.84 420.35 L512.74 420.12 L512.64 419.89 L512.56 419.66 L512.5 419.41 L512.45 419.16 L512.42 418.9 L512.4 418.64 L512.4 418.38 L512.42 418.13 L512.45 417.87 L512.49 417.62 L512.56 417.37 L512.63 417.13 L512.73 416.9 L512.83 416.68 L512.95 416.47 L513.08 416.27 L513.23 416.09 L513.38 415.92 L513.55 415.76 L513.72 415.63 L513.9 415.51 L514.09 415.41 L514.28 415.33 L514.48 415.27 L514.68 415.22 L514.89 415.2 L515.09 415.2 L515.29 415.22 L515.5 415.26 L526 417.76 L526.19 417.82 L526.39 417.9 L526.58 418 L526.76 418.11 L526.94 418.25 L527.1 418.4 L527.26 418.57 L527.4 418.75 L527.53 418.95 L527.66 419.15 L527.76 419.38 L527.86 419.61 L527.94 419.84 L528 420.09 L528.05 420.34 L528.08 420.6 L528.1 420.86 L528.1 421.12 L528.08 421.37 L528.05 421.63 L528.01 421.88 L527.94 422.13 L527.87 422.37 L527.77 422.6 L527.67 422.82 L527.55 423.03 L527.42 423.23 L527.27 423.41 L527.12 423.58 L526.95 423.74 L526.78 423.87 L526.6 423.99 L526.41 424.09 L526.22 424.17 L526.02 424.23 L525.82 424.28 L525.61 424.3 L525.41 424.3 L525.21 424.28 L525 424.24 Z" fill="#fff" stroke="#1a1a1a" stroke-width="1.25" />
<ellipse cx="525.5" cy="421" rx="2.6" ry="3.3" transform="rotate(0 525.5 421)" fill="#fff" stroke="#1a1a1a" stroke-width="1.25"/>
<path d="M530.64 427.57 L530.44 427.52 L530.24 427.46 L530.05 427.37 L529.86 427.27 L529.68 427.14 L529.51 427 L529.35 426.85 L529.19 426.67 L529.05 426.49 L528.92 426.29 L528.81 426.07 L528.7 425.85 L528.62 425.62 L528.54 425.37 L528.48 425.13 L528.44 424.87 L528.41 424.62 L528.4 424.36 L528.4 424.1 L528.43 423.84 L528.46 423.59 L528.51 423.34 L528.58 423.09 L528.66 422.85 L528.76 422.63 L528.87 422.41 L528.99 422.2 L529.13 422.01 L529.28 421.83 L529.44 421.66 L529.6 421.52 L529.78 421.39 L529.96 421.27 L530.15 421.18 L530.35 421.11 L530.55 421.05 L530.75 421.02 L530.95 421 L531.16 421.01 L531.36 421.03 L544.86 423.53 L545.06 423.58 L545.26 423.64 L545.45 423.73 L545.64 423.83 L545.82 423.96 L545.99 424.1 L546.15 424.25 L546.31 424.43 L546.45 424.61 L546.58 424.81 L546.69 425.03 L546.8 425.25 L546.88 425.48 L546.96 425.73 L547.02 425.97 L547.06 426.23 L547.09 426.48 L547.1 426.74 L547.1 427 L547.07 427.26 L547.04 427.51 L546.99 427.76 L546.92 428.01 L546.84 428.25 L546.74 428.47 L546.63 428.69 L546.51 428.9 L546.37 429.09 L546.22 429.27 L546.06 429.44 L545.9 429.58 L545.72 429.71 L545.54 429.83 L545.35 429.92 L545.15 429.99 L544.95 430.05 L544.75 430.08 L544.55 430.1 L544.34 430.09 L544.14 430.07 Z" fill="#fff" stroke="#1a1a1a" stroke-width="1.25" />
<ellipse cx="544.5" cy="426.8" rx="2.6" ry="3.3" transform="rotate(0 544.5 426.8)" fill="#fff" stroke="#1a1a1a" stroke-width="1.25"/>
<path d="M498.64 435.17 L498.44 435.12 L498.24 435.06 L498.05 434.97 L497.86 434.87 L497.68 434.74 L497.51 434.6 L497.35 434.45 L497.19 434.27 L497.05 434.09 L496.92 433.89 L496.81 433.67 L496.7 433.45 L496.62 433.22 L496.54 432.97 L496.48 432.73 L496.44 432.47 L496.41 432.22 L496.4 431.96 L496.4 431.7 L496.43 431.44 L496.46 431.19 L496.51 430.94 L496.58 430.69 L496.66 430.45 L496.76 430.23 L496.87 430.01 L496.99 429.8 L497.13 429.61 L497.28 429.43 L497.44 429.26 L497.6 429.12 L497.78 428.99 L497.96 428.87 L498.15 428.78 L498.35 428.71 L498.55 428.65 L498.75 428.62 L498.95 428.6 L499.16 428.61 L499.36 428.63 L513.06 431.13 L513.26 431.18 L513.46 431.24 L513.65 431.33 L513.84 431.43 L514.02 431.56 L514.19 431.7 L514.35 431.85 L514.51 432.03 L514.65 432.21 L514.78 432.41 L514.89 432.63 L515 432.85 L515.08 433.08 L515.16 433.33 L515.22 433.57 L515.26 433.83 L515.29 434.08 L515.3 434.34 L515.3 434.6 L515.27 434.86 L515.24 435.11 L515.19 435.36 L515.12 435.61 L515.04 435.85 L514.94 436.07 L514.83 436.29 L514.71 436.5 L514.57 436.69 L514.42 436.87 L514.26 437.04 L514.1 437.18 L513.92 437.31 L513.74 437.43 L513.55 437.52 L513.35 437.59 L513.15 437.65 L512.95 437.68 L512.75 437.7 L512.54 437.69 L512.34 437.67 Z" fill="#fff" stroke="#1a1a1a" stroke-width="1.25" />
<ellipse cx="512.7" cy="434.4" rx="2.6" ry="3.3" transform="rotate(0 512.7 434.4)" fill="#fff" stroke="#1a1a1a" stroke-width="1.25"/>
<path d="M530.73 451.88 L530.53 451.84 L530.33 451.79 L530.13 451.71 L529.94 451.61 L529.76 451.5 L529.58 451.37 L529.42 451.22 L529.26 451.05 L529.11 450.87 L528.98 450.68 L528.86 450.47 L528.75 450.25 L528.65 450.02 L528.57 449.78 L528.51 449.54 L528.46 449.29 L528.42 449.03 L528.4 448.77 L528.4 448.51 L528.41 448.26 L528.44 448 L528.49 447.75 L528.55 447.5 L528.62 447.26 L528.72 447.03 L528.82 446.8 L528.94 446.59 L529.07 446.39 L529.21 446.21 L529.36 446.04 L529.53 445.88 L529.7 445.74 L529.88 445.62 L530.07 445.52 L530.26 445.44 L530.46 445.37 L530.66 445.33 L530.86 445.3 L531.07 445.3 L531.27 445.32 L544.77 447.22 L544.97 447.26 L545.17 447.31 L545.37 447.39 L545.56 447.49 L545.74 447.6 L545.92 447.73 L546.08 447.88 L546.24 448.05 L546.39 448.23 L546.52 448.42 L546.64 448.63 L546.75 448.85 L546.85 449.08 L546.93 449.32 L546.99 449.56 L547.04 449.81 L547.08 450.07 L547.1 450.33 L547.1 450.59 L547.09 450.84 L547.06 451.1 L547.01 451.35 L546.95 451.6 L546.88 451.84 L546.78 452.07 L546.68 452.3 L546.56 452.51 L546.43 452.71 L546.29 452.89 L546.14 453.06 L545.97 453.22 L545.8 453.36 L545.62 453.48 L545.43 453.58 L545.24 453.66 L545.04 453.73 L544.84 453.77 L544.64 453.8 L544.43 453.8 L544.23 453.78 Z" fill="#fff" stroke="#1a1a1a" stroke-width="1.25" />
<ellipse cx="544.5" cy="450.5" rx="2.6" ry="3.3" transform="rotate(0 544.5 450.5)" fill="#fff" stroke="#1a1a1a" stroke-width="1.25"/>
<path d="M498.73 456.08 L498.53 456.04 L498.33 455.99 L498.13 455.91 L497.94 455.81 L497.76 455.7 L497.58 455.57 L497.42 455.42 L497.26 455.25 L497.11 455.07 L496.98 454.88 L496.86 454.67 L496.75 454.45 L496.65 454.22 L496.57 453.98 L496.51 453.74 L496.46 453.49 L496.42 453.23 L496.4 452.97 L496.4 452.71 L496.41 452.46 L496.44 452.2 L496.49 451.95 L496.55 451.7 L496.62 451.46 L496.72 451.23 L496.82 451 L496.94 450.79 L497.07 450.59 L497.21 450.41 L497.36 450.24 L497.53 450.08 L497.7 449.94 L497.88 449.82 L498.07 449.72 L498.26 449.64 L498.46 449.57 L498.66 449.53 L498.86 449.5 L499.07 449.5 L499.27 449.52 L511.27 451.22 L511.47 451.26 L511.67 451.31 L511.87 451.39 L512.06 451.49 L512.24 451.6 L512.42 451.73 L512.58 451.88 L512.74 452.05 L512.89 452.23 L513.02 452.42 L513.14 452.63 L513.25 452.85 L513.35 453.08 L513.43 453.32 L513.49 453.56 L513.54 453.81 L513.58 454.07 L513.6 454.33 L513.6 454.59 L513.59 454.84 L513.56 455.1 L513.51 455.35 L513.45 455.6 L513.38 455.84 L513.28 456.07 L513.18 456.3 L513.06 456.51 L512.93 456.71 L512.79 456.89 L512.64 457.06 L512.47 457.22 L512.3 457.36 L512.12 457.48 L511.93 457.58 L511.74 457.66 L511.54 457.73 L511.34 457.77 L511.14 457.8 L510.93 457.8 L510.73 457.78 Z" fill="#fff" stroke="#1a1a1a" stroke-width="1.25" />
<ellipse cx="511" cy="454.5" rx="2.6" ry="3.3" transform="rotate(0 511 454.5)" fill="#fff" stroke="#1a1a1a" stroke-width="1.25"/>
<path d="M515.59 464.46 L515.39 464.41 L515.2 464.34 L515.01 464.25 L514.82 464.14 L514.64 464.01 L514.47 463.87 L514.31 463.71 L514.16 463.53 L514.02 463.34 L513.9 463.14 L513.78 462.92 L513.68 462.7 L513.6 462.46 L513.53 462.22 L513.47 461.97 L513.43 461.72 L513.41 461.46 L513.4 461.2 L513.41 460.94 L513.43 460.68 L513.47 460.43 L513.53 460.18 L513.6 459.94 L513.68 459.7 L513.78 459.48 L513.9 459.26 L514.02 459.06 L514.16 458.87 L514.31 458.69 L514.47 458.53 L514.64 458.39 L514.82 458.26 L515.01 458.15 L515.2 458.06 L515.39 457.99 L515.59 457.94 L515.8 457.91 L516 457.9 L516.2 457.91 L516.41 457.94 L529.01 460.44 L529.21 460.49 L529.4 460.56 L529.59 460.65 L529.78 460.76 L529.96 460.89 L530.13 461.03 L530.29 461.19 L530.44 461.37 L530.58 461.56 L530.7 461.76 L530.82 461.98 L530.92 462.2 L531 462.44 L531.07 462.68 L531.13 462.93 L531.17 463.18 L531.19 463.44 L531.2 463.7 L531.19 463.96 L531.17 464.22 L531.13 464.47 L531.07 464.72 L531 464.96 L530.92 465.2 L530.82 465.42 L530.7 465.64 L530.58 465.84 L530.44 466.03 L530.29 466.21 L530.13 466.37 L529.96 466.51 L529.78 466.64 L529.59 466.75 L529.4 466.84 L529.21 466.91 L529.01 466.96 L528.8 466.99 L528.6 467 L528.4 466.99 L528.19 466.96 Z" fill="#fff" stroke="#1a1a1a" stroke-width="1.25" />
<ellipse cx="528.6" cy="463.7" rx="2.6" ry="3.3" transform="rotate(0 528.6 463.7)" fill="#fff" stroke="#1a1a1a" stroke-width="1.25"/>
<path d="M553.02 468.01 L552.17 467.78 L551.34 467.47 L550.54 467.08 L549.78 466.61 L549.05 466.06 L548.36 465.44 L547.71 464.76 L547.12 464.01 L546.58 463.21 L546.1 462.35 L545.68 461.44 L545.32 460.49 L545.02 459.5 L544.79 458.48 L544.63 457.44 L544.54 456.38 L544.51 455.3 L544.56 454.23 L544.68 453.15 L544.86 452.08 L545.11 451.03 L545.43 450 L545.81 448.99 L546.25 448.02 L546.76 447.09 L547.31 446.21 L547.92 445.38 L548.58 444.6 L549.29 443.88 L550.03 443.23 L550.81 442.65 L551.62 442.15 L552.45 441.71 L553.31 441.36 L554.18 441.09 L555.06 440.9 L555.95 440.79 L556.83 440.77 L557.71 440.84 L558.58 440.99 L560.78 441.49 L561.63 441.72 L562.46 442.03 L563.26 442.42 L564.02 442.89 L564.75 443.44 L565.44 444.06 L566.09 444.74 L566.68 445.49 L567.22 446.29 L567.7 447.15 L568.12 448.06 L568.48 449.01 L568.78 450 L569.01 451.02 L569.17 452.06 L569.26 453.12 L569.29 454.2 L569.24 455.27 L569.12 456.35 L568.94 457.42 L568.69 458.47 L568.37 459.5 L567.99 460.51 L567.55 461.48 L567.04 462.41 L566.49 463.29 L565.88 464.12 L565.22 464.9 L564.51 465.62 L563.77 466.27 L562.99 466.85 L562.18 467.35 L561.35 467.79 L560.49 468.14 L559.62 468.41 L558.74 468.6 L557.85 468.71 L556.97 468.73 L556.09 468.66 L555.22 468.51 Z" fill="#fff" stroke="#1a1a1a" stroke-width="1.25" />
<ellipse cx="558" cy="455" rx="11.2" ry="13.8" transform="rotate(10 558 455)" fill="#fff" stroke="#1a1a1a" stroke-width="1.25"/>
<ellipse cx="558.5" cy="455.3" rx="5.6" ry="7.5" transform="rotate(10 558.5 455.3)" fill="none" stroke="#1a1a1a" stroke-width="1.25"/>
<path d="M560.07 448.34 L560.85 449.04 L561.5 449.92 L562.02 450.95 L562.39 452.1 L562.59 453.34 L562.62 454.63 L562.47 455.92 L562.16 457.19 L561.7 458.39 L561.08 459.49 L560.35 460.44 L559.51 461.23 L558.59 461.83 L557.62 462.22" fill="none" stroke="#1a1a1a" stroke-width="0.8" />
<g transform="translate(573.00 461.20) rotate(12.13)">
<rect x="0" y="-4.42" width="20.46" height="8.84" rx="2" fill="#555" stroke="#1a1a1a" stroke-width="1.1"/>
<path d="M1.2 -4.1 L2.0 4.1 M2.8 -4.1 L3.6 4.1 M4.4 -4.1 L5.2 4.1 M6.0 -4.1 L6.8 4.1 M7.6 -4.1 L8.4 4.1 M9.2 -4.1 L10.0 4.1 M10.8 -4.1 L11.6 4.1 M12.4 -4.1 L13.2 4.1 M14.0 -4.1 L14.8 4.1 M15.6 -4.1 L16.4 4.1 M17.2 -4.1 L18.0 4.1 M18.8 -4.1 L19.6 4.1 " fill="none" stroke="#ccc" stroke-width="0.6" />
</g>
<path d="M592 460.5 L600.5 456.5 L603 474.5 L592.5 470 Z" fill="#fff" stroke="#1a1a1a" stroke-width="1.1" />
<ellipse cx="603" cy="465.5" rx="5.6" ry="8.6" transform="rotate(5 603 465.5)" fill="#fff" stroke="#1a1a1a" stroke-width="1.2"/>
<path d="M601.2 462.5 L604.5 461.8 L606 465.5 L604.3 469 L601 469 L599.8 465.5 Z" fill="none" stroke="#1a1a1a" stroke-width="0.8" />
<text x="464.06" y="11.2">5</text>
<text x="474.26" y="43.5">4</text>
<text x="228.24" y="38">12</text>
<text x="359.06" y="36.5">1</text>
<text x="472.24" y="75">38</text>
<text x="110.74" y="103.9">24</text>
<text x="148.24" y="98.3">25</text>
<text x="175.74" y="102.5">23</text>
<text x="103.24" y="139.5">24</text>
<text x="133.24" y="161.5">25</text>
<text x="236.06" y="95.1">5</text>
<text x="290.54" y="116.1">20</text>
<text x="174.74" y="175.5">22</text>
<text x="227.74" y="172.5">19</text>
<text x="249.06" y="181">3</text>
<text x="286.86" y="188.5">8</text>
<text x="394.06" y="120.5">6</text>
<text x="345.54" y="129.5">30</text>
<text x="360.54" y="134">10</text>
<text x="379.86" y="139.2">9</text>
<text x="391.04" y="140.2">21</text>
<text x="411.86" y="147">7</text>
<text x="433.74" y="223">35</text>
<text x="465.36" y="225.1">2</text>
<text x="499.14" y="241.2">11</text>
<text x="538.74" y="247.5">12</text>
<text x="173.54" y="225.1">18</text>
<text x="209.74" y="231.5">16</text>
<text x="248.74" y="234.4">34</text>
<text x="280.54" y="241.9">17</text>
<text x="326.74" y="252.1">15</text>
<text x="346.74" y="262.4">14</text>
<text x="375.04" y="269.5">13</text>
<text x="253.94" y="274.2">26</text>
<text x="316.54" y="306">27</text>
<text x="404.74" y="306.5">36</text>
<text x="470.24" y="293.5">26</text>
<text x="541.54" y="283.8">37</text>
<text x="255.44" y="371.1">32</text>
<text x="324.44" y="412.5">31</text>
<text x="421.04" y="457.2">33</text>
<text x="453.74" y="457.2">32</text>
<text x="522.54" y="411.3">29</text>
<text x="557.54" y="437.6">28</text>
<text x="610.56" y="474.1">5</text>
</svg></body></html>
